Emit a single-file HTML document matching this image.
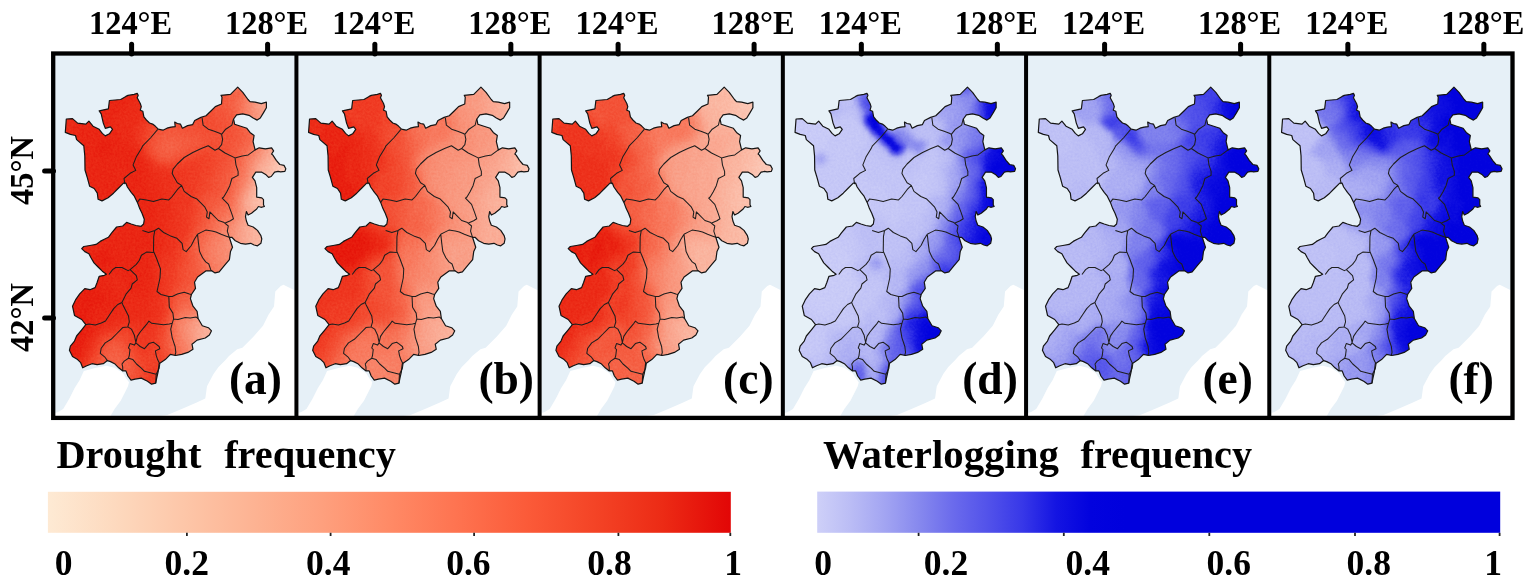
<!DOCTYPE html>
<html><head><meta charset="utf-8"><style>
html,body{margin:0;padding:0;background:#fff;width:1528px;height:584px;overflow:hidden}
svg{display:block}
text{font-family:"Liberation Serif","Times New Roman",serif;font-weight:bold;fill:#000}
</style></head><body>
<svg width="1528" height="584" viewBox="0 0 1528 584">
<defs>
<path id="ol" d="M137.2 93.4 L138.2 95.3 L137.2 97.8 L140.3 103.5 L141.3 106.6 L140.3 110.2 L142.8 111.2 L143.9 116.9 L146.4 120.0 L149.5 123.0 L152.6 124.1 L155.2 126.1 L158.3 129.2 L162.9 130.2 L167.0 128.2 L171.1 127.1 L175.2 126.6 L174.7 122.0 L177.3 123.5 L180.4 124.1 L182.4 128.2 L187.6 125.6 L192.7 124.6 L194.7 120.5 L200.9 117.4 L206.0 115.8 L211.2 110.7 L215.3 106.6 L221.5 104.0 L222.0 97.3 L221.0 95.3 L230.5 94.4 L237.7 87.2 L242.8 92.3 L248.0 99.5 L250.0 101.6 L255.1 102.2 L261.3 103.6 L266.4 102.2 L266.4 107.7 L263.4 112.9 L260.3 118.0 L257.2 120.1 L253.1 118.0 L249.0 115.3 L242.8 113.9 L236.6 114.9 L233.6 119.0 L234.6 124.2 L240.7 126.2 L246.9 128.3 L250.0 132.4 L254.1 135.5 L253.1 141.6 L255.1 149.9 L259.2 147.8 L265.4 148.8 L271.6 147.8 L273.6 150.9 L271.6 154.0 L272.9 155.1 L276.3 160.3 L279.8 164.5 L284.0 165.4 L285.8 168.8 L284.9 171.4 L280.6 171.9 L278.1 171.4 L274.6 172.2 L271.2 176.5 L268.6 177.4 L266.1 174.8 L261.8 172.2 L255.8 172.2 L252.4 177.4 L255.0 180.8 L256.7 187.7 L256.7 197.1 L261.8 197.9 L263.5 199.6 L263.5 204.8 L264.4 206.5 L261.0 207.3 L258.4 206.5 L256.7 209.0 L251.5 213.3 L248.1 215.0 L246.4 211.6 L245.5 216.7 L246.4 221.0 L248.1 225.3 L253.2 227.0 L257.5 230.4 L260.9 235.6 L261.8 239.0 L260.9 243.3 L257.5 245.8 L254.1 245.0 L250.7 243.3 L245.5 244.1 L240.4 243.3 L235.3 240.7 L231.8 237.3 L229.3 237.3 L232.5 247.3 L230.5 251.4 L229.4 259.6 L224.3 265.7 L219.2 271.9 L215.1 272.9 L212.0 270.9 L205.8 270.9 L201.7 274.0 L197.6 277.0 L194.5 282.2 L195.5 288.4 L191.4 294.5 L190.4 298.6 L193.0 306.2 L197.1 311.3 L198.1 318.5 L202.3 325.7 L208.4 327.7 L211.5 330.8 L209.4 334.9 L205.3 338.0 L197.1 340.1 L192.0 344.2 L193.0 349.3 L187.9 352.4 L181.7 354.4 L175.5 355.5 L170.4 354.4 L165.3 359.6 L159.1 363.7 L158.1 371.9 L156.7 378.1 L155.7 383.2 L151.6 384.2 L147.5 381.2 L141.3 378.1 L135.1 379.1 L131.0 380.1 L127.9 376.0 L125.9 370.9 L122.8 370.9 L118.7 367.8 L114.6 363.7 L110.5 361.6 L107.4 360.6 L103.3 363.7 L97.1 364.7 L92.0 363.7 L86.8 365.7 L82.7 367.8 L80.7 362.7 L77.6 359.6 L72.5 356.5 L69.4 350.3 L70.4 346.2 L74.5 341.1 L76.6 336.0 L81.7 329.8 L85.8 324.7 L81.7 319.5 L74.5 315.4 L72.5 306.2 L75.5 299.9 L79.7 293.8 L84.8 288.6 L89.9 289.7 L95.1 287.6 L97.1 282.5 L99.2 276.3 L104.3 275.3 L106.4 274.2 L102.3 271.2 L98.1 267.0 L94.0 262.9 L91.0 257.8 L88.9 253.7 L84.8 251.6 L81.7 248.6 L83.8 246.5 L89.9 245.5 L96.1 244.4 L100.2 241.4 L104.3 239.3 L108.4 237.3 L111.5 233.1 L116.6 227.0 L122.8 226.0 L126.6 222.4 L131.2 224.0 L135.9 225.5 L141.2 226.3 L143.6 224.0 L144.3 219.3 L142.0 213.2 L139.7 208.6 L137.4 202.4 L134.3 196.2 L131.2 192.4 L127.4 187.0 L125.8 183.1 L123.5 183.1 L118.1 188.5 L113.5 193.2 L108.1 197.8 L102.0 200.9 L98.1 199.3 L97.3 193.2 L94.2 188.5 L89.6 186.2 L87.3 177.7 L85.0 170.0 L84.8 156.0 L83.8 145.7 L76.6 139.6 L75.5 135.5 L70.4 134.4 L65.3 132.4 L66.3 119.0 L72.5 118.6 L77.6 123.1 L85.8 124.2 L88.9 121.1 L93.0 126.2 L99.2 129.3 L102.3 133.4 L105.3 135.9 L109.4 133.8 L112.5 129.3 L110.5 126.8 L105.3 128.3 L103.3 123.1 L101.2 113.9 L99.2 110.8 L108.4 108.8 L109.4 100.5 L120.7 99.5 L125.9 96.4 L128.0 95.4 L134.1 94.4 Z"/>
<clipPath id="clp"><use href="#ol"/></clipPath>
<path id="inl" d="M157.7 129.3 L150.9 137.5 L142.7 145.8 L141.4 148.6 L136.2 157.1 L133.1 164.9 L135.8 170.4 L130.1 173.3 L124.0 178.5 L124.9 184.1 M202.1 117.9 L203.1 125.1 L208.3 129.2 L214.4 131.2 L219.6 133.3 L221.6 134.3 M221.6 134.3 L225.7 129.2 L231.9 125.1 L232.9 121.0 L233.6 119.0 M221.6 134.3 L222.6 139.4 L221.6 144.6 L218.4 148.5 L215.0 150.3 L208.2 145.8 L201.3 148.6 L192.8 152.5 L184.2 157.5 L177.3 164.0 L173.1 169.1 L172.2 173.4 L173.9 176.8 L177.3 182.8 L181.6 185.4 M181.6 185.4 L177.3 189.7 L172.2 196.5 L168.8 199.9 L161.9 199.1 L153.4 201.6 L146.5 199.9 L139.7 199.1 L137.4 202.4 M181.6 185.4 L184.2 191.4 L191.1 196.5 L197.0 199.1 L201.3 203.4 L204.7 206.8 L207.3 211.9 L206.5 217.1 L209.0 218.8 L209.9 211.9 L213.3 215.3 L218.4 220.5 L223.6 222.2 L228.3 226.0 L227.3 231.1 L229.3 237.3 M218.4 148.5 L225.0 153.0 L235.0 157.9 L242.2 155.9 L248.3 154.9 L255.1 149.9 M235.0 157.9 L236.0 165.1 L238.1 171.3 L238.1 175.4 L231.9 178.5 L229.8 185.7 L226.8 191.8 L223.7 197.0 L222.2 198.2 L228.3 204.4 L231.4 212.6 L233.5 218.8 L230.4 220.8 L225.2 222.9 M142.4 230.5 L148.6 232.6 L154.8 230.5 L158.5 228.2 L163.6 232.5 L170.5 235.9 L177.0 238.3 L182.1 243.4 L183.1 249.6 L186.2 251.6 L191.3 245.5 L194.4 239.3 L197.5 234.2 M197.5 234.2 L201.6 232.1 L205.7 230.1 L211.9 231.1 L216.0 232.1 L221.1 234.2 L226.3 236.2 L229.3 237.3 M197.5 234.2 L198.5 243.4 L199.6 251.6 L202.6 257.8 L205.7 261.9 L208.8 264.0 L210.9 270.1 L212.0 270.9 M154.8 230.5 L153.7 236.7 L153.5 251.1 L156.8 259.0 L160.5 269.0 L160.0 278.0 L157.0 291.5 L161.0 294.5 L168.8 296.5 L169.3 307.3 L172.9 313.1 L173.6 318.9 L172.2 323.3 M153.5 252.5 L146.5 252.1 L141.4 255.2 L139.4 260.3 L136.3 264.4 L130.1 269.6 L128.1 270.6 L121.9 267.5 L115.7 267.5 L112.6 269.6 L109.0 274.5 M130.1 269.6 L136.3 275.7 L137.3 279.9 L132.2 284.0 L131.1 288.1 L126.0 294.2 L121.9 302.5 L117.8 304.5 L113.7 308.6 L109.6 314.8 L105.5 321.0 L101.3 323.0 L95.2 325.1 L89.0 324.0 L85.8 324.7 M168.8 296.5 L172.2 296.5 L177.4 294.0 L184.2 292.3 L189.4 294.0 L191.4 294.5 M121.9 302.5 L122.7 304.4 L125.6 310.2 L128.5 316.0 L129.3 321.8 L127.8 326.9 M127.8 326.9 L122.7 327.6 L116.9 333.5 L111.1 339.3 L105.2 342.9 L101.2 348.2 L100.3 353.3 L104.6 356.8 L107.4 360.6 M127.8 326.9 L131.4 329.1 L134.3 334.9 L135.8 342.2 L135.8 342.9 M135.8 342.9 L137.3 336.4 L140.2 332.0 L143.8 327.6 L147.4 323.3 L148.9 321.1 L151.8 323.3 L157.6 324.0 L163.4 324.7 L169.3 324.0 L172.2 323.3 M135.8 342.9 L140.2 346.5 L144.5 348.7 L148.9 343.6 L153.3 342.2 L155.4 343.6 L159.1 346.5 L159.8 348.7 L155.4 350.9 L156.2 355.3 L157.6 359.6 L159.8 364.0 L159.1 368.4 L156.2 374.2 L155.7 383.2 M135.8 342.9 L134.3 345.1 L130.0 343.6 L128.5 348.0 L130.0 349.5 L129.3 355.3 L128.5 358.2 L124.2 361.1 L122.0 364.0 L122.7 366.9 L122.8 370.9 M128.5 358.2 L132.9 359.6 L136.5 364.0 L141.6 368.4 L144.5 371.3 L150.3 372.7 L156.2 374.2 M173.6 318.9 L178.0 319.6 L185.3 317.5 L190.2 317.9 L196.2 317.1 L198.1 318.5 M172.2 323.3 L170.7 329.1 L172.2 337.8 L175.1 346.5 L175.8 352.4 L175.0 355.5"/>
<filter id="fr" x="40" y="70" width="270" height="340" filterUnits="userSpaceOnUse" color-interpolation-filters="sRGB">
<feGaussianBlur in="SourceGraphic" stdDeviation="3" edgeMode="duplicate" result="bl"/>
<feTurbulence type="fractalNoise" baseFrequency="0.45" numOctaves="2" seed="3" result="tn"/>
<feColorMatrix in="tn" type="matrix" values="1 0 0 0 0 1 0 0 0 0 1 0 0 0 0 0 0 0 0 1" result="gn"/>
<feComposite in="bl" in2="gn" operator="arithmetic" k1="0" k2="1" k3="0.1" k4="-0.05"/>
<feComponentTransfer><feFuncR type="table" tableValues="0.996 0.992 0.988 0.984 0.980 0.976 0.973 0.961 0.949 0.925 0.894"/><feFuncG type="table" tableValues="0.929 0.863 0.792 0.722 0.647 0.565 0.471 0.369 0.267 0.165 0.055"/><feFuncB type="table" tableValues="0.894 0.808 0.725 0.639 0.557 0.463 0.361 0.259 0.165 0.086 0.024"/></feComponentTransfer>
</filter>
<filter id="fb" x="40" y="70" width="270" height="340" filterUnits="userSpaceOnUse" color-interpolation-filters="sRGB">
<feGaussianBlur in="SourceGraphic" stdDeviation="2" edgeMode="duplicate" result="bl"/>
<feTurbulence type="fractalNoise" baseFrequency="0.45" numOctaves="2" seed="5" result="tn"/>
<feColorMatrix in="tn" type="matrix" values="1 0 0 0 0 1 0 0 0 0 1 0 0 0 0 0 0 0 0 1" result="gn"/>
<feComposite in="bl" in2="gn" operator="arithmetic" k1="0" k2="1" k3="0.1" k4="-0.05"/>
<feComponentTransfer><feFuncR type="table" tableValues="0.800 0.729 0.635 0.525 0.416 0.322 0.220 0.078 0.008"/><feFuncG type="table" tableValues="0.808 0.737 0.643 0.533 0.416 0.322 0.220 0.078 0.008"/><feFuncB type="table" tableValues="0.973 0.961 0.949 0.933 0.925 0.918 0.910 0.886 0.871"/></feComponentTransfer>
</filter>

<linearGradient id="cbr" x1="0" x2="1" y1="0" y2="0"><stop offset="0.0" stop-color="#FEEAD4"/><stop offset="0.1" stop-color="#FDD9BE"/><stop offset="0.2" stop-color="#FDC6A8"/><stop offset="0.3" stop-color="#FDB393"/><stop offset="0.4" stop-color="#FEA07E"/><stop offset="0.5" stop-color="#FF8A66"/><stop offset="0.6" stop-color="#FE7350"/><stop offset="0.7" stop-color="#FB5B39"/><stop offset="0.8" stop-color="#F44426"/><stop offset="0.9" stop-color="#EC2B15"/><stop offset="1.0" stop-color="#E20606"/></linearGradient>
<linearGradient id="cbb" x1="0" x2="1" y1="0" y2="0"><stop offset="0.00" stop-color="#CED0F8"/><stop offset="0.05" stop-color="#BABCF5"/><stop offset="0.10" stop-color="#A2A4F2"/><stop offset="0.15" stop-color="#8688EE"/><stop offset="0.20" stop-color="#6A6AEC"/><stop offset="0.25" stop-color="#5252EA"/><stop offset="0.30" stop-color="#3838E8"/><stop offset="0.35" stop-color="#1414E2"/><stop offset="0.40" stop-color="#0202DE"/><stop offset="0.45" stop-color="#0000DD"/><stop offset="0.50" stop-color="#0000DD"/><stop offset="0.55" stop-color="#0000DD"/><stop offset="0.60" stop-color="#0000DD"/><stop offset="0.65" stop-color="#0000DD"/><stop offset="0.70" stop-color="#0000DD"/><stop offset="0.75" stop-color="#0000DD"/><stop offset="0.80" stop-color="#0000DD"/><stop offset="0.85" stop-color="#0000DD"/><stop offset="0.90" stop-color="#0000DD"/><stop offset="0.95" stop-color="#0000DD"/><stop offset="1.00" stop-color="#0000DD"/></linearGradient>
</defs>
<g transform="translate(0.00,0)">
<rect x="55" y="55" width="243" height="362" fill="#E6F0F7"/>
<path d="M55.0 413.0 L58.1 412.0 L63.2 408.9 L69.4 398.6 L74.5 388.3 L79.7 380.1 L83.8 370.9 L96.1 367.8 L106.4 365.7 L114.6 367.8 L122.8 372.9 L125.9 378.1 L129.0 382.2 L128.0 386.3 L124.9 392.5 L120.7 400.7 L114.6 408.9 L110.5 416.0 L55.0 416.0 Z" fill="#fff"/>
<path d="M297.0 291.5 L289.0 287.4 L283.5 284.7 L280.8 286.0 L275.3 291.5 L274.0 306.6 L268.5 314.8 L263.0 325.8 L253.4 336.8 L242.4 347.7 L237.2 349.3 L229.0 356.0 L225.5 360.0 L218.5 367.0 L213.5 374.0 L207.0 386.3 L205.3 398.6 L196.1 402.7 L181.7 408.9 L167.3 415.1 L160.0 416.0 L297.0 416.0 Z" fill="#fff"/>
<g clip-path="url(#clp)"><g filter="url(#fr)"><path fill="#212121" d="M285 180h5v5h-5zM285 185h5v5h-5z"/><path fill="#262626" d="M285 165h5v5h-5zM285 170h5v5h-5zM280 175h10v5h-10zM280 180h5v5h-5zM285 190h5v5h-5z"/><path fill="#2b2b2b" d="M285 160h5v5h-5zM280 170h5v5h-5zM280 185h5v5h-5z"/><path fill="#313131" d="M285 155h5v5h-5zM280 165h5v5h-5zM275 175h5v5h-5zM275 180h5v5h-5zM275 185h5v5h-5zM280 190h5v5h-5zM285 195h5v5h-5z"/><path fill="#363636" d="M280 160h5v5h-5zM275 165h5v5h-5zM275 170h5v5h-5zM270 190h10v5h-10zM280 195h5v5h-5z"/><path fill="#3c3c3c" d="M285 150h5v5h-5zM280 155h5v5h-5zM270 175h5v5h-5zM270 180h5v5h-5zM265 185h10v5h-10zM265 190h5v5h-5zM265 195h15v5h-15zM270 200h20v5h-20z"/><path fill="#414141" d="M285 145h5v5h-5zM275 160h5v5h-5zM270 170h5v5h-5zM265 180h5v5h-5zM260 185h5v5h-5zM260 190h5v5h-5zM260 195h5v5h-5zM260 200h10v5h-10zM265 205h25v5h-25zM275 210h15v5h-15z"/><path fill="#474747" d="M285 140h5v5h-5zM280 150h5v5h-5zM275 155h5v5h-5zM270 165h5v5h-5zM265 175h5v5h-5zM260 180h5v5h-5zM255 190h5v5h-5zM255 195h5v5h-5zM255 200h5v5h-5zM260 205h5v5h-5zM265 210h10v5h-10zM270 215h20v5h-20zM270 240h10v5h-10zM265 245h15v5h-15zM265 250h15v5h-15zM265 255h15v5h-15zM260 260h15v5h-15z"/><path fill="#4c4c4c" d="M280 145h5v5h-5zM270 160h5v5h-5zM265 170h5v5h-5zM260 175h5v5h-5zM255 185h5v5h-5zM250 195h5v5h-5zM250 200h5v5h-5zM255 205h5v5h-5zM260 210h5v5h-5zM265 215h5v5h-5zM270 220h20v5h-20zM265 225h20v5h-20zM260 230h25v5h-25zM260 235h25v5h-25zM255 240h15v5h-15zM280 240h10v5h-10zM255 245h10v5h-10zM280 245h5v5h-5zM255 250h10v5h-10zM280 250h5v5h-5zM255 255h10v5h-10zM280 255h5v5h-5zM255 260h5v5h-5zM275 260h5v5h-5zM250 265h25v5h-25zM255 270h10v5h-10zM225 325h10v5h-10zM220 330h15v5h-15zM215 335h20v5h-20zM215 340h15v5h-15zM215 345h15v5h-15zM215 350h10v5h-10z"/><path fill="#515151" d="M285 135h5v5h-5zM280 140h5v5h-5zM275 150h5v5h-5zM265 165h5v5h-5zM260 170h5v5h-5zM250 205h5v5h-5zM255 210h5v5h-5zM260 215h5v5h-5zM260 220h10v5h-10zM255 225h10v5h-10zM285 225h5v5h-5zM255 230h5v5h-5zM285 230h5v5h-5zM255 235h5v5h-5zM285 235h5v5h-5zM250 240h5v5h-5zM250 245h5v5h-5zM285 245h5v5h-5zM250 250h5v5h-5zM250 255h5v5h-5zM250 260h5v5h-5zM250 270h5v5h-5zM265 270h5v5h-5zM220 315h15v5h-15zM215 320h20v5h-20zM210 325h15v5h-15zM210 330h10v5h-10zM235 330h5v5h-5zM205 335h10v5h-10zM205 340h10v5h-10zM230 340h5v5h-5zM205 345h10v5h-10zM230 345h5v5h-5zM210 350h5v5h-5zM225 350h5v5h-5zM210 355h15v5h-15z"/><path fill="#575757" d="M285 130h5v5h-5zM280 135h5v5h-5zM275 145h5v5h-5zM270 155h5v5h-5zM265 160h5v5h-5zM255 180h5v5h-5zM250 190h5v5h-5zM255 215h5v5h-5zM255 220h5v5h-5zM250 225h5v5h-5zM250 230h5v5h-5zM250 235h5v5h-5zM245 250h5v5h-5zM285 250h5v5h-5zM245 255h5v5h-5zM245 260h5v5h-5zM280 260h5v5h-5zM275 265h5v5h-5zM220 310h10v5h-10zM215 315h5v5h-5zM210 320h5v5h-5zM205 325h5v5h-5zM235 325h5v5h-5zM205 330h5v5h-5zM235 335h5v5h-5zM235 340h5v5h-5zM205 350h5v5h-5zM230 350h5v5h-5zM225 355h5v5h-5zM210 360h10v5h-10z"/><path fill="#5c5c5c" d="M270 85h20v5h-20zM270 90h20v5h-20zM270 95h20v5h-20zM270 100h20v5h-20zM275 105h15v5h-15zM275 110h15v5h-15zM275 115h15v5h-15zM280 120h10v5h-10zM275 140h5v5h-5zM270 150h5v5h-5zM260 165h5v5h-5zM255 175h5v5h-5zM245 200h5v5h-5zM250 210h5v5h-5zM250 215h5v5h-5zM250 220h5v5h-5zM245 225h5v5h-5zM245 230h5v5h-5zM245 235h5v5h-5zM245 240h5v5h-5zM245 245h5v5h-5zM245 265h5v5h-5zM270 270h5v5h-5zM230 310h5v5h-5zM210 315h5v5h-5zM205 320h5v5h-5zM235 320h5v5h-5zM200 325h5v5h-5zM200 330h5v5h-5zM200 335h5v5h-5zM200 340h5v5h-5zM200 345h5v5h-5zM205 355h5v5h-5zM220 360h5v5h-5z"/><path fill="#626262" d="M265 85h5v5h-5zM265 90h5v5h-5zM265 95h5v5h-5zM265 100h5v5h-5zM265 105h10v5h-10zM265 110h10v5h-10zM270 115h5v5h-5zM270 120h10v5h-10zM275 125h15v5h-15zM280 130h5v5h-5zM275 135h5v5h-5zM270 145h5v5h-5zM265 155h5v5h-5zM260 160h5v5h-5zM255 170h5v5h-5zM250 185h5v5h-5zM245 195h5v5h-5zM245 205h5v5h-5zM245 210h5v5h-5zM245 215h5v5h-5zM245 220h5v5h-5zM285 255h5v5h-5zM245 270h5v5h-5zM250 275h10v5h-10zM215 310h5v5h-5zM200 320h5v5h-5zM235 345h5v5h-5zM200 350h5v5h-5zM205 360h5v5h-5z"/><path fill="#676767" d="M260 90h5v5h-5zM260 95h5v5h-5zM260 100h5v5h-5zM260 105h5v5h-5zM265 115h5v5h-5zM265 120h5v5h-5zM270 125h5v5h-5zM275 130h5v5h-5zM265 150h5v5h-5zM255 165h5v5h-5zM240 225h5v5h-5zM240 230h5v5h-5zM240 235h5v5h-5zM240 240h5v5h-5zM240 245h5v5h-5zM240 250h5v5h-5zM240 255h5v5h-5zM260 275h5v5h-5zM225 305h5v5h-5zM205 315h5v5h-5zM235 315h5v5h-5zM195 325h5v5h-5zM195 330h5v5h-5zM195 335h5v5h-5zM195 340h5v5h-5zM210 365h5v5h-5z"/><path fill="#6d6d6d" d="M260 85h5v5h-5zM260 110h5v5h-5zM260 115h5v5h-5zM260 120h5v5h-5zM265 125h5v5h-5zM270 140h5v5h-5zM260 155h5v5h-5zM250 180h5v5h-5zM245 190h5v5h-5zM240 220h5v5h-5zM240 260h5v5h-5zM220 305h5v5h-5zM210 310h5v5h-5zM200 315h5v5h-5zM195 320h5v5h-5zM195 345h5v5h-5zM200 355h5v5h-5zM230 355h5v5h-5zM205 365h5v5h-5zM215 365h5v5h-5z"/><path fill="#727272" d="M255 95h5v5h-5zM255 100h5v5h-5zM255 105h5v5h-5zM255 110h5v5h-5zM270 130h5v5h-5zM270 135h5v5h-5zM265 145h5v5h-5zM255 160h5v5h-5zM250 175h5v5h-5zM240 200h5v5h-5zM240 205h5v5h-5zM240 210h5v5h-5zM240 215h5v5h-5zM235 225h5v5h-5zM235 230h5v5h-5zM235 235h5v5h-5zM235 240h5v5h-5zM235 245h5v5h-5zM235 250h5v5h-5zM240 265h5v5h-5zM280 265h5v5h-5zM245 275h5v5h-5zM265 275h5v5h-5zM190 325h5v5h-5zM190 330h5v5h-5zM190 335h5v5h-5zM200 360h5v5h-5zM225 360h5v5h-5z"/><path fill="#777777" d="M255 90h5v5h-5zM255 115h5v5h-5zM255 120h5v5h-5zM260 125h5v5h-5zM265 140h5v5h-5zM260 150h5v5h-5zM250 170h5v5h-5zM245 185h5v5h-5zM240 195h5v5h-5zM235 220h5v5h-5zM230 240h5v5h-5zM235 255h5v5h-5zM240 270h5v5h-5zM275 270h5v5h-5zM215 305h5v5h-5zM230 305h5v5h-5zM205 310h5v5h-5zM195 315h5v5h-5zM190 320h5v5h-5zM240 330h5v5h-5zM240 335h5v5h-5zM190 340h5v5h-5zM195 350h5v5h-5z"/><path fill="#7d7d7d" d="M255 85h5v5h-5zM250 100h5v5h-5zM250 105h5v5h-5zM255 155h5v5h-5zM250 165h5v5h-5zM230 230h5v5h-5zM230 235h5v5h-5zM230 245h5v5h-5zM230 250h5v5h-5zM235 260h5v5h-5zM285 260h5v5h-5zM185 325h5v5h-5zM240 325h5v5h-5zM185 330h5v5h-5zM190 345h5v5h-5zM235 350h5v5h-5zM195 355h5v5h-5zM200 365h5v5h-5z"/><path fill="#828282" d="M250 95h5v5h-5zM250 110h5v5h-5zM250 115h5v5h-5zM265 130h5v5h-5zM265 135h5v5h-5zM260 145h5v5h-5zM250 160h5v5h-5zM245 180h5v5h-5zM240 190h5v5h-5zM235 215h5v5h-5zM230 225h5v5h-5zM225 235h5v5h-5zM225 240h5v5h-5zM225 245h5v5h-5zM225 250h5v5h-5zM225 255h10v5h-10zM230 260h5v5h-5zM235 265h5v5h-5zM240 275h5v5h-5zM200 310h5v5h-5zM235 310h5v5h-5zM190 315h5v5h-5zM185 320h5v5h-5zM185 335h5v5h-5zM240 340h5v5h-5zM190 350h5v5h-5zM195 360h5v5h-5zM220 365h5v5h-5z"/><path fill="#888888" d="M250 90h5v5h-5zM250 120h5v5h-5zM255 125h5v5h-5zM260 140h5v5h-5zM255 150h5v5h-5zM245 175h5v5h-5zM235 210h5v5h-5zM230 220h5v5h-5zM225 230h5v5h-5zM220 235h5v5h-5zM220 240h5v5h-5zM220 245h5v5h-5zM215 250h10v5h-10zM220 255h5v5h-5zM220 260h10v5h-10zM225 265h10v5h-10zM230 270h10v5h-10zM235 275h5v5h-5zM225 300h5v5h-5zM210 305h5v5h-5zM180 320h5v5h-5zM240 320h5v5h-5zM180 325h5v5h-5zM180 330h5v5h-5zM185 340h5v5h-5zM190 355h5v5h-5zM195 365h5v5h-5z"/><path fill="#8d8d8d" d="M245 100h5v5h-5zM245 105h5v5h-5zM245 110h5v5h-5zM260 130h5v5h-5zM255 145h5v5h-5zM250 155h5v5h-5zM245 170h5v5h-5zM240 185h5v5h-5zM235 200h5v5h-5zM235 205h5v5h-5zM225 225h5v5h-5zM220 230h5v5h-5zM215 240h5v5h-5zM215 245h5v5h-5zM215 255h5v5h-5zM215 260h5v5h-5zM220 265h5v5h-5zM225 270h5v5h-5zM230 275h5v5h-5zM270 275h5v5h-5zM220 300h5v5h-5zM195 310h5v5h-5zM185 315h5v5h-5zM180 335h5v5h-5zM185 345h5v5h-5zM185 350h5v5h-5zM190 360h5v5h-5zM200 370h10v5h-10z"/><path fill="#929292" d="M250 85h5v5h-5zM245 95h5v5h-5zM245 115h5v5h-5zM260 135h5v5h-5zM250 150h5v5h-5zM245 160h5v5h-5zM245 165h5v5h-5zM240 180h5v5h-5zM235 195h5v5h-5zM230 215h5v5h-5zM225 220h5v5h-5zM220 225h5v5h-5zM215 235h5v5h-5zM210 240h5v5h-5zM210 245h5v5h-5zM210 250h5v5h-5zM210 255h5v5h-5zM210 260h5v5h-5zM215 265h5v5h-5zM215 270h10v5h-10zM220 275h10v5h-10zM225 280h20v5h-20zM205 305h5v5h-5zM190 310h5v5h-5zM180 315h5v5h-5zM175 325h5v5h-5zM180 340h5v5h-5zM180 345h5v5h-5zM185 355h5v5h-5zM190 365h5v5h-5zM195 370h5v5h-5z"/><path fill="#989898" d="M240 105h5v5h-5zM240 110h5v5h-5zM245 120h5v5h-5zM250 125h5v5h-5zM255 140h5v5h-5zM245 155h5v5h-5zM240 175h5v5h-5zM235 190h5v5h-5zM230 210h5v5h-5zM225 215h5v5h-5zM220 220h5v5h-5zM215 230h5v5h-5zM210 235h5v5h-5zM205 245h5v5h-5zM205 250h5v5h-5zM205 255h5v5h-5zM210 265h5v5h-5zM210 270h5v5h-5zM215 275h5v5h-5zM215 280h10v5h-10zM245 280h15v5h-15zM220 285h15v5h-15zM215 300h5v5h-5zM200 305h5v5h-5zM185 310h5v5h-5zM175 320h5v5h-5zM175 330h5v5h-5zM175 335h5v5h-5zM240 345h5v5h-5zM180 350h5v5h-5zM185 360h5v5h-5zM230 360h5v5h-5zM210 370h5v5h-5z"/><path fill="#9d9d9d" d="M245 90h5v5h-5zM240 100h5v5h-5zM240 115h5v5h-5zM255 130h5v5h-5zM255 135h5v5h-5zM250 145h5v5h-5zM245 150h5v5h-5zM240 165h5v5h-5zM240 170h5v5h-5zM235 180h5v5h-5zM235 185h5v5h-5zM230 200h5v5h-5zM230 205h5v5h-5zM225 210h5v5h-5zM220 215h5v5h-5zM215 220h5v5h-5zM215 225h5v5h-5zM210 230h5v5h-5zM205 240h5v5h-5zM205 260h5v5h-5zM205 265h5v5h-5zM280 270h5v5h-5zM210 275h5v5h-5zM215 285h5v5h-5zM235 285h5v5h-5zM225 290h5v5h-5zM210 300h5v5h-5zM230 300h5v5h-5zM195 305h5v5h-5zM180 310h5v5h-5zM175 315h5v5h-5zM240 315h5v5h-5zM175 340h5v5h-5zM175 345h5v5h-5zM180 355h5v5h-5zM235 355h5v5h-5zM185 365h5v5h-5zM190 370h5v5h-5z"/><path fill="#a3a3a3" d="M245 85h5v5h-5zM240 95h5v5h-5zM250 140h5v5h-5zM240 155h5v5h-5zM240 160h5v5h-5zM235 175h5v5h-5zM230 195h5v5h-5zM225 205h5v5h-5zM220 210h5v5h-5zM215 215h5v5h-5zM210 225h5v5h-5zM205 235h5v5h-5zM200 240h5v5h-5zM200 245h5v5h-5zM200 250h5v5h-5zM200 255h5v5h-5zM285 265h5v5h-5zM205 270h5v5h-5zM205 275h5v5h-5zM210 280h5v5h-5zM260 280h5v5h-5zM220 290h5v5h-5zM230 290h5v5h-5zM220 295h10v5h-10zM200 300h10v5h-10zM185 305h10v5h-10zM235 305h5v5h-5zM175 350h5v5h-5zM180 360h5v5h-5zM225 365h5v5h-5zM215 370h5v5h-5zM190 375h10v5h-10z"/><path fill="#a8a8a8" d="M240 90h5v5h-5zM235 95h5v5h-5zM235 100h5v5h-5zM235 105h5v5h-5zM235 110h5v5h-5zM240 120h5v5h-5zM245 125h5v5h-5zM250 130h5v5h-5zM250 135h5v5h-5zM245 140h5v5h-5zM245 145h5v5h-5zM240 150h5v5h-5zM235 165h5v5h-5zM235 170h5v5h-5zM230 185h5v5h-5zM230 190h5v5h-5zM225 200h5v5h-5zM220 205h5v5h-5zM215 210h5v5h-5zM210 220h5v5h-5zM205 230h5v5h-5zM200 235h5v5h-5zM200 260h5v5h-5zM200 265h5v5h-5zM275 275h5v5h-5zM205 280h5v5h-5zM265 280h5v5h-5zM210 285h5v5h-5zM240 285h5v5h-5zM210 290h10v5h-10zM200 295h20v5h-20zM185 300h15v5h-15zM180 305h5v5h-5zM175 310h5v5h-5zM170 320h5v5h-5zM170 325h5v5h-5zM170 330h5v5h-5zM170 335h5v5h-5zM170 340h5v5h-5zM240 350h5v5h-5zM175 355h5v5h-5zM185 370h5v5h-5zM200 375h5v5h-5z"/><path fill="#aeaeae" d="M230 85h15v5h-15zM230 90h10v5h-10zM230 95h5v5h-5zM230 100h5v5h-5zM230 105h5v5h-5zM235 115h5v5h-5zM245 130h5v5h-5zM245 135h5v5h-5zM165 140h10v5h-10zM165 145h15v5h-15zM240 145h5v5h-5zM165 150h5v5h-5zM235 155h5v5h-5zM235 160h5v5h-5zM230 175h5v5h-5zM230 180h5v5h-5zM225 195h5v5h-5zM220 200h5v5h-5zM215 205h5v5h-5zM210 215h5v5h-5zM205 225h5v5h-5zM200 230h5v5h-5zM195 240h5v5h-5zM195 245h5v5h-5zM195 250h5v5h-5zM200 270h5v5h-5zM200 275h5v5h-5zM205 285h5v5h-5zM190 290h20v5h-20zM235 290h5v5h-5zM185 295h15v5h-15zM230 295h5v5h-5zM180 300h5v5h-5zM240 310h5v5h-5zM245 325h5v5h-5zM245 330h5v5h-5zM245 335h5v5h-5zM170 345h5v5h-5zM170 350h5v5h-5zM110 355h10v5h-10zM105 360h20v5h-20zM105 365h20v5h-20zM180 365h5v5h-5zM100 370h20v5h-20zM220 370h5v5h-5zM100 375h20v5h-20zM185 375h5v5h-5zM95 380h20v5h-20zM95 385h15v5h-15z"/><path fill="#b3b3b3" d="M215 85h15v5h-15zM220 90h10v5h-10zM225 95h5v5h-5zM225 100h5v5h-5zM230 110h5v5h-5zM235 120h5v5h-5zM240 125h5v5h-5zM160 135h20v5h-20zM240 135h5v5h-5zM160 140h5v5h-5zM175 140h15v5h-15zM240 140h5v5h-5zM155 145h10v5h-10zM180 145h5v5h-5zM235 145h5v5h-5zM160 150h5v5h-5zM170 150h10v5h-10zM235 150h5v5h-5zM165 155h5v5h-5zM230 160h5v5h-5zM230 165h5v5h-5zM230 170h5v5h-5zM225 175h5v5h-5zM225 180h5v5h-5zM225 185h5v5h-5zM225 190h5v5h-5zM220 195h5v5h-5zM215 200h5v5h-5zM210 205h5v5h-5zM210 210h5v5h-5zM205 215h5v5h-5zM205 220h5v5h-5zM195 235h5v5h-5zM195 255h5v5h-5zM195 260h5v5h-5zM195 265h5v5h-5zM195 270h5v5h-5zM285 270h5v5h-5zM280 275h5v5h-5zM200 280h5v5h-5zM270 280h5v5h-5zM190 285h15v5h-15zM245 285h10v5h-10zM185 290h5v5h-5zM180 295h5v5h-5zM175 300h5v5h-5zM235 300h5v5h-5zM175 305h5v5h-5zM170 315h5v5h-5zM245 315h5v5h-5zM245 320h5v5h-5zM245 340h5v5h-5zM110 345h10v5h-10zM245 345h5v5h-5zM105 350h20v5h-20zM105 355h5v5h-5zM120 355h10v5h-10zM240 355h5v5h-5zM100 360h5v5h-5zM125 360h5v5h-5zM175 360h5v5h-5zM235 360h5v5h-5zM100 365h5v5h-5zM125 365h5v5h-5zM230 365h5v5h-5zM95 370h5v5h-5zM120 370h10v5h-10zM180 370h5v5h-5zM95 375h5v5h-5zM120 375h5v5h-5zM205 375h10v5h-10zM90 380h5v5h-5zM115 380h10v5h-10zM190 380h10v5h-10zM90 385h5v5h-5zM110 385h15v5h-15z"/><path fill="#b8b8b8" d="M170 85h15v5h-15zM200 85h15v5h-15zM205 90h15v5h-15zM210 95h15v5h-15zM210 100h15v5h-15zM215 105h15v5h-15zM220 110h10v5h-10zM225 115h10v5h-10zM230 120h5v5h-5zM165 125h10v5h-10zM235 125h5v5h-5zM160 130h25v5h-25zM235 130h10v5h-10zM155 135h5v5h-5zM180 135h20v5h-20zM235 135h5v5h-5zM155 140h5v5h-5zM190 140h10v5h-10zM230 140h10v5h-10zM185 145h10v5h-10zM230 145h5v5h-5zM155 150h5v5h-5zM180 150h5v5h-5zM230 150h5v5h-5zM160 155h5v5h-5zM170 155h5v5h-5zM230 155h5v5h-5zM225 165h5v5h-5zM225 170h5v5h-5zM220 175h5v5h-5zM220 180h5v5h-5zM220 185h5v5h-5zM220 190h5v5h-5zM210 195h10v5h-10zM60 200h5v5h-5zM205 200h10v5h-10zM60 205h10v5h-10zM205 205h5v5h-5zM60 210h5v5h-5zM205 210h5v5h-5zM200 225h5v5h-5zM195 230h5v5h-5zM190 240h5v5h-5zM190 245h5v5h-5zM190 250h5v5h-5zM190 255h5v5h-5zM190 260h5v5h-5zM190 265h5v5h-5zM190 270h5v5h-5zM195 275h5v5h-5zM285 275h5v5h-5zM190 280h10v5h-10zM275 280h15v5h-15zM185 285h5v5h-5zM255 285h35v5h-35zM180 290h5v5h-5zM240 290h50v5h-50zM175 295h5v5h-5zM235 295h55v5h-55zM240 300h50v5h-50zM240 305h50v5h-50zM170 310h5v5h-5zM245 310h45v5h-45zM250 315h40v5h-40zM250 320h40v5h-40zM250 325h40v5h-40zM165 330h5v5h-5zM250 330h40v5h-40zM165 335h5v5h-5zM250 335h40v5h-40zM110 340h5v5h-5zM165 340h5v5h-5zM250 340h40v5h-40zM105 345h5v5h-5zM120 345h5v5h-5zM165 345h5v5h-5zM250 345h40v5h-40zM245 350h45v5h-45zM100 355h5v5h-5zM170 355h5v5h-5zM245 355h45v5h-45zM130 360h5v5h-5zM240 360h50v5h-50zM95 365h5v5h-5zM130 365h5v5h-5zM175 365h5v5h-5zM235 365h55v5h-55zM130 370h5v5h-5zM225 370h65v5h-65zM60 375h5v5h-5zM90 375h5v5h-5zM125 375h5v5h-5zM215 375h75v5h-75zM60 380h10v5h-10zM125 380h5v5h-5zM185 380h5v5h-5zM200 380h90v5h-90zM60 385h30v5h-30zM125 385h5v5h-5zM190 385h100v5h-100z"/><path fill="#bebebe" d="M185 85h15v5h-15zM170 90h15v5h-15zM195 90h10v5h-10zM175 95h5v5h-5zM200 95h10v5h-10zM170 100h5v5h-5zM205 100h5v5h-5zM170 105h10v5h-10zM205 105h10v5h-10zM165 110h15v5h-15zM210 110h10v5h-10zM165 115h20v5h-20zM215 115h10v5h-10zM165 120h25v5h-25zM215 120h15v5h-15zM160 125h5v5h-5zM175 125h20v5h-20zM220 125h15v5h-15zM155 130h5v5h-5zM185 130h20v5h-20zM215 130h20v5h-20zM200 135h35v5h-35zM150 140h5v5h-5zM200 140h10v5h-10zM215 140h15v5h-15zM150 145h5v5h-5zM195 145h10v5h-10zM220 145h10v5h-10zM150 150h5v5h-5zM185 150h5v5h-5zM225 150h5v5h-5zM155 155h5v5h-5zM175 155h5v5h-5zM225 155h5v5h-5zM225 160h5v5h-5zM220 165h5v5h-5zM220 170h5v5h-5zM215 175h5v5h-5zM215 180h5v5h-5zM215 185h5v5h-5zM210 190h10v5h-10zM60 195h5v5h-5zM205 195h5v5h-5zM65 200h5v5h-5zM200 200h5v5h-5zM70 205h5v5h-5zM200 205h5v5h-5zM65 210h5v5h-5zM200 210h5v5h-5zM200 215h5v5h-5zM200 220h5v5h-5zM195 225h5v5h-5zM190 235h5v5h-5zM185 265h5v5h-5zM185 270h5v5h-5zM185 275h10v5h-10zM185 280h5v5h-5zM180 285h5v5h-5zM175 290h5v5h-5zM170 305h5v5h-5zM165 320h5v5h-5zM165 325h5v5h-5zM105 340h5v5h-5zM115 340h10v5h-10zM100 350h5v5h-5zM125 350h5v5h-5zM165 350h5v5h-5zM130 355h5v5h-5zM95 360h5v5h-5zM170 360h5v5h-5zM90 370h5v5h-5zM130 375h5v5h-5zM180 375h5v5h-5zM70 380h5v5h-5zM85 380h5v5h-5zM130 380h5v5h-5zM185 385h5v5h-5z"/><path fill="#c3c3c3" d="M165 85h5v5h-5zM185 90h10v5h-10zM170 95h5v5h-5zM180 95h20v5h-20zM175 100h30v5h-30zM165 105h5v5h-5zM180 105h25v5h-25zM180 110h30v5h-30zM160 115h5v5h-5zM185 115h30v5h-30zM160 120h5v5h-5zM190 120h25v5h-25zM155 125h5v5h-5zM195 125h25v5h-25zM150 130h5v5h-5zM205 130h10v5h-10zM150 135h5v5h-5zM210 140h5v5h-5zM205 145h15v5h-15zM190 150h10v5h-10zM215 150h10v5h-10zM180 155h5v5h-5zM215 155h10v5h-10zM160 160h15v5h-15zM215 160h10v5h-10zM215 165h5v5h-5zM215 170h5v5h-5zM210 175h5v5h-5zM210 180h5v5h-5zM210 185h5v5h-5zM205 190h5v5h-5zM200 195h5v5h-5zM60 215h5v5h-5zM195 215h5v5h-5zM195 220h5v5h-5zM185 245h5v5h-5zM185 250h5v5h-5zM185 255h5v5h-5zM185 260h5v5h-5zM180 265h5v5h-5zM180 270h5v5h-5zM180 275h5v5h-5zM180 280h5v5h-5zM175 285h5v5h-5zM170 295h5v5h-5zM170 300h5v5h-5zM110 335h15v5h-15zM160 335h5v5h-5zM160 340h5v5h-5zM100 345h5v5h-5zM125 345h5v5h-5zM160 345h5v5h-5zM130 350h5v5h-5zM95 355h5v5h-5zM165 355h5v5h-5zM135 360h5v5h-5zM90 365h5v5h-5zM135 365h5v5h-5zM170 365h5v5h-5zM135 370h5v5h-5zM175 370h5v5h-5zM65 375h5v5h-5zM85 375h5v5h-5zM135 375h5v5h-5zM75 380h10v5h-10zM180 380h5v5h-5zM130 385h5v5h-5zM180 385h5v5h-5z"/><path fill="#c9c9c9" d="M85 85h5v5h-5zM165 100h5v5h-5zM160 110h5v5h-5zM155 120h5v5h-5zM150 125h5v5h-5zM145 135h5v5h-5zM145 140h5v5h-5zM145 145h5v5h-5zM200 150h15v5h-15zM150 155h5v5h-5zM185 155h10v5h-10zM210 155h5v5h-5zM175 160h5v5h-5zM210 160h5v5h-5zM210 165h5v5h-5zM210 170h5v5h-5zM205 175h5v5h-5zM205 180h5v5h-5zM205 185h5v5h-5zM200 190h5v5h-5zM195 195h5v5h-5zM195 200h5v5h-5zM195 205h5v5h-5zM70 210h5v5h-5zM195 210h5v5h-5zM190 225h5v5h-5zM190 230h5v5h-5zM185 240h5v5h-5zM180 250h5v5h-5zM180 255h5v5h-5zM180 260h5v5h-5zM175 270h5v5h-5zM175 275h5v5h-5zM175 280h5v5h-5zM170 290h5v5h-5zM165 315h5v5h-5zM120 330h5v5h-5zM160 330h5v5h-5zM105 335h5v5h-5zM125 335h5v5h-5zM100 340h5v5h-5zM125 340h5v5h-5zM130 345h5v5h-5zM95 350h5v5h-5zM160 350h5v5h-5zM135 355h5v5h-5zM160 355h5v5h-5zM90 360h5v5h-5zM165 360h5v5h-5zM140 365h5v5h-5zM165 365h5v5h-5zM60 370h5v5h-5zM85 370h5v5h-5zM140 370h5v5h-5zM170 370h5v5h-5zM175 375h5v5h-5zM135 380h5v5h-5zM135 385h5v5h-5z"/><path fill="#cecece" d="M60 85h5v5h-5zM80 85h5v5h-5zM165 90h5v5h-5zM155 115h5v5h-5zM150 120h5v5h-5zM145 125h5v5h-5zM145 130h5v5h-5zM145 150h5v5h-5zM195 155h15v5h-15zM155 160h5v5h-5zM180 160h10v5h-10zM200 160h10v5h-10zM200 165h10v5h-10zM200 170h10v5h-10zM200 175h5v5h-5zM195 180h10v5h-10zM195 185h10v5h-10zM60 190h5v5h-5zM195 190h5v5h-5zM65 195h5v5h-5zM70 200h5v5h-5zM75 205h5v5h-5zM190 210h5v5h-5zM190 215h5v5h-5zM190 220h5v5h-5zM185 235h5v5h-5zM180 245h5v5h-5zM175 260h5v5h-5zM175 265h5v5h-5zM170 285h5v5h-5zM165 300h5v5h-5zM165 305h5v5h-5zM165 310h5v5h-5zM160 320h5v5h-5zM160 325h5v5h-5zM115 330h5v5h-5zM125 330h5v5h-5zM100 335h5v5h-5zM130 335h5v5h-5zM155 335h5v5h-5zM130 340h5v5h-5zM155 340h5v5h-5zM95 345h5v5h-5zM150 345h10v5h-10zM135 350h5v5h-5zM150 350h10v5h-10zM90 355h5v5h-5zM140 355h20v5h-20zM140 360h25v5h-25zM85 365h5v5h-5zM145 365h5v5h-5zM155 365h10v5h-10zM145 370h5v5h-5zM160 370h10v5h-10zM70 375h5v5h-5zM80 375h5v5h-5zM140 375h10v5h-10zM165 375h10v5h-10zM140 380h5v5h-5zM170 380h10v5h-10zM140 385h5v5h-5zM175 385h5v5h-5z"/><path fill="#d4d4d4" d="M65 85h15v5h-15zM160 85h5v5h-5zM165 95h5v5h-5zM160 105h5v5h-5zM145 120h5v5h-5zM140 125h5v5h-5zM140 130h5v5h-5zM140 135h5v5h-5zM140 140h5v5h-5zM190 160h10v5h-10zM165 165h35v5h-35zM185 170h15v5h-15zM185 175h15v5h-15zM185 180h10v5h-10zM185 185h10v5h-10zM185 190h10v5h-10zM190 195h5v5h-5zM190 200h5v5h-5zM185 205h10v5h-10zM75 210h5v5h-5zM185 210h5v5h-5zM65 215h5v5h-5zM185 215h5v5h-5zM185 220h5v5h-5zM185 225h5v5h-5zM185 230h5v5h-5zM180 235h5v5h-5zM180 240h5v5h-5zM175 245h5v5h-5zM175 250h5v5h-5zM175 255h5v5h-5zM170 260h5v5h-5zM165 265h10v5h-10zM165 270h10v5h-10zM165 275h10v5h-10zM165 280h10v5h-10zM165 285h5v5h-5zM165 290h5v5h-5zM165 295h5v5h-5zM160 315h5v5h-5zM120 325h10v5h-10zM155 325h5v5h-5zM105 330h10v5h-10zM130 330h5v5h-5zM155 330h5v5h-5zM135 335h5v5h-5zM150 335h5v5h-5zM95 340h5v5h-5zM135 340h5v5h-5zM150 340h5v5h-5zM135 345h15v5h-15zM90 350h5v5h-5zM140 350h10v5h-10zM85 360h5v5h-5zM150 365h5v5h-5zM80 370h5v5h-5zM150 370h10v5h-10zM75 375h5v5h-5zM150 375h15v5h-15zM145 380h25v5h-25zM145 385h30v5h-30z"/><path fill="#d9d9d9" d="M90 85h5v5h-5zM155 110h5v5h-5zM150 115h5v5h-5zM135 130h5v5h-5zM135 135h5v5h-5zM140 145h5v5h-5zM145 155h5v5h-5zM150 160h5v5h-5zM155 165h10v5h-10zM170 170h15v5h-15zM175 175h10v5h-10zM175 180h10v5h-10zM60 185h5v5h-5zM175 185h10v5h-10zM175 190h10v5h-10zM175 195h15v5h-15zM175 200h15v5h-15zM175 205h10v5h-10zM80 210h5v5h-5zM175 210h10v5h-10zM175 215h10v5h-10zM60 220h5v5h-5zM175 220h10v5h-10zM175 225h10v5h-10zM175 230h10v5h-10zM175 235h5v5h-5zM175 240h5v5h-5zM170 250h5v5h-5zM165 255h10v5h-10zM160 260h10v5h-10zM160 265h5v5h-5zM160 270h5v5h-5zM160 275h5v5h-5zM160 280h5v5h-5zM160 285h5v5h-5zM160 290h5v5h-5zM160 295h5v5h-5zM160 300h5v5h-5zM160 305h5v5h-5zM160 310h5v5h-5zM155 320h5v5h-5zM115 325h5v5h-5zM130 325h10v5h-10zM150 325h5v5h-5zM100 330h5v5h-5zM135 330h20v5h-20zM95 335h5v5h-5zM140 335h10v5h-10zM140 340h10v5h-10zM90 345h5v5h-5zM85 355h5v5h-5zM80 365h5v5h-5zM65 370h5v5h-5zM75 370h5v5h-5z"/><path fill="#dedede" d="M155 85h5v5h-5zM60 90h5v5h-5zM80 90h10v5h-10zM160 90h5v5h-5zM160 95h5v5h-5zM160 100h5v5h-5zM155 105h5v5h-5zM150 110h5v5h-5zM140 115h10v5h-10zM135 120h10v5h-10zM135 125h5v5h-5zM135 140h5v5h-5zM140 150h5v5h-5zM150 165h5v5h-5zM155 170h15v5h-15zM160 175h15v5h-15zM160 180h15v5h-15zM160 185h15v5h-15zM65 190h5v5h-5zM165 190h10v5h-10zM165 195h10v5h-10zM75 200h5v5h-5zM170 200h5v5h-5zM80 205h5v5h-5zM170 205h5v5h-5zM170 210h5v5h-5zM70 215h5v5h-5zM170 215h5v5h-5zM165 220h10v5h-10zM165 225h10v5h-10zM165 230h10v5h-10zM165 235h10v5h-10zM165 240h10v5h-10zM165 245h10v5h-10zM160 250h10v5h-10zM155 255h10v5h-10zM155 260h5v5h-5zM155 265h5v5h-5zM155 270h5v5h-5zM155 275h5v5h-5zM155 280h5v5h-5zM155 285h5v5h-5zM155 290h5v5h-5zM155 295h5v5h-5zM150 300h10v5h-10zM150 305h10v5h-10zM150 310h10v5h-10zM150 315h10v5h-10zM115 320h40v5h-40zM105 325h10v5h-10zM140 325h10v5h-10zM90 340h5v5h-5zM85 350h5v5h-5zM80 360h5v5h-5zM70 370h5v5h-5z"/><path fill="#e4e4e4" d="M95 85h5v5h-5zM145 85h10v5h-10zM65 90h15v5h-15zM90 90h5v5h-5zM140 90h20v5h-20zM60 95h35v5h-35zM135 95h25v5h-25zM60 100h35v5h-35zM130 100h30v5h-30zM60 105h30v5h-30zM125 105h30v5h-30zM60 110h25v5h-25zM120 110h30v5h-30zM60 115h20v5h-20zM115 115h25v5h-25zM60 120h20v5h-20zM115 120h20v5h-20zM60 125h15v5h-15zM115 125h20v5h-20zM60 130h15v5h-15zM120 130h15v5h-15zM60 135h10v5h-10zM120 135h15v5h-15zM60 140h10v5h-10zM125 140h10v5h-10zM60 145h5v5h-5zM130 145h10v5h-10zM60 150h5v5h-5zM60 155h5v5h-5zM140 155h5v5h-5zM60 160h5v5h-5zM145 160h5v5h-5zM145 165h5v5h-5zM115 170h10v5h-10zM145 170h10v5h-10zM60 175h5v5h-5zM120 175h5v5h-5zM145 175h15v5h-15zM60 180h5v5h-5zM145 180h15v5h-15zM150 185h10v5h-10zM150 190h15v5h-15zM70 195h5v5h-5zM155 195h10v5h-10zM80 200h5v5h-5zM155 200h15v5h-15zM85 205h5v5h-5zM155 205h15v5h-15zM85 210h10v5h-10zM155 210h15v5h-15zM75 215h5v5h-5zM95 215h20v5h-20zM155 215h15v5h-15zM65 220h5v5h-5zM105 220h10v5h-10zM155 220h10v5h-10zM60 225h5v5h-5zM110 225h5v5h-5zM155 225h10v5h-10zM110 230h10v5h-10zM155 230h10v5h-10zM115 235h5v5h-5zM155 235h10v5h-10zM155 240h10v5h-10zM155 245h10v5h-10zM150 250h10v5h-10zM150 255h5v5h-5zM150 260h5v5h-5zM150 265h5v5h-5zM150 270h5v5h-5zM110 275h10v5h-10zM150 275h5v5h-5zM110 280h15v5h-15zM150 280h5v5h-5zM115 285h10v5h-10zM145 285h10v5h-10zM115 290h15v5h-15zM145 290h10v5h-10zM120 295h35v5h-35zM120 300h30v5h-30zM120 305h30v5h-30zM115 310h35v5h-35zM105 315h45v5h-45zM100 320h15v5h-15zM95 325h10v5h-10zM95 330h5v5h-5zM90 335h5v5h-5zM85 345h5v5h-5zM80 355h5v5h-5zM75 360h5v5h-5zM60 365h5v5h-5zM75 365h5v5h-5z"/><path fill="#e9e9e9" d="M100 85h45v5h-45zM95 90h45v5h-45zM95 95h40v5h-40zM95 100h35v5h-35zM90 105h35v5h-35zM85 110h35v5h-35zM80 115h35v5h-35zM80 120h35v5h-35zM75 125h40v5h-40zM75 130h45v5h-45zM70 135h50v5h-50zM70 140h30v5h-30zM110 140h15v5h-15zM65 145h35v5h-35zM110 145h20v5h-20zM65 150h30v5h-30zM110 150h30v5h-30zM65 155h75v5h-75zM65 160h80v5h-80zM60 165h85v5h-85zM60 170h55v5h-55zM125 170h20v5h-20zM65 175h55v5h-55zM125 175h20v5h-20zM65 180h80v5h-80zM65 185h85v5h-85zM70 190h80v5h-80zM75 195h80v5h-80zM85 200h70v5h-70zM90 205h65v5h-65zM95 210h60v5h-60zM80 215h15v5h-15zM115 215h40v5h-40zM70 220h35v5h-35zM115 220h40v5h-40zM65 225h45v5h-45zM115 225h40v5h-40zM60 230h50v5h-50zM120 230h35v5h-35zM60 235h55v5h-55zM120 235h35v5h-35zM60 240h95v5h-95zM60 245h95v5h-95zM60 250h40v5h-40zM110 250h40v5h-40zM60 255h35v5h-35zM110 255h40v5h-40zM60 260h35v5h-35zM115 260h35v5h-35zM60 265h30v5h-30zM105 265h45v5h-45zM95 270h55v5h-55zM95 275h15v5h-15zM120 275h30v5h-30zM95 280h15v5h-15zM125 280h25v5h-25zM95 285h20v5h-20zM125 285h20v5h-20zM100 290h15v5h-15zM130 290h15v5h-15zM105 295h15v5h-15zM105 300h15v5h-15zM95 305h25v5h-25zM90 310h25v5h-25zM90 315h15v5h-15zM90 320h10v5h-10zM90 325h5v5h-5zM90 330h5v5h-5zM85 335h5v5h-5zM85 340h5v5h-5zM80 345h5v5h-5zM80 350h5v5h-5zM75 355h5v5h-5zM70 360h5v5h-5zM65 365h10v5h-10z"/><path fill="#efefef" d="M100 140h10v5h-10zM100 145h10v5h-10zM95 150h15v5h-15zM100 250h10v5h-10zM95 255h15v5h-15zM95 260h20v5h-20zM90 265h15v5h-15zM60 270h35v5h-35zM60 275h35v5h-35zM60 280h35v5h-35zM60 285h35v5h-35zM60 290h40v5h-40zM60 295h45v5h-45zM60 300h45v5h-45zM60 305h35v5h-35zM60 310h30v5h-30zM80 315h10v5h-10zM85 320h5v5h-5zM80 325h10v5h-10zM80 330h10v5h-10zM75 335h10v5h-10zM75 340h10v5h-10zM70 345h10v5h-10zM65 350h15v5h-15zM60 355h15v5h-15zM60 360h10v5h-10z"/><path fill="#f4f4f4" d="M60 315h20v5h-20zM60 320h25v5h-25zM60 325h20v5h-20zM60 330h20v5h-20zM60 335h15v5h-15zM60 340h15v5h-15zM60 345h10v5h-10zM60 350h5v5h-5z"/></g></g>
<use href="#inl" fill="none" stroke="#1e1e1e" stroke-width="1.05" stroke-linejoin="round"/>
<use href="#ol" fill="none" stroke="#141414" stroke-width="1.2" stroke-linejoin="round"/>
<text x="255.45" y="394" font-size="45.5" text-anchor="middle">(a)</text>
</g>
<g transform="translate(243.25,0)">
<rect x="55" y="55" width="243" height="362" fill="#E6F0F7"/>
<path d="M55.0 413.0 L58.1 412.0 L63.2 408.9 L69.4 398.6 L74.5 388.3 L79.7 380.1 L83.8 370.9 L96.1 367.8 L106.4 365.7 L114.6 367.8 L122.8 372.9 L125.9 378.1 L129.0 382.2 L128.0 386.3 L124.9 392.5 L120.7 400.7 L114.6 408.9 L110.5 416.0 L55.0 416.0 Z" fill="#fff"/>
<path d="M297.0 291.5 L289.0 287.4 L283.5 284.7 L280.8 286.0 L275.3 291.5 L274.0 306.6 L268.5 314.8 L263.0 325.8 L253.4 336.8 L242.4 347.7 L237.2 349.3 L229.0 356.0 L225.5 360.0 L218.5 367.0 L213.5 374.0 L207.0 386.3 L205.3 398.6 L196.1 402.7 L181.7 408.9 L167.3 415.1 L160.0 416.0 L297.0 416.0 Z" fill="#fff"/>
<g clip-path="url(#clp)"><g filter="url(#fr)"><path fill="#3c3c3c" d="M285 165h5v5h-5zM285 170h5v5h-5zM280 175h10v5h-10zM285 180h5v5h-5zM285 185h5v5h-5z"/><path fill="#414141" d="M285 155h5v5h-5zM280 160h10v5h-10zM280 165h5v5h-5zM280 170h5v5h-5zM280 180h5v5h-5zM280 185h5v5h-5zM285 190h5v5h-5z"/><path fill="#474747" d="M285 145h5v5h-5zM285 150h5v5h-5zM280 155h5v5h-5zM275 160h5v5h-5zM275 165h5v5h-5zM275 170h5v5h-5zM275 175h5v5h-5zM275 180h5v5h-5zM280 190h5v5h-5z"/><path fill="#4c4c4c" d="M275 85h10v5h-10zM280 90h10v5h-10zM280 95h10v5h-10zM280 100h10v5h-10zM280 105h10v5h-10zM285 110h5v5h-5zM285 115h5v5h-5zM285 140h5v5h-5zM280 145h5v5h-5zM280 150h5v5h-5zM275 155h5v5h-5zM270 165h5v5h-5zM270 170h5v5h-5zM270 175h5v5h-5zM275 185h5v5h-5zM285 195h5v5h-5z"/><path fill="#515151" d="M265 85h10v5h-10zM285 85h5v5h-5zM265 90h15v5h-15zM265 95h15v5h-15zM265 100h15v5h-15zM265 105h15v5h-15zM270 110h15v5h-15zM270 115h15v5h-15zM270 120h20v5h-20zM275 125h15v5h-15zM285 130h5v5h-5zM285 135h5v5h-5zM280 140h5v5h-5zM275 145h5v5h-5zM275 150h5v5h-5zM270 155h5v5h-5zM270 160h5v5h-5zM270 180h5v5h-5zM265 185h10v5h-10zM260 190h20v5h-20zM260 195h25v5h-25zM260 200h30v5h-30zM265 205h25v5h-25zM270 210h20v5h-20zM225 315h5v5h-5zM220 320h15v5h-15zM215 325h20v5h-20zM210 330h25v5h-25zM210 335h25v5h-25zM210 340h25v5h-25zM210 345h20v5h-20zM210 350h20v5h-20zM210 355h15v5h-15z"/><path fill="#575757" d="M260 85h5v5h-5zM260 90h5v5h-5zM260 95h5v5h-5zM260 100h5v5h-5zM260 105h5v5h-5zM260 110h10v5h-10zM260 115h10v5h-10zM265 120h5v5h-5zM270 125h5v5h-5zM280 130h5v5h-5zM280 135h5v5h-5zM275 140h5v5h-5zM270 150h5v5h-5zM265 160h5v5h-5zM265 165h5v5h-5zM265 170h5v5h-5zM260 175h10v5h-10zM260 180h10v5h-10zM255 185h10v5h-10zM255 190h5v5h-5zM250 195h10v5h-10zM250 200h10v5h-10zM250 205h15v5h-15zM255 210h15v5h-15zM260 215h30v5h-30zM265 220h20v5h-20zM270 225h15v5h-15zM270 230h10v5h-10zM270 235h10v5h-10zM270 240h10v5h-10zM270 245h10v5h-10zM270 250h5v5h-5zM220 310h10v5h-10zM210 315h15v5h-15zM230 315h5v5h-5zM205 320h15v5h-15zM205 325h10v5h-10zM235 325h5v5h-5zM200 330h10v5h-10zM235 330h5v5h-5zM200 335h10v5h-10zM235 335h5v5h-5zM200 340h10v5h-10zM235 340h5v5h-5zM200 345h10v5h-10zM230 345h5v5h-5zM205 350h5v5h-5zM230 350h5v5h-5zM205 355h5v5h-5zM225 355h5v5h-5zM210 360h10v5h-10z"/><path fill="#5c5c5c" d="M255 85h5v5h-5zM255 90h5v5h-5zM255 95h5v5h-5zM255 100h5v5h-5zM255 105h5v5h-5zM255 110h5v5h-5zM255 115h5v5h-5zM255 120h10v5h-10zM260 125h10v5h-10zM275 130h5v5h-5zM275 135h5v5h-5zM270 140h5v5h-5zM270 145h5v5h-5zM265 150h5v5h-5zM265 155h5v5h-5zM260 160h5v5h-5zM260 165h5v5h-5zM255 170h10v5h-10zM255 175h5v5h-5zM255 180h5v5h-5zM250 185h5v5h-5zM250 190h5v5h-5zM245 195h5v5h-5zM245 200h5v5h-5zM245 205h5v5h-5zM245 210h10v5h-10zM245 215h15v5h-15zM245 220h20v5h-20zM285 220h5v5h-5zM245 225h25v5h-25zM285 225h5v5h-5zM245 230h25v5h-25zM280 230h10v5h-10zM245 235h25v5h-25zM280 235h10v5h-10zM245 240h25v5h-25zM280 240h10v5h-10zM245 245h25v5h-25zM280 245h10v5h-10zM245 250h25v5h-25zM275 250h10v5h-10zM245 255h40v5h-40zM245 260h35v5h-35zM250 265h25v5h-25zM250 270h20v5h-20zM220 305h10v5h-10zM210 310h10v5h-10zM230 310h5v5h-5zM205 315h5v5h-5zM200 320h5v5h-5zM235 320h5v5h-5zM195 325h10v5h-10zM195 330h5v5h-5zM195 335h5v5h-5zM195 340h5v5h-5zM200 350h5v5h-5zM200 355h5v5h-5zM205 360h5v5h-5zM220 360h5v5h-5z"/><path fill="#626262" d="M250 90h5v5h-5zM250 95h5v5h-5zM250 100h5v5h-5zM250 105h5v5h-5zM250 110h5v5h-5zM250 115h5v5h-5zM270 130h5v5h-5zM270 135h5v5h-5zM265 145h5v5h-5zM260 155h5v5h-5zM255 160h5v5h-5zM255 165h5v5h-5zM250 170h5v5h-5zM250 175h5v5h-5zM250 180h5v5h-5zM245 185h5v5h-5zM245 190h5v5h-5zM240 195h5v5h-5zM240 200h5v5h-5zM240 205h5v5h-5zM240 210h5v5h-5zM240 215h5v5h-5zM240 220h5v5h-5zM240 225h5v5h-5zM240 230h5v5h-5zM240 235h5v5h-5zM240 240h5v5h-5zM240 245h5v5h-5zM240 250h5v5h-5zM285 250h5v5h-5zM240 255h5v5h-5zM240 260h5v5h-5zM280 260h5v5h-5zM245 265h5v5h-5zM275 265h5v5h-5zM245 270h5v5h-5zM270 270h5v5h-5zM215 305h5v5h-5zM205 310h5v5h-5zM195 315h10v5h-10zM235 315h5v5h-5zM190 320h10v5h-10zM190 325h5v5h-5zM190 330h5v5h-5zM190 335h5v5h-5zM190 340h5v5h-5zM195 345h5v5h-5zM235 345h5v5h-5zM195 350h5v5h-5zM200 360h5v5h-5zM205 365h10v5h-10z"/><path fill="#676767" d="M250 85h5v5h-5zM245 95h5v5h-5zM245 100h5v5h-5zM245 105h5v5h-5zM245 110h5v5h-5zM245 115h5v5h-5zM250 120h5v5h-5zM255 125h5v5h-5zM265 130h5v5h-5zM265 135h5v5h-5zM265 140h5v5h-5zM260 145h5v5h-5zM255 150h10v5h-10zM255 155h5v5h-5zM250 160h5v5h-5zM245 165h10v5h-10zM245 170h5v5h-5zM245 175h5v5h-5zM240 180h10v5h-10zM240 185h5v5h-5zM240 190h5v5h-5zM235 195h5v5h-5zM235 200h5v5h-5zM235 205h5v5h-5zM235 210h5v5h-5zM235 215h5v5h-5zM235 220h5v5h-5zM235 225h5v5h-5zM235 230h5v5h-5zM235 235h5v5h-5zM235 240h5v5h-5zM230 245h10v5h-10zM235 250h5v5h-5zM235 255h5v5h-5zM285 255h5v5h-5zM235 260h5v5h-5zM240 265h5v5h-5zM240 270h5v5h-5zM245 275h20v5h-20zM210 305h5v5h-5zM195 310h10v5h-10zM185 315h10v5h-10zM185 320h5v5h-5zM185 325h5v5h-5zM185 330h5v5h-5zM185 335h5v5h-5zM185 340h5v5h-5zM190 345h5v5h-5zM190 350h5v5h-5zM190 355h10v5h-10zM230 355h5v5h-5zM195 360h5v5h-5zM225 360h5v5h-5zM200 365h5v5h-5zM215 365h5v5h-5z"/><path fill="#6d6d6d" d="M245 85h5v5h-5zM245 90h5v5h-5zM240 95h5v5h-5zM240 100h5v5h-5zM240 105h5v5h-5zM240 110h5v5h-5zM240 115h5v5h-5zM245 120h5v5h-5zM250 125h5v5h-5zM255 130h10v5h-10zM260 135h5v5h-5zM255 140h10v5h-10zM255 145h5v5h-5zM250 150h5v5h-5zM245 155h10v5h-10zM240 160h10v5h-10zM235 165h10v5h-10zM235 170h10v5h-10zM235 175h10v5h-10zM235 180h5v5h-5zM235 185h5v5h-5zM230 190h10v5h-10zM230 195h5v5h-5zM225 200h10v5h-10zM225 205h10v5h-10zM225 210h10v5h-10zM230 215h5v5h-5zM230 220h5v5h-5zM230 225h5v5h-5zM230 230h5v5h-5zM230 235h5v5h-5zM220 240h15v5h-15zM210 245h20v5h-20zM210 250h25v5h-25zM210 255h25v5h-25zM210 260h25v5h-25zM210 265h30v5h-30zM210 270h30v5h-30zM215 275h30v5h-30zM215 280h25v5h-25zM220 285h15v5h-15zM210 300h20v5h-20zM190 305h20v5h-20zM230 305h5v5h-5zM185 310h10v5h-10zM180 315h5v5h-5zM180 320h5v5h-5zM180 325h5v5h-5zM240 325h5v5h-5zM180 330h5v5h-5zM240 330h5v5h-5zM180 335h5v5h-5zM240 335h5v5h-5zM180 340h5v5h-5zM180 345h10v5h-10zM185 350h5v5h-5zM235 350h5v5h-5zM185 355h5v5h-5zM190 360h5v5h-5zM190 365h10v5h-10zM195 370h5v5h-5z"/><path fill="#727272" d="M220 85h25v5h-25zM225 90h20v5h-20zM230 95h10v5h-10zM230 100h10v5h-10zM230 105h10v5h-10zM235 110h5v5h-5zM235 115h5v5h-5zM240 120h5v5h-5zM245 125h5v5h-5zM250 130h5v5h-5zM250 135h10v5h-10zM245 140h10v5h-10zM245 145h10v5h-10zM240 150h10v5h-10zM235 155h10v5h-10zM230 160h10v5h-10zM225 165h10v5h-10zM220 170h15v5h-15zM220 175h15v5h-15zM220 180h15v5h-15zM220 185h15v5h-15zM215 190h15v5h-15zM215 195h15v5h-15zM215 200h10v5h-10zM215 205h10v5h-10zM220 210h5v5h-5zM225 215h5v5h-5zM225 220h5v5h-5zM225 225h5v5h-5zM225 230h5v5h-5zM215 235h15v5h-15zM205 240h15v5h-15zM205 245h5v5h-5zM205 250h5v5h-5zM205 255h5v5h-5zM205 260h5v5h-5zM205 265h5v5h-5zM280 265h5v5h-5zM205 270h5v5h-5zM275 270h5v5h-5zM205 275h10v5h-10zM265 275h5v5h-5zM210 280h5v5h-5zM210 285h10v5h-10zM190 290h40v5h-40zM180 295h45v5h-45zM180 300h30v5h-30zM180 305h10v5h-10zM180 310h5v5h-5zM235 310h5v5h-5zM175 325h5v5h-5zM175 330h5v5h-5zM175 335h5v5h-5zM175 340h5v5h-5zM175 345h5v5h-5zM180 350h5v5h-5zM180 355h5v5h-5zM185 360h5v5h-5zM185 365h5v5h-5zM190 370h5v5h-5zM200 370h5v5h-5z"/><path fill="#777777" d="M205 85h15v5h-15zM210 90h15v5h-15zM215 95h15v5h-15zM220 100h10v5h-10zM220 105h10v5h-10zM225 110h10v5h-10zM225 115h10v5h-10zM230 120h10v5h-10zM235 125h10v5h-10zM235 130h15v5h-15zM235 135h15v5h-15zM235 140h10v5h-10zM235 145h10v5h-10zM230 150h10v5h-10zM220 155h15v5h-15zM215 160h15v5h-15zM210 165h15v5h-15zM210 170h10v5h-10zM210 175h10v5h-10zM205 180h15v5h-15zM205 185h15v5h-15zM205 190h10v5h-10zM205 195h10v5h-10zM205 200h10v5h-10zM210 205h5v5h-5zM215 210h5v5h-5zM215 215h10v5h-10zM220 220h5v5h-5zM220 225h5v5h-5zM215 230h10v5h-10zM205 235h10v5h-10zM200 240h5v5h-5zM200 245h5v5h-5zM200 250h5v5h-5zM200 255h5v5h-5zM200 260h5v5h-5zM285 260h5v5h-5zM200 265h5v5h-5zM200 270h5v5h-5zM205 280h5v5h-5zM240 280h5v5h-5zM190 285h20v5h-20zM235 285h5v5h-5zM180 290h10v5h-10zM225 295h5v5h-5zM175 300h5v5h-5zM175 315h5v5h-5zM175 320h5v5h-5zM240 320h5v5h-5zM240 340h5v5h-5zM175 350h5v5h-5zM175 355h5v5h-5zM180 360h5v5h-5zM220 365h5v5h-5zM185 370h5v5h-5zM205 370h5v5h-5z"/><path fill="#7d7d7d" d="M200 85h5v5h-5zM205 90h5v5h-5zM205 95h10v5h-10zM210 100h10v5h-10zM215 105h5v5h-5zM215 110h10v5h-10zM220 115h5v5h-5zM220 120h10v5h-10zM220 125h15v5h-15zM220 130h15v5h-15zM220 135h15v5h-15zM215 140h20v5h-20zM210 145h25v5h-25zM205 150h25v5h-25zM200 155h20v5h-20zM200 160h15v5h-15zM200 165h10v5h-10zM200 170h10v5h-10zM195 175h15v5h-15zM195 180h10v5h-10zM195 185h10v5h-10zM195 190h10v5h-10zM200 195h5v5h-5zM205 205h5v5h-5zM210 210h5v5h-5zM215 220h5v5h-5zM210 225h10v5h-10zM205 230h10v5h-10zM200 235h5v5h-5zM195 240h5v5h-5zM195 245h5v5h-5zM195 250h5v5h-5zM195 255h5v5h-5zM195 260h5v5h-5zM195 265h5v5h-5zM195 270h5v5h-5zM200 275h5v5h-5zM195 280h10v5h-10zM180 285h10v5h-10zM175 290h5v5h-5zM230 290h5v5h-5zM175 295h5v5h-5zM175 305h5v5h-5zM175 310h5v5h-5zM170 330h5v5h-5zM170 335h5v5h-5zM170 340h5v5h-5zM170 345h5v5h-5zM170 350h5v5h-5zM175 360h5v5h-5zM180 365h5v5h-5zM190 375h5v5h-5z"/><path fill="#828282" d="M195 85h5v5h-5zM200 90h5v5h-5zM205 100h5v5h-5zM210 105h5v5h-5zM215 115h5v5h-5zM215 120h5v5h-5zM215 130h5v5h-5zM215 135h5v5h-5zM210 140h5v5h-5zM200 145h10v5h-10zM195 150h10v5h-10zM190 155h10v5h-10zM195 160h5v5h-5zM190 165h10v5h-10zM190 170h10v5h-10zM190 175h5v5h-5zM185 180h10v5h-10zM190 185h5v5h-5zM200 200h5v5h-5zM205 210h5v5h-5zM210 215h5v5h-5zM210 220h5v5h-5zM200 230h5v5h-5zM195 235h5v5h-5zM190 245h5v5h-5zM190 250h5v5h-5zM190 255h5v5h-5zM190 260h5v5h-5zM190 265h5v5h-5zM190 270h5v5h-5zM185 275h15v5h-15zM270 275h5v5h-5zM180 280h15v5h-15zM245 280h5v5h-5zM175 285h5v5h-5zM230 300h5v5h-5zM240 315h5v5h-5zM170 325h5v5h-5zM240 345h5v5h-5zM170 355h5v5h-5zM230 360h5v5h-5zM180 370h5v5h-5zM210 370h5v5h-5zM185 375h5v5h-5zM195 375h5v5h-5z"/><path fill="#888888" d="M195 90h5v5h-5zM200 95h5v5h-5zM205 105h5v5h-5zM210 110h5v5h-5zM215 125h5v5h-5zM210 135h5v5h-5zM205 140h5v5h-5zM195 145h5v5h-5zM190 150h5v5h-5zM185 155h5v5h-5zM185 160h10v5h-10zM185 165h5v5h-5zM185 170h5v5h-5zM185 175h5v5h-5zM185 185h5v5h-5zM190 190h5v5h-5zM195 195h5v5h-5zM200 205h5v5h-5zM205 215h5v5h-5zM205 220h5v5h-5zM205 225h5v5h-5zM190 240h5v5h-5zM185 255h5v5h-5zM185 260h5v5h-5zM185 265h5v5h-5zM180 270h10v5h-10zM280 270h5v5h-5zM180 275h5v5h-5zM175 280h5v5h-5zM250 280h10v5h-10zM240 285h5v5h-5zM170 290h5v5h-5zM170 295h5v5h-5zM170 300h5v5h-5zM235 305h5v5h-5zM170 315h5v5h-5zM170 320h5v5h-5zM165 335h5v5h-5zM165 340h5v5h-5zM165 345h5v5h-5zM165 350h5v5h-5zM235 355h5v5h-5zM170 360h5v5h-5zM175 365h5v5h-5zM225 365h5v5h-5zM215 370h5v5h-5zM180 375h5v5h-5zM200 375h5v5h-5z"/><path fill="#8d8d8d" d="M195 95h5v5h-5zM200 100h5v5h-5zM205 110h5v5h-5zM210 115h5v5h-5zM210 120h5v5h-5zM210 125h5v5h-5zM210 130h5v5h-5zM200 140h5v5h-5zM190 145h5v5h-5zM185 150h5v5h-5zM180 155h5v5h-5zM180 160h5v5h-5zM180 165h5v5h-5zM180 170h5v5h-5zM180 175h5v5h-5zM185 190h5v5h-5zM200 210h5v5h-5zM200 225h5v5h-5zM195 230h5v5h-5zM185 245h5v5h-5zM185 250h5v5h-5zM180 255h5v5h-5zM180 260h5v5h-5zM175 265h10v5h-10zM285 265h5v5h-5zM175 270h5v5h-5zM175 275h5v5h-5zM275 275h5v5h-5zM170 280h5v5h-5zM260 280h5v5h-5zM170 285h5v5h-5zM235 290h5v5h-5zM230 295h5v5h-5zM170 305h5v5h-5zM170 310h5v5h-5zM165 330h5v5h-5zM245 330h5v5h-5zM160 340h5v5h-5zM160 345h5v5h-5zM160 350h5v5h-5zM240 350h5v5h-5zM165 355h5v5h-5zM130 360h10v5h-10zM165 360h5v5h-5zM125 365h20v5h-20zM170 365h5v5h-5zM120 370h35v5h-35zM170 370h10v5h-10zM115 375h50v5h-50zM175 375h5v5h-5zM110 380h85v5h-85zM105 385h75v5h-75z"/><path fill="#929292" d="M190 85h5v5h-5zM190 90h5v5h-5zM195 100h5v5h-5zM200 105h5v5h-5zM205 115h5v5h-5zM205 130h5v5h-5zM205 135h5v5h-5zM195 140h5v5h-5zM185 145h5v5h-5zM180 150h5v5h-5zM175 160h5v5h-5zM175 165h5v5h-5zM180 180h5v5h-5zM180 185h5v5h-5zM190 195h5v5h-5zM195 200h5v5h-5zM200 215h5v5h-5zM200 220h5v5h-5zM195 225h5v5h-5zM190 235h5v5h-5zM185 240h5v5h-5zM180 245h5v5h-5zM180 250h5v5h-5zM175 255h5v5h-5zM175 260h5v5h-5zM170 265h5v5h-5zM165 270h10v5h-10zM165 275h10v5h-10zM165 280h5v5h-5zM265 280h10v5h-10zM245 285h5v5h-5zM235 300h5v5h-5zM240 310h5v5h-5zM245 320h5v5h-5zM165 325h5v5h-5zM245 325h5v5h-5zM160 335h5v5h-5zM245 335h5v5h-5zM245 340h5v5h-5zM155 345h5v5h-5zM150 350h10v5h-10zM125 355h40v5h-40zM120 360h10v5h-10zM140 360h25v5h-25zM235 360h5v5h-5zM115 365h10v5h-10zM145 365h25v5h-25zM230 365h5v5h-5zM110 370h10v5h-10zM155 370h15v5h-15zM220 370h5v5h-5zM105 375h10v5h-10zM165 375h10v5h-10zM205 375h5v5h-5zM100 380h10v5h-10zM195 380h5v5h-5zM100 385h5v5h-5zM180 385h5v5h-5z"/><path fill="#989898" d="M170 85h20v5h-20zM175 90h15v5h-15zM180 95h15v5h-15zM180 100h15v5h-15zM185 105h15v5h-15zM185 110h20v5h-20zM185 115h20v5h-20zM190 120h20v5h-20zM190 125h20v5h-20zM190 130h15v5h-15zM190 135h15v5h-15zM190 140h5v5h-5zM175 155h5v5h-5zM180 190h5v5h-5zM60 200h5v5h-5zM60 205h5v5h-5zM195 205h5v5h-5zM195 210h5v5h-5zM195 215h5v5h-5zM195 220h5v5h-5zM190 230h5v5h-5zM175 245h5v5h-5zM170 250h10v5h-10zM165 255h10v5h-10zM160 260h15v5h-15zM160 265h10v5h-10zM160 270h5v5h-5zM285 270h5v5h-5zM160 275h5v5h-5zM280 275h10v5h-10zM275 280h15v5h-15zM165 285h5v5h-5zM250 285h40v5h-40zM165 290h5v5h-5zM240 290h50v5h-50zM235 295h55v5h-55zM240 300h50v5h-50zM240 305h50v5h-50zM245 310h45v5h-45zM245 315h45v5h-45zM165 320h5v5h-5zM250 320h40v5h-40zM250 325h40v5h-40zM160 330h5v5h-5zM250 330h40v5h-40zM250 335h40v5h-40zM120 340h10v5h-10zM155 340h5v5h-5zM250 340h40v5h-40zM120 345h15v5h-15zM145 345h10v5h-10zM245 345h45v5h-45zM115 350h35v5h-35zM245 350h45v5h-45zM110 355h15v5h-15zM240 355h50v5h-50zM110 360h10v5h-10zM240 360h50v5h-50zM105 365h10v5h-10zM235 365h55v5h-55zM105 370h5v5h-5zM225 370h65v5h-65zM100 375h5v5h-5zM210 375h80v5h-80zM60 380h10v5h-10zM95 380h5v5h-5zM200 380h90v5h-90zM60 385h20v5h-20zM90 385h10v5h-10zM185 385h105v5h-105z"/><path fill="#9d9d9d" d="M170 90h5v5h-5zM175 95h5v5h-5zM175 100h5v5h-5zM175 105h10v5h-10zM175 110h10v5h-10zM175 115h10v5h-10zM180 120h10v5h-10zM180 125h10v5h-10zM180 130h10v5h-10zM185 135h5v5h-5zM185 140h5v5h-5zM180 145h5v5h-5zM175 150h5v5h-5zM175 170h5v5h-5zM185 195h5v5h-5zM190 200h5v5h-5zM65 205h5v5h-5zM190 205h5v5h-5zM60 210h5v5h-5zM190 210h5v5h-5zM190 215h5v5h-5zM190 220h5v5h-5zM190 225h5v5h-5zM185 235h5v5h-5zM175 240h10v5h-10zM165 245h10v5h-10zM160 250h10v5h-10zM160 255h5v5h-5zM160 280h5v5h-5zM165 295h5v5h-5zM165 300h5v5h-5zM165 305h5v5h-5zM165 310h5v5h-5zM165 315h5v5h-5zM160 325h5v5h-5zM125 330h10v5h-10zM155 330h5v5h-5zM115 335h25v5h-25zM150 335h10v5h-10zM115 340h5v5h-5zM130 340h25v5h-25zM110 345h10v5h-10zM135 345h10v5h-10zM110 350h5v5h-5zM105 355h5v5h-5zM105 360h5v5h-5zM100 365h5v5h-5zM100 370h5v5h-5zM60 375h5v5h-5zM95 375h5v5h-5zM70 380h5v5h-5zM90 380h5v5h-5zM80 385h10v5h-10z"/><path fill="#a3a3a3" d="M165 85h5v5h-5zM170 95h5v5h-5zM170 100h5v5h-5zM170 105h5v5h-5zM170 110h5v5h-5zM170 115h5v5h-5zM170 120h10v5h-10zM170 125h10v5h-10zM175 130h5v5h-5zM175 135h10v5h-10zM180 140h5v5h-5zM170 160h5v5h-5zM170 165h5v5h-5zM175 175h5v5h-5zM60 195h5v5h-5zM180 195h5v5h-5zM65 200h5v5h-5zM185 200h5v5h-5zM185 205h5v5h-5zM65 210h5v5h-5zM185 210h5v5h-5zM185 215h5v5h-5zM185 220h5v5h-5zM185 230h5v5h-5zM165 235h10v5h-10zM180 235h5v5h-5zM160 240h15v5h-15zM160 245h5v5h-5zM155 250h5v5h-5zM155 255h5v5h-5zM155 260h5v5h-5zM155 265h5v5h-5zM155 270h5v5h-5zM155 275h5v5h-5zM160 285h5v5h-5zM160 320h5v5h-5zM120 330h5v5h-5zM135 330h10v5h-10zM150 330h5v5h-5zM140 335h10v5h-10zM110 340h5v5h-5zM105 345h5v5h-5zM105 350h5v5h-5zM100 355h5v5h-5zM100 360h5v5h-5zM95 365h5v5h-5zM95 370h5v5h-5zM65 375h5v5h-5zM90 375h5v5h-5zM75 380h5v5h-5zM85 380h5v5h-5z"/><path fill="#a8a8a8" d="M165 110h5v5h-5zM165 115h5v5h-5zM165 120h5v5h-5zM170 130h5v5h-5zM170 135h5v5h-5zM175 140h5v5h-5zM175 145h5v5h-5zM170 155h5v5h-5zM175 180h5v5h-5zM175 185h5v5h-5zM175 190h5v5h-5zM175 195h5v5h-5zM175 200h10v5h-10zM70 205h5v5h-5zM175 205h10v5h-10zM175 210h10v5h-10zM180 215h5v5h-5zM180 220h5v5h-5zM180 225h10v5h-10zM165 230h20v5h-20zM160 235h5v5h-5zM175 235h5v5h-5zM155 245h5v5h-5zM155 280h5v5h-5zM160 290h5v5h-5zM160 295h5v5h-5zM125 325h15v5h-15zM155 325h5v5h-5zM145 330h5v5h-5zM110 335h5v5h-5zM105 340h5v5h-5zM100 350h5v5h-5zM95 360h5v5h-5zM60 370h5v5h-5zM90 370h5v5h-5zM80 380h5v5h-5z"/><path fill="#aeaeae" d="M165 105h5v5h-5zM165 125h5v5h-5zM165 130h5v5h-5zM170 140h5v5h-5zM170 150h5v5h-5zM170 170h5v5h-5zM170 200h5v5h-5zM170 205h5v5h-5zM170 210h5v5h-5zM60 215h5v5h-5zM170 215h10v5h-10zM170 220h10v5h-10zM165 225h15v5h-15zM160 230h5v5h-5zM155 240h5v5h-5zM155 285h5v5h-5zM160 300h5v5h-5zM160 305h5v5h-5zM160 310h5v5h-5zM160 315h5v5h-5zM155 320h5v5h-5zM140 325h15v5h-15zM115 330h5v5h-5zM105 335h5v5h-5zM100 345h5v5h-5zM95 355h5v5h-5zM90 365h5v5h-5zM70 375h5v5h-5zM85 375h5v5h-5z"/><path fill="#b3b3b3" d="M85 85h5v5h-5zM165 90h5v5h-5zM165 100h5v5h-5zM165 135h5v5h-5zM165 140h5v5h-5zM170 145h5v5h-5zM165 160h5v5h-5zM170 175h5v5h-5zM170 195h5v5h-5zM165 200h5v5h-5zM165 205h5v5h-5zM70 210h5v5h-5zM165 210h5v5h-5zM165 215h5v5h-5zM165 220h5v5h-5zM160 225h5v5h-5zM155 235h5v5h-5zM150 255h5v5h-5zM150 260h5v5h-5zM150 265h5v5h-5zM150 270h5v5h-5zM150 275h5v5h-5zM150 280h5v5h-5zM155 290h5v5h-5zM155 295h5v5h-5zM155 300h5v5h-5zM155 315h5v5h-5zM150 320h5v5h-5zM120 325h5v5h-5zM110 330h5v5h-5zM100 340h5v5h-5zM95 350h5v5h-5zM90 360h5v5h-5zM85 370h5v5h-5zM80 375h5v5h-5z"/><path fill="#b8b8b8" d="M160 85h5v5h-5zM165 95h5v5h-5zM160 115h5v5h-5zM160 120h5v5h-5zM160 125h5v5h-5zM160 130h5v5h-5zM160 135h5v5h-5zM165 145h5v5h-5zM165 150h5v5h-5zM165 155h5v5h-5zM165 165h5v5h-5zM170 180h5v5h-5zM170 185h5v5h-5zM60 190h5v5h-5zM170 190h5v5h-5zM165 195h5v5h-5zM160 200h5v5h-5zM160 205h5v5h-5zM155 210h10v5h-10zM160 215h5v5h-5zM160 220h5v5h-5zM150 250h5v5h-5zM150 285h5v5h-5zM150 290h5v5h-5zM150 295h5v5h-5zM150 300h5v5h-5zM155 305h5v5h-5zM155 310h5v5h-5zM150 315h5v5h-5zM125 320h25v5h-25zM100 335h5v5h-5zM95 345h5v5h-5zM90 355h5v5h-5zM85 365h5v5h-5zM75 375h5v5h-5z"/><path fill="#bebebe" d="M60 85h5v5h-5zM80 85h5v5h-5zM160 110h5v5h-5zM160 140h5v5h-5zM160 145h5v5h-5zM160 150h5v5h-5zM165 170h5v5h-5zM165 175h5v5h-5zM165 180h5v5h-5zM165 185h5v5h-5zM165 190h5v5h-5zM160 195h5v5h-5zM155 200h5v5h-5zM150 205h10v5h-10zM150 210h5v5h-5zM155 215h5v5h-5zM155 220h5v5h-5zM155 225h5v5h-5zM155 230h5v5h-5zM150 245h5v5h-5zM145 260h5v5h-5zM140 265h10v5h-10zM135 270h15v5h-15zM135 275h15v5h-15zM135 280h15v5h-15zM135 285h15v5h-15zM140 290h10v5h-10zM140 295h10v5h-10zM145 300h5v5h-5zM150 305h5v5h-5zM150 310h5v5h-5zM145 315h5v5h-5zM115 325h5v5h-5zM105 330h5v5h-5zM95 340h5v5h-5zM90 350h5v5h-5zM85 360h5v5h-5zM65 370h5v5h-5zM80 370h5v5h-5z"/><path fill="#c3c3c3" d="M75 85h5v5h-5zM90 85h5v5h-5zM160 105h5v5h-5zM155 115h5v5h-5zM155 120h5v5h-5zM155 125h5v5h-5zM150 130h10v5h-10zM150 135h10v5h-10zM150 140h10v5h-10zM155 145h5v5h-5zM155 150h5v5h-5zM155 155h10v5h-10zM160 160h5v5h-5zM160 165h5v5h-5zM160 170h5v5h-5zM160 175h5v5h-5zM160 180h5v5h-5zM160 185h5v5h-5zM160 190h5v5h-5zM65 195h5v5h-5zM155 195h5v5h-5zM70 200h5v5h-5zM145 200h10v5h-10zM75 205h5v5h-5zM135 205h15v5h-15zM75 210h5v5h-5zM135 210h15v5h-15zM145 215h10v5h-10zM150 220h5v5h-5zM135 260h10v5h-10zM130 265h10v5h-10zM130 270h5v5h-5zM130 275h5v5h-5zM130 280h5v5h-5zM130 285h5v5h-5zM130 290h10v5h-10zM130 295h10v5h-10zM135 300h10v5h-10zM140 305h10v5h-10zM135 310h15v5h-15zM125 315h20v5h-20zM120 320h5v5h-5zM110 325h5v5h-5zM100 330h5v5h-5zM95 335h5v5h-5zM90 345h5v5h-5zM85 355h5v5h-5zM80 365h5v5h-5zM70 370h10v5h-10z"/><path fill="#c9c9c9" d="M65 85h10v5h-10zM155 85h5v5h-5zM160 90h5v5h-5zM160 100h5v5h-5zM155 110h5v5h-5zM150 120h5v5h-5zM145 125h10v5h-10zM145 130h5v5h-5zM145 135h5v5h-5zM145 140h5v5h-5zM150 145h5v5h-5zM150 150h5v5h-5zM155 160h5v5h-5zM155 165h5v5h-5zM150 170h10v5h-10zM150 175h10v5h-10zM150 180h10v5h-10zM155 185h5v5h-5zM150 190h10v5h-10zM145 195h10v5h-10zM130 200h15v5h-15zM125 205h10v5h-10zM125 210h10v5h-10zM65 215h5v5h-5zM135 215h10v5h-10zM145 220h5v5h-5zM150 225h5v5h-5zM150 235h5v5h-5zM150 240h5v5h-5zM145 255h5v5h-5zM130 260h5v5h-5zM125 265h5v5h-5zM125 270h5v5h-5zM125 275h5v5h-5zM125 295h5v5h-5zM125 300h10v5h-10zM120 305h20v5h-20zM120 310h15v5h-15zM120 315h5v5h-5zM115 320h5v5h-5zM105 325h5v5h-5zM95 330h5v5h-5zM90 340h5v5h-5zM85 345h5v5h-5zM85 350h5v5h-5zM80 355h5v5h-5zM80 360h5v5h-5zM60 365h5v5h-5zM75 365h5v5h-5z"/><path fill="#cecece" d="M95 85h15v5h-15zM145 85h10v5h-10zM90 90h15v5h-15zM150 90h10v5h-10zM150 95h15v5h-15zM150 100h10v5h-10zM145 105h15v5h-15zM140 110h15v5h-15zM140 115h15v5h-15zM140 120h10v5h-10zM140 125h5v5h-5zM140 130h5v5h-5zM140 135h5v5h-5zM140 140h5v5h-5zM145 145h5v5h-5zM145 150h5v5h-5zM150 155h5v5h-5zM150 160h5v5h-5zM150 165h5v5h-5zM145 170h5v5h-5zM140 175h10v5h-10zM140 180h10v5h-10zM135 185h20v5h-20zM135 190h15v5h-15zM130 195h15v5h-15zM120 210h5v5h-5zM125 215h10v5h-10zM135 220h10v5h-10zM145 225h5v5h-5zM150 230h5v5h-5zM140 255h5v5h-5zM125 280h5v5h-5zM125 285h5v5h-5zM125 290h5v5h-5zM120 300h5v5h-5zM115 305h5v5h-5zM115 310h5v5h-5zM110 315h10v5h-10zM100 320h15v5h-15zM95 325h10v5h-10zM90 330h5v5h-5zM90 335h5v5h-5zM85 340h5v5h-5zM80 350h5v5h-5zM75 355h5v5h-5zM75 360h5v5h-5zM65 365h10v5h-10z"/><path fill="#d4d4d4" d="M110 85h35v5h-35zM85 90h5v5h-5zM105 90h45v5h-45zM95 95h55v5h-55zM95 100h55v5h-55zM100 105h45v5h-45zM105 110h35v5h-35zM110 115h30v5h-30zM115 120h25v5h-25zM130 125h10v5h-10zM135 130h5v5h-5zM135 135h5v5h-5zM140 145h5v5h-5zM145 155h5v5h-5zM145 160h5v5h-5zM145 165h5v5h-5zM140 170h5v5h-5zM135 175h5v5h-5zM135 180h5v5h-5zM60 185h5v5h-5zM130 185h5v5h-5zM130 190h5v5h-5zM125 200h5v5h-5zM80 210h5v5h-5zM120 215h5v5h-5zM60 220h5v5h-5zM130 220h5v5h-5zM140 225h5v5h-5zM145 230h5v5h-5zM145 250h5v5h-5zM135 255h5v5h-5zM125 260h5v5h-5zM120 270h5v5h-5zM120 275h5v5h-5zM120 280h5v5h-5zM120 285h5v5h-5zM120 290h5v5h-5zM115 295h10v5h-10zM100 300h20v5h-20zM90 305h25v5h-25zM85 310h30v5h-30zM90 315h20v5h-20zM90 320h10v5h-10zM90 325h5v5h-5zM85 330h5v5h-5zM80 335h10v5h-10zM80 340h5v5h-5zM75 345h10v5h-10zM75 350h5v5h-5zM70 355h5v5h-5zM60 360h15v5h-15z"/><path fill="#d9d9d9" d="M90 95h5v5h-5zM100 110h5v5h-5zM105 115h5v5h-5zM110 120h5v5h-5zM120 125h10v5h-10zM130 130h5v5h-5zM135 140h5v5h-5zM135 145h5v5h-5zM140 150h5v5h-5zM140 155h5v5h-5zM140 160h5v5h-5zM135 165h10v5h-10zM135 170h5v5h-5zM130 175h5v5h-5zM130 180h5v5h-5zM125 195h5v5h-5zM120 205h5v5h-5zM125 220h5v5h-5zM135 225h5v5h-5zM145 235h5v5h-5zM145 245h5v5h-5zM120 265h5v5h-5zM60 270h5v5h-5zM60 275h30v5h-30zM110 275h10v5h-10zM60 280h60v5h-60zM60 285h60v5h-60zM60 290h60v5h-60zM60 295h55v5h-55zM60 300h40v5h-40zM60 305h30v5h-30zM60 310h25v5h-25zM60 315h30v5h-30zM60 320h30v5h-30zM60 325h30v5h-30zM60 330h25v5h-25zM60 335h20v5h-20zM60 340h20v5h-20zM60 345h15v5h-15zM60 350h15v5h-15zM60 355h10v5h-10z"/><path fill="#dedede" d="M60 90h25v5h-25zM90 100h5v5h-5zM95 105h5v5h-5zM115 125h5v5h-5zM120 130h10v5h-10zM125 135h10v5h-10zM125 140h10v5h-10zM130 145h5v5h-5zM130 150h10v5h-10zM130 155h10v5h-10zM130 160h10v5h-10zM130 165h5v5h-5zM130 170h5v5h-5zM60 180h5v5h-5zM125 185h5v5h-5zM65 190h5v5h-5zM125 190h5v5h-5zM70 195h5v5h-5zM75 200h5v5h-5zM80 205h5v5h-5zM115 210h5v5h-5zM70 215h5v5h-5zM115 215h5v5h-5zM130 225h5v5h-5zM135 230h10v5h-10zM145 240h5v5h-5zM140 250h5v5h-5zM130 255h5v5h-5zM65 270h20v5h-20zM115 270h5v5h-5zM90 275h20v5h-20z"/><path fill="#e4e4e4" d="M60 95h30v5h-30zM60 100h30v5h-30zM60 105h35v5h-35zM60 110h25v5h-25zM95 110h5v5h-5zM60 115h20v5h-20zM100 115h5v5h-5zM60 120h20v5h-20zM105 120h5v5h-5zM60 125h15v5h-15zM110 125h5v5h-5zM60 130h15v5h-15zM110 130h10v5h-10zM60 135h10v5h-10zM115 135h10v5h-10zM60 140h10v5h-10zM120 140h5v5h-5zM60 145h5v5h-5zM120 145h10v5h-10zM60 150h5v5h-5zM120 150h10v5h-10zM60 155h5v5h-5zM120 155h10v5h-10zM60 160h5v5h-5zM120 160h10v5h-10zM120 165h10v5h-10zM120 170h10v5h-10zM60 175h5v5h-5zM125 175h5v5h-5zM125 180h5v5h-5zM120 200h5v5h-5zM85 210h5v5h-5zM120 220h5v5h-5zM125 225h5v5h-5zM130 230h5v5h-5zM140 235h5v5h-5zM135 250h5v5h-5zM120 260h5v5h-5zM60 265h5v5h-5zM115 265h5v5h-5zM85 270h5v5h-5zM105 270h10v5h-10z"/><path fill="#e9e9e9" d="M85 110h10v5h-10zM80 115h20v5h-20zM80 120h25v5h-25zM75 125h35v5h-35zM75 130h35v5h-35zM70 135h45v5h-45zM70 140h50v5h-50zM65 145h30v5h-30zM110 145h10v5h-10zM65 150h25v5h-25zM110 150h10v5h-10zM65 155h10v5h-10zM105 155h15v5h-15zM65 160h5v5h-5zM105 160h15v5h-15zM60 165h5v5h-5zM105 165h15v5h-15zM60 170h5v5h-5zM105 170h15v5h-15zM65 175h5v5h-5zM105 175h20v5h-20zM65 180h5v5h-5zM110 180h15v5h-15zM65 185h10v5h-10zM115 185h10v5h-10zM70 190h5v5h-5zM120 190h5v5h-5zM75 195h10v5h-10zM120 195h5v5h-5zM80 200h5v5h-5zM115 200h5v5h-5zM85 205h10v5h-10zM115 205h5v5h-5zM90 210h15v5h-15zM110 210h5v5h-5zM75 215h10v5h-10zM95 215h10v5h-10zM110 215h5v5h-5zM65 220h5v5h-5zM115 220h5v5h-5zM60 225h5v5h-5zM120 225h5v5h-5zM135 235h5v5h-5zM135 240h10v5h-10zM140 245h5v5h-5zM130 250h5v5h-5zM125 255h5v5h-5zM65 265h15v5h-15zM90 270h15v5h-15z"/><path fill="#efefef" d="M95 145h15v5h-15zM90 150h20v5h-20zM75 155h30v5h-30zM70 160h35v5h-35zM65 165h40v5h-40zM65 170h40v5h-40zM70 175h35v5h-35zM70 180h40v5h-40zM75 185h40v5h-40zM75 190h45v5h-45zM85 195h35v5h-35zM85 200h30v5h-30zM95 205h20v5h-20zM105 210h5v5h-5zM85 215h10v5h-10zM105 215h5v5h-5zM70 220h35v5h-35zM110 220h5v5h-5zM65 225h10v5h-10zM115 225h5v5h-5zM60 230h5v5h-5zM120 230h10v5h-10zM60 235h5v5h-5zM125 235h10v5h-10zM130 240h5v5h-5zM130 245h10v5h-10zM125 250h5v5h-5zM60 255h5v5h-5zM120 255h5v5h-5zM60 260h15v5h-15zM115 260h5v5h-5zM80 265h15v5h-15zM105 265h10v5h-10z"/><path fill="#f4f4f4" d="M105 220h5v5h-5zM75 225h40v5h-40zM65 230h55v5h-55zM65 235h60v5h-60zM60 240h70v5h-70zM60 245h70v5h-70zM60 250h65v5h-65zM65 255h55v5h-55zM75 260h40v5h-40zM95 265h10v5h-10z"/></g></g>
<use href="#inl" fill="none" stroke="#1e1e1e" stroke-width="1.05" stroke-linejoin="round"/>
<use href="#ol" fill="none" stroke="#141414" stroke-width="1.2" stroke-linejoin="round"/>
<text x="262.95" y="394" font-size="45.5" text-anchor="middle">(b)</text>
</g>
<g transform="translate(486.50,0)">
<rect x="55" y="55" width="243" height="362" fill="#E6F0F7"/>
<path d="M55.0 413.0 L58.1 412.0 L63.2 408.9 L69.4 398.6 L74.5 388.3 L79.7 380.1 L83.8 370.9 L96.1 367.8 L106.4 365.7 L114.6 367.8 L122.8 372.9 L125.9 378.1 L129.0 382.2 L128.0 386.3 L124.9 392.5 L120.7 400.7 L114.6 408.9 L110.5 416.0 L55.0 416.0 Z" fill="#fff"/>
<path d="M297.0 291.5 L289.0 287.4 L283.5 284.7 L280.8 286.0 L275.3 291.5 L274.0 306.6 L268.5 314.8 L263.0 325.8 L253.4 336.8 L242.4 347.7 L237.2 349.3 L229.0 356.0 L225.5 360.0 L218.5 367.0 L213.5 374.0 L207.0 386.3 L205.3 398.6 L196.1 402.7 L181.7 408.9 L167.3 415.1 L160.0 416.0 L297.0 416.0 Z" fill="#fff"/>
<g clip-path="url(#clp)"><g filter="url(#fr)"><path fill="#313131" d="M285 160h5v5h-5zM285 165h5v5h-5zM280 170h10v5h-10zM280 175h10v5h-10zM280 180h10v5h-10zM285 185h5v5h-5z"/><path fill="#363636" d="M265 85h25v5h-25zM265 90h25v5h-25zM265 95h25v5h-25zM265 100h25v5h-25zM265 105h25v5h-25zM265 110h25v5h-25zM265 115h25v5h-25zM270 120h20v5h-20zM280 125h5v5h-5zM285 150h5v5h-5zM280 155h10v5h-10zM280 160h5v5h-5zM275 165h10v5h-10zM275 170h5v5h-5zM275 175h5v5h-5zM275 180h5v5h-5zM280 185h5v5h-5zM285 190h5v5h-5z"/><path fill="#3c3c3c" d="M260 85h5v5h-5zM255 90h10v5h-10zM255 95h10v5h-10zM255 100h10v5h-10zM255 105h10v5h-10zM255 110h10v5h-10zM260 115h5v5h-5zM260 120h10v5h-10zM265 125h15v5h-15zM285 125h5v5h-5zM285 140h5v5h-5zM280 145h10v5h-10zM280 150h5v5h-5zM275 155h5v5h-5zM275 160h5v5h-5zM270 165h5v5h-5zM270 170h5v5h-5zM270 175h5v5h-5zM275 185h5v5h-5zM280 190h5v5h-5zM285 195h5v5h-5z"/><path fill="#414141" d="M255 85h5v5h-5zM250 90h5v5h-5zM250 95h5v5h-5zM250 100h5v5h-5zM250 105h5v5h-5zM250 110h5v5h-5zM250 115h10v5h-10zM255 120h5v5h-5zM260 125h5v5h-5zM280 130h10v5h-10zM280 135h10v5h-10zM280 140h5v5h-5zM275 145h5v5h-5zM275 150h5v5h-5zM270 155h5v5h-5zM270 160h5v5h-5zM265 165h5v5h-5zM265 170h5v5h-5zM265 175h5v5h-5zM265 180h10v5h-10zM260 185h15v5h-15zM260 190h20v5h-20zM255 195h30v5h-30zM255 200h35v5h-35zM265 205h25v5h-25zM270 210h15v5h-15z"/><path fill="#474747" d="M250 85h5v5h-5zM245 90h5v5h-5zM245 95h5v5h-5zM245 100h5v5h-5zM245 105h5v5h-5zM245 110h5v5h-5zM245 115h5v5h-5zM250 120h5v5h-5zM255 125h5v5h-5zM270 130h10v5h-10zM275 135h5v5h-5zM270 140h10v5h-10zM270 145h5v5h-5zM265 150h10v5h-10zM265 155h5v5h-5zM260 160h10v5h-10zM260 165h5v5h-5zM260 170h5v5h-5zM260 175h5v5h-5zM255 180h10v5h-10zM250 185h10v5h-10zM250 190h10v5h-10zM250 195h5v5h-5zM245 200h10v5h-10zM250 205h15v5h-15zM250 210h20v5h-20zM285 210h5v5h-5zM255 215h35v5h-35zM255 220h30v5h-30zM255 225h30v5h-30zM255 230h30v5h-30zM255 235h30v5h-30zM255 240h30v5h-30zM255 245h30v5h-30zM255 250h30v5h-30zM255 255h25v5h-25zM250 260h25v5h-25zM250 265h20v5h-20z"/><path fill="#4c4c4c" d="M215 85h35v5h-35zM220 90h25v5h-25zM225 95h20v5h-20zM230 100h15v5h-15zM235 105h10v5h-10zM235 110h10v5h-10zM240 115h5v5h-5zM245 120h5v5h-5zM250 125h5v5h-5zM265 130h5v5h-5zM270 135h5v5h-5zM265 140h5v5h-5zM265 145h5v5h-5zM260 150h5v5h-5zM260 155h5v5h-5zM255 160h5v5h-5zM255 165h5v5h-5zM250 170h10v5h-10zM250 175h10v5h-10zM250 180h5v5h-5zM245 185h5v5h-5zM245 190h5v5h-5zM245 195h5v5h-5zM245 205h5v5h-5zM245 210h5v5h-5zM245 215h10v5h-10zM245 220h10v5h-10zM285 220h5v5h-5zM245 225h10v5h-10zM285 225h5v5h-5zM245 230h10v5h-10zM285 230h5v5h-5zM245 235h10v5h-10zM285 235h5v5h-5zM240 240h15v5h-15zM285 240h5v5h-5zM240 245h15v5h-15zM285 245h5v5h-5zM240 250h15v5h-15zM235 255h20v5h-20zM280 255h5v5h-5zM235 260h15v5h-15zM275 260h5v5h-5zM235 265h15v5h-15zM270 265h5v5h-5zM240 270h30v5h-30zM225 315h5v5h-5zM220 320h15v5h-15zM215 325h20v5h-20zM215 330h20v5h-20zM210 335h25v5h-25zM210 340h25v5h-25zM210 345h20v5h-20zM210 350h20v5h-20zM215 355h10v5h-10z"/><path fill="#515151" d="M205 85h10v5h-10zM210 90h10v5h-10zM210 95h15v5h-15zM215 100h15v5h-15zM220 105h15v5h-15zM225 110h10v5h-10zM225 115h15v5h-15zM230 120h15v5h-15zM245 125h5v5h-5zM255 130h10v5h-10zM260 135h10v5h-10zM260 140h5v5h-5zM255 145h10v5h-10zM255 150h5v5h-5zM250 155h10v5h-10zM245 160h10v5h-10zM245 165h10v5h-10zM245 170h5v5h-5zM245 175h5v5h-5zM240 180h10v5h-10zM240 185h5v5h-5zM240 190h5v5h-5zM240 195h5v5h-5zM240 200h5v5h-5zM240 205h5v5h-5zM240 210h5v5h-5zM240 215h5v5h-5zM240 220h5v5h-5zM240 225h5v5h-5zM240 230h5v5h-5zM235 235h10v5h-10zM235 240h5v5h-5zM215 245h25v5h-25zM210 250h30v5h-30zM285 250h5v5h-5zM210 255h25v5h-25zM215 260h20v5h-20zM280 260h5v5h-5zM215 265h20v5h-20zM275 265h5v5h-5zM215 270h25v5h-25zM270 270h5v5h-5zM220 275h25v5h-25zM220 280h15v5h-15zM220 310h10v5h-10zM215 315h10v5h-10zM230 315h5v5h-5zM210 320h10v5h-10zM205 325h10v5h-10zM235 325h5v5h-5zM200 330h15v5h-15zM235 330h5v5h-5zM200 335h10v5h-10zM235 335h5v5h-5zM200 340h10v5h-10zM235 340h5v5h-5zM205 345h5v5h-5zM230 345h5v5h-5zM205 350h5v5h-5zM230 350h5v5h-5zM205 355h10v5h-10zM225 355h5v5h-5zM210 360h10v5h-10z"/><path fill="#575757" d="M200 85h5v5h-5zM205 90h5v5h-5zM210 100h5v5h-5zM215 105h5v5h-5zM220 110h5v5h-5zM220 115h5v5h-5zM225 120h5v5h-5zM225 125h20v5h-20zM250 130h5v5h-5zM250 135h10v5h-10zM250 140h10v5h-10zM245 145h10v5h-10zM245 150h10v5h-10zM240 155h10v5h-10zM240 160h5v5h-5zM240 165h5v5h-5zM235 170h10v5h-10zM235 175h10v5h-10zM235 180h5v5h-5zM235 185h5v5h-5zM235 190h5v5h-5zM235 195h5v5h-5zM235 200h5v5h-5zM235 205h5v5h-5zM235 210h5v5h-5zM235 215h5v5h-5zM235 220h5v5h-5zM235 225h5v5h-5zM235 230h5v5h-5zM230 235h5v5h-5zM210 240h25v5h-25zM205 245h10v5h-10zM205 250h5v5h-5zM205 255h5v5h-5zM285 255h5v5h-5zM210 260h5v5h-5zM210 265h5v5h-5zM210 270h5v5h-5zM210 275h10v5h-10zM245 275h15v5h-15zM215 280h5v5h-5zM235 280h5v5h-5zM220 285h15v5h-15zM225 305h5v5h-5zM215 310h5v5h-5zM230 310h5v5h-5zM205 315h10v5h-10zM200 320h10v5h-10zM235 320h5v5h-5zM195 325h10v5h-10zM195 330h5v5h-5zM195 335h5v5h-5zM200 345h5v5h-5zM200 350h5v5h-5zM205 360h5v5h-5zM220 360h5v5h-5z"/><path fill="#5c5c5c" d="M200 90h5v5h-5zM205 95h5v5h-5zM215 110h5v5h-5zM220 120h5v5h-5zM220 125h5v5h-5zM225 130h25v5h-25zM235 135h15v5h-15zM240 140h10v5h-10zM240 145h5v5h-5zM235 150h10v5h-10zM235 155h5v5h-5zM230 160h10v5h-10zM230 165h10v5h-10zM230 170h5v5h-5zM230 175h5v5h-5zM230 180h5v5h-5zM230 185h5v5h-5zM230 190h5v5h-5zM230 195h5v5h-5zM230 200h5v5h-5zM230 205h5v5h-5zM230 210h5v5h-5zM230 215h5v5h-5zM230 220h5v5h-5zM230 225h5v5h-5zM230 230h5v5h-5zM220 235h10v5h-10zM205 240h5v5h-5zM200 245h5v5h-5zM205 260h5v5h-5zM205 265h5v5h-5zM205 270h5v5h-5zM260 275h5v5h-5zM210 280h5v5h-5zM240 280h5v5h-5zM215 285h5v5h-5zM220 305h5v5h-5zM210 310h5v5h-5zM200 315h5v5h-5zM235 315h5v5h-5zM195 320h5v5h-5zM190 325h5v5h-5zM190 330h5v5h-5zM195 340h5v5h-5zM195 345h5v5h-5zM235 345h5v5h-5zM200 355h5v5h-5zM200 360h5v5h-5zM205 365h10v5h-10z"/><path fill="#626262" d="M210 105h5v5h-5zM215 115h5v5h-5zM220 130h5v5h-5zM220 135h15v5h-15zM220 140h20v5h-20zM225 145h15v5h-15zM225 150h10v5h-10zM220 155h15v5h-15zM220 160h10v5h-10zM215 165h15v5h-15zM215 170h15v5h-15zM215 175h15v5h-15zM215 180h15v5h-15zM215 185h15v5h-15zM215 190h15v5h-15zM215 195h15v5h-15zM220 200h10v5h-10zM220 205h10v5h-10zM220 210h10v5h-10zM225 215h5v5h-5zM225 230h5v5h-5zM205 235h15v5h-15zM200 240h5v5h-5zM200 250h5v5h-5zM200 255h5v5h-5zM200 260h5v5h-5zM280 265h5v5h-5zM205 275h5v5h-5zM265 275h5v5h-5zM235 285h5v5h-5zM220 290h10v5h-10zM215 305h5v5h-5zM200 310h10v5h-10zM195 315h5v5h-5zM190 320h5v5h-5zM185 325h5v5h-5zM190 335h5v5h-5zM190 340h5v5h-5zM195 350h5v5h-5zM195 355h5v5h-5zM230 355h5v5h-5zM225 360h5v5h-5zM200 365h5v5h-5zM215 365h5v5h-5z"/><path fill="#676767" d="M195 85h5v5h-5zM205 100h5v5h-5zM215 120h5v5h-5zM215 135h5v5h-5zM215 140h5v5h-5zM210 145h15v5h-15zM205 150h20v5h-20zM205 155h15v5h-15zM205 160h15v5h-15zM205 165h10v5h-10zM205 170h10v5h-10zM200 175h15v5h-15zM200 180h15v5h-15zM200 185h15v5h-15zM200 190h15v5h-15zM205 195h10v5h-10zM210 200h10v5h-10zM215 205h5v5h-5zM215 210h5v5h-5zM220 215h5v5h-5zM220 220h10v5h-10zM220 225h10v5h-10zM215 230h10v5h-10zM200 235h5v5h-5zM195 240h5v5h-5zM195 245h5v5h-5zM200 265h5v5h-5zM200 270h5v5h-5zM275 270h5v5h-5zM205 280h5v5h-5zM210 285h5v5h-5zM230 290h5v5h-5zM220 300h5v5h-5zM205 305h10v5h-10zM230 305h5v5h-5zM195 310h5v5h-5zM185 315h10v5h-10zM185 320h5v5h-5zM240 325h5v5h-5zM185 330h5v5h-5zM240 330h5v5h-5zM185 335h5v5h-5zM240 335h5v5h-5zM185 340h5v5h-5zM190 345h5v5h-5zM190 350h5v5h-5zM235 350h5v5h-5zM190 355h5v5h-5zM195 360h5v5h-5zM195 365h5v5h-5z"/><path fill="#6d6d6d" d="M200 95h5v5h-5zM210 110h5v5h-5zM215 125h5v5h-5zM215 130h5v5h-5zM210 140h5v5h-5zM205 145h5v5h-5zM195 150h10v5h-10zM190 155h15v5h-15zM190 160h15v5h-15zM190 165h15v5h-15zM190 170h15v5h-15zM190 175h10v5h-10zM190 180h10v5h-10zM190 185h10v5h-10zM195 190h5v5h-5zM200 195h5v5h-5zM205 200h5v5h-5zM210 205h5v5h-5zM210 210h5v5h-5zM215 215h5v5h-5zM215 220h5v5h-5zM215 225h5v5h-5zM205 230h10v5h-10zM195 235h5v5h-5zM195 250h5v5h-5zM195 255h5v5h-5zM195 260h5v5h-5zM285 260h5v5h-5zM200 275h5v5h-5zM205 285h5v5h-5zM215 290h5v5h-5zM220 295h5v5h-5zM210 300h10v5h-10zM225 300h5v5h-5zM195 305h10v5h-10zM185 310h10v5h-10zM235 310h5v5h-5zM180 320h5v5h-5zM180 325h5v5h-5zM180 330h5v5h-5zM180 335h5v5h-5zM180 340h5v5h-5zM185 345h5v5h-5zM185 350h5v5h-5zM185 355h5v5h-5zM190 360h5v5h-5zM190 365h5v5h-5zM195 370h10v5h-10z"/><path fill="#727272" d="M195 90h5v5h-5zM205 105h5v5h-5zM200 145h5v5h-5zM190 150h5v5h-5zM185 155h5v5h-5zM180 160h10v5h-10zM180 165h10v5h-10zM185 170h5v5h-5zM185 175h5v5h-5zM185 180h5v5h-5zM185 185h5v5h-5zM190 190h5v5h-5zM200 200h5v5h-5zM205 205h5v5h-5zM210 215h5v5h-5zM210 220h5v5h-5zM210 225h5v5h-5zM200 230h5v5h-5zM190 245h5v5h-5zM195 265h5v5h-5zM195 270h5v5h-5zM195 275h5v5h-5zM200 280h5v5h-5zM245 280h5v5h-5zM200 285h5v5h-5zM195 290h20v5h-20zM190 295h30v5h-30zM225 295h5v5h-5zM190 300h20v5h-20zM185 305h10v5h-10zM180 310h5v5h-5zM180 315h5v5h-5zM240 320h5v5h-5zM240 340h5v5h-5zM180 345h5v5h-5zM180 350h5v5h-5zM185 360h5v5h-5zM220 365h5v5h-5zM190 370h5v5h-5zM205 370h5v5h-5z"/><path fill="#777777" d="M210 115h5v5h-5zM210 135h5v5h-5zM205 140h5v5h-5zM195 145h5v5h-5zM185 150h5v5h-5zM180 155h5v5h-5zM180 170h5v5h-5zM180 175h5v5h-5zM195 195h5v5h-5zM205 210h5v5h-5zM205 225h5v5h-5zM190 240h5v5h-5zM190 250h5v5h-5zM190 255h5v5h-5zM190 260h5v5h-5zM190 265h5v5h-5zM190 270h5v5h-5zM190 275h5v5h-5zM270 275h5v5h-5zM190 280h10v5h-10zM250 280h5v5h-5zM190 285h10v5h-10zM185 290h10v5h-10zM185 295h5v5h-5zM180 300h10v5h-10zM180 305h5v5h-5zM175 320h5v5h-5zM175 325h5v5h-5zM175 330h5v5h-5zM175 335h5v5h-5zM175 340h5v5h-5zM175 345h5v5h-5zM180 355h5v5h-5zM185 365h5v5h-5zM210 370h5v5h-5z"/><path fill="#7d7d7d" d="M200 100h5v5h-5zM190 145h5v5h-5zM180 150h5v5h-5zM175 155h5v5h-5zM175 160h5v5h-5zM175 165h5v5h-5zM180 180h5v5h-5zM180 185h5v5h-5zM185 190h5v5h-5zM200 205h5v5h-5zM205 215h5v5h-5zM205 220h5v5h-5zM200 225h5v5h-5zM195 230h5v5h-5zM190 235h5v5h-5zM185 260h5v5h-5zM185 265h5v5h-5zM185 270h5v5h-5zM185 275h5v5h-5zM185 280h5v5h-5zM255 280h5v5h-5zM185 285h5v5h-5zM240 285h5v5h-5zM180 290h5v5h-5zM235 290h5v5h-5zM180 295h5v5h-5zM230 300h5v5h-5zM175 315h5v5h-5zM240 315h5v5h-5zM240 345h5v5h-5zM175 350h5v5h-5zM235 355h5v5h-5zM180 360h5v5h-5zM230 360h5v5h-5zM185 370h5v5h-5zM190 375h10v5h-10z"/><path fill="#828282" d="M190 85h5v5h-5zM195 95h5v5h-5zM205 110h5v5h-5zM210 120h5v5h-5zM210 125h5v5h-5zM210 130h5v5h-5zM200 140h5v5h-5zM185 145h5v5h-5zM175 170h5v5h-5zM190 195h5v5h-5zM195 200h5v5h-5zM200 210h5v5h-5zM200 215h5v5h-5zM200 220h5v5h-5zM185 245h5v5h-5zM185 250h5v5h-5zM185 255h5v5h-5zM180 265h5v5h-5zM285 265h5v5h-5zM180 270h5v5h-5zM280 270h5v5h-5zM180 275h5v5h-5zM180 280h5v5h-5zM260 280h5v5h-5zM180 285h5v5h-5zM175 295h5v5h-5zM230 295h5v5h-5zM175 300h5v5h-5zM175 305h5v5h-5zM235 305h5v5h-5zM175 310h5v5h-5zM170 340h5v5h-5zM170 345h5v5h-5zM175 355h5v5h-5zM180 365h5v5h-5zM225 365h5v5h-5zM215 370h5v5h-5z"/><path fill="#888888" d="M190 90h5v5h-5zM200 105h5v5h-5zM205 135h5v5h-5zM195 140h5v5h-5zM180 190h5v5h-5zM195 205h5v5h-5zM195 220h5v5h-5zM195 225h5v5h-5zM190 230h5v5h-5zM185 240h5v5h-5zM180 255h5v5h-5zM180 260h5v5h-5zM175 270h5v5h-5zM175 275h5v5h-5zM275 275h5v5h-5zM175 280h5v5h-5zM265 280h5v5h-5zM175 285h5v5h-5zM175 290h5v5h-5zM240 310h5v5h-5zM170 330h5v5h-5zM245 330h5v5h-5zM170 335h5v5h-5zM245 335h5v5h-5zM170 350h5v5h-5zM240 350h5v5h-5zM185 375h5v5h-5zM200 375h5v5h-5z"/><path fill="#8d8d8d" d="M195 100h5v5h-5zM205 115h5v5h-5zM190 140h5v5h-5zM180 145h5v5h-5zM175 150h5v5h-5zM170 160h5v5h-5zM170 165h5v5h-5zM175 175h5v5h-5zM185 195h5v5h-5zM195 210h5v5h-5zM195 215h5v5h-5zM190 225h5v5h-5zM185 235h5v5h-5zM180 245h5v5h-5zM180 250h5v5h-5zM175 265h5v5h-5zM285 270h5v5h-5zM280 275h5v5h-5zM270 280h5v5h-5zM245 285h15v5h-15zM240 290h5v5h-5zM235 295h5v5h-5zM235 300h5v5h-5zM240 305h5v5h-5zM245 315h5v5h-5zM170 320h5v5h-5zM245 320h5v5h-5zM170 325h5v5h-5zM245 325h5v5h-5zM245 340h5v5h-5zM245 345h5v5h-5zM240 355h5v5h-5zM175 360h5v5h-5zM235 360h5v5h-5zM230 365h5v5h-5zM220 370h5v5h-5zM205 375h10v5h-10zM190 380h10v5h-10z"/><path fill="#929292" d="M170 85h20v5h-20zM185 90h5v5h-5zM190 95h5v5h-5zM195 105h5v5h-5zM200 110h5v5h-5zM205 120h5v5h-5zM205 125h5v5h-5zM205 130h5v5h-5zM200 135h5v5h-5zM185 140h5v5h-5zM170 155h5v5h-5zM175 180h5v5h-5zM180 195h5v5h-5zM60 200h5v5h-5zM190 200h5v5h-5zM60 205h10v5h-10zM190 205h5v5h-5zM60 210h5v5h-5zM190 210h5v5h-5zM190 215h5v5h-5zM190 220h5v5h-5zM180 240h5v5h-5zM175 255h5v5h-5zM175 260h5v5h-5zM170 265h5v5h-5zM170 270h5v5h-5zM170 275h5v5h-5zM285 275h5v5h-5zM170 280h5v5h-5zM275 280h15v5h-15zM170 285h5v5h-5zM260 285h30v5h-30zM170 290h5v5h-5zM245 290h45v5h-45zM170 295h5v5h-5zM240 295h50v5h-50zM170 300h5v5h-5zM240 300h50v5h-50zM245 305h45v5h-45zM245 310h45v5h-45zM170 315h5v5h-5zM250 315h40v5h-40zM250 320h40v5h-40zM250 325h40v5h-40zM250 330h40v5h-40zM250 335h40v5h-40zM165 340h5v5h-5zM250 340h40v5h-40zM165 345h5v5h-5zM250 345h40v5h-40zM245 350h45v5h-45zM170 355h5v5h-5zM245 355h45v5h-45zM240 360h50v5h-50zM235 365h55v5h-55zM180 370h5v5h-5zM225 370h65v5h-65zM215 375h75v5h-75zM60 380h10v5h-10zM185 380h5v5h-5zM200 380h90v5h-90zM60 385h20v5h-20zM190 385h100v5h-100z"/><path fill="#989898" d="M165 85h5v5h-5zM170 90h15v5h-15zM175 95h15v5h-15zM170 100h25v5h-25zM170 105h25v5h-25zM170 110h30v5h-30zM170 115h35v5h-35zM170 120h35v5h-35zM170 125h35v5h-35zM175 130h30v5h-30zM175 135h25v5h-25zM175 140h10v5h-10zM175 145h5v5h-5zM170 170h5v5h-5zM175 185h5v5h-5zM175 190h5v5h-5zM180 200h10v5h-10zM180 205h10v5h-10zM180 210h10v5h-10zM180 215h10v5h-10zM185 220h5v5h-5zM185 225h5v5h-5zM185 230h5v5h-5zM180 235h5v5h-5zM175 250h5v5h-5zM170 260h5v5h-5zM165 265h5v5h-5zM165 270h5v5h-5zM165 275h5v5h-5zM165 280h5v5h-5zM170 305h5v5h-5zM170 310h5v5h-5zM165 335h5v5h-5zM165 350h5v5h-5zM175 365h5v5h-5zM60 375h5v5h-5zM70 380h5v5h-5zM80 385h5v5h-5zM185 385h5v5h-5z"/><path fill="#9d9d9d" d="M170 95h5v5h-5zM165 110h5v5h-5zM165 115h5v5h-5zM165 120h5v5h-5zM165 125h5v5h-5zM165 130h10v5h-10zM170 135h5v5h-5zM170 140h5v5h-5zM170 145h5v5h-5zM170 150h5v5h-5zM60 195h5v5h-5zM175 195h5v5h-5zM65 200h5v5h-5zM175 200h5v5h-5zM70 205h5v5h-5zM175 205h5v5h-5zM65 210h5v5h-5zM175 210h5v5h-5zM175 215h5v5h-5zM175 220h10v5h-10zM175 225h10v5h-10zM175 230h10v5h-10zM175 245h5v5h-5zM170 255h5v5h-5zM165 260h5v5h-5zM160 265h5v5h-5zM160 270h5v5h-5zM160 275h5v5h-5zM165 330h5v5h-5zM170 360h5v5h-5zM65 375h5v5h-5zM180 375h5v5h-5z"/><path fill="#a3a3a3" d="M165 105h5v5h-5zM165 135h5v5h-5zM165 140h5v5h-5zM165 155h5v5h-5zM165 160h5v5h-5zM165 165h5v5h-5zM170 175h5v5h-5zM170 195h5v5h-5zM170 200h5v5h-5zM170 205h5v5h-5zM170 210h5v5h-5zM170 215h5v5h-5zM165 220h10v5h-10zM170 225h5v5h-5zM170 230h5v5h-5zM175 235h5v5h-5zM175 240h5v5h-5zM170 250h5v5h-5zM165 255h5v5h-5zM160 260h5v5h-5zM160 280h5v5h-5zM165 285h5v5h-5zM165 320h5v5h-5zM165 325h5v5h-5zM160 340h5v5h-5zM160 345h5v5h-5zM165 355h5v5h-5zM170 365h5v5h-5zM175 370h5v5h-5zM75 380h5v5h-5zM180 380h5v5h-5zM85 385h5v5h-5zM180 385h5v5h-5z"/><path fill="#a8a8a8" d="M85 85h5v5h-5zM165 90h5v5h-5zM165 100h5v5h-5zM160 115h5v5h-5zM160 120h5v5h-5zM160 125h5v5h-5zM160 130h5v5h-5zM160 135h5v5h-5zM160 140h5v5h-5zM165 145h5v5h-5zM165 150h5v5h-5zM165 170h5v5h-5zM170 180h5v5h-5zM170 185h5v5h-5zM170 190h5v5h-5zM165 195h5v5h-5zM165 200h5v5h-5zM160 205h10v5h-10zM160 210h10v5h-10zM60 215h5v5h-5zM160 215h10v5h-10zM160 220h5v5h-5zM165 225h5v5h-5zM165 230h5v5h-5zM170 235h5v5h-5zM170 240h5v5h-5zM170 245h5v5h-5zM165 250h5v5h-5zM160 255h5v5h-5zM165 290h5v5h-5zM165 295h5v5h-5zM160 335h5v5h-5zM160 350h5v5h-5zM165 360h5v5h-5zM60 370h5v5h-5zM175 375h5v5h-5zM90 385h5v5h-5z"/><path fill="#aeaeae" d="M160 85h5v5h-5zM165 95h5v5h-5zM160 110h5v5h-5zM155 120h5v5h-5zM155 125h5v5h-5zM155 130h5v5h-5zM155 135h5v5h-5zM155 140h5v5h-5zM155 145h10v5h-10zM155 150h10v5h-10zM160 155h5v5h-5zM160 160h5v5h-5zM160 165h5v5h-5zM160 170h5v5h-5zM160 175h10v5h-10zM165 180h5v5h-5zM165 185h5v5h-5zM60 190h5v5h-5zM165 190h5v5h-5zM160 195h5v5h-5zM160 200h5v5h-5zM155 205h5v5h-5zM70 210h5v5h-5zM155 210h5v5h-5zM155 215h5v5h-5zM160 225h5v5h-5zM160 230h5v5h-5zM165 235h5v5h-5zM165 240h5v5h-5zM165 245h5v5h-5zM160 250h5v5h-5zM155 260h5v5h-5zM155 265h5v5h-5zM155 270h5v5h-5zM155 275h5v5h-5zM160 285h5v5h-5zM165 300h5v5h-5zM165 305h5v5h-5zM165 310h5v5h-5zM165 315h5v5h-5zM160 330h5v5h-5zM155 340h5v5h-5zM155 345h5v5h-5zM155 350h5v5h-5zM155 355h10v5h-10zM130 360h10v5h-10zM160 360h5v5h-5zM125 365h25v5h-25zM165 365h5v5h-5zM120 370h55v5h-55zM115 375h60v5h-60zM110 380h70v5h-70zM95 385h85v5h-85z"/><path fill="#b3b3b3" d="M60 85h5v5h-5zM80 85h5v5h-5zM90 85h5v5h-5zM160 105h5v5h-5zM155 115h5v5h-5zM150 120h5v5h-5zM150 125h5v5h-5zM145 130h10v5h-10zM145 135h10v5h-10zM150 140h5v5h-5zM150 145h5v5h-5zM155 155h5v5h-5zM155 160h5v5h-5zM155 165h5v5h-5zM155 170h5v5h-5zM155 175h5v5h-5zM155 180h10v5h-10zM155 185h10v5h-10zM160 190h5v5h-5zM155 195h5v5h-5zM150 200h10v5h-10zM145 205h10v5h-10zM145 210h10v5h-10zM150 215h5v5h-5zM155 220h5v5h-5zM160 235h5v5h-5zM160 240h5v5h-5zM160 245h5v5h-5zM155 250h5v5h-5zM155 255h5v5h-5zM155 280h5v5h-5zM160 325h5v5h-5zM155 335h5v5h-5zM150 340h5v5h-5zM145 345h10v5h-10zM130 350h25v5h-25zM120 355h35v5h-35zM115 360h15v5h-15zM140 360h20v5h-20zM110 365h15v5h-15zM150 365h15v5h-15zM110 370h10v5h-10zM70 375h5v5h-5zM105 375h10v5h-10zM80 380h5v5h-5zM100 380h10v5h-10z"/><path fill="#b8b8b8" d="M65 85h5v5h-5zM75 85h5v5h-5zM155 85h5v5h-5zM160 90h5v5h-5zM160 100h5v5h-5zM155 110h5v5h-5zM150 115h5v5h-5zM145 120h5v5h-5zM140 125h10v5h-10zM140 130h5v5h-5zM145 140h5v5h-5zM145 145h5v5h-5zM150 150h5v5h-5zM150 155h5v5h-5zM150 165h5v5h-5zM150 170h5v5h-5zM145 175h10v5h-10zM145 180h10v5h-10zM150 185h5v5h-5zM150 190h10v5h-10zM65 195h5v5h-5zM145 195h10v5h-10zM70 200h5v5h-5zM130 200h20v5h-20zM75 205h5v5h-5zM130 205h15v5h-15zM130 210h15v5h-15zM140 215h10v5h-10zM150 220h5v5h-5zM155 225h5v5h-5zM155 240h5v5h-5zM155 245h5v5h-5zM160 290h5v5h-5zM160 315h5v5h-5zM160 320h5v5h-5zM155 325h5v5h-5zM125 330h10v5h-10zM155 330h5v5h-5zM120 335h35v5h-35zM115 340h35v5h-35zM110 345h35v5h-35zM110 350h20v5h-20zM110 355h10v5h-10zM105 360h10v5h-10zM100 365h10v5h-10zM100 370h10v5h-10zM95 375h10v5h-10zM85 380h15v5h-15z"/><path fill="#bebebe" d="M70 85h5v5h-5zM95 85h60v5h-60zM90 90h70v5h-70zM95 95h70v5h-70zM100 100h60v5h-60zM105 105h55v5h-55zM110 110h45v5h-45zM115 115h35v5h-35zM135 120h10v5h-10zM135 125h5v5h-5zM140 135h5v5h-5zM140 140h5v5h-5zM150 160h5v5h-5zM145 170h5v5h-5zM140 175h5v5h-5zM135 180h10v5h-10zM135 185h15v5h-15zM135 190h15v5h-15zM130 195h15v5h-15zM125 205h5v5h-5zM75 210h5v5h-5zM125 210h5v5h-5zM130 215h10v5h-10zM145 220h5v5h-5zM150 225h5v5h-5zM155 230h5v5h-5zM155 235h5v5h-5zM155 285h5v5h-5zM160 295h5v5h-5zM160 300h5v5h-5zM160 305h5v5h-5zM160 310h5v5h-5zM155 320h5v5h-5zM130 325h5v5h-5zM150 325h5v5h-5zM120 330h5v5h-5zM135 330h20v5h-20zM115 335h5v5h-5zM110 340h5v5h-5zM105 345h5v5h-5zM105 350h5v5h-5zM100 355h10v5h-10zM100 360h5v5h-5zM95 365h5v5h-5zM95 370h5v5h-5zM90 375h5v5h-5z"/><path fill="#c3c3c3" d="M95 100h5v5h-5zM100 105h5v5h-5zM105 110h5v5h-5zM110 115h5v5h-5zM115 120h20v5h-20zM130 125h5v5h-5zM135 130h5v5h-5zM135 135h5v5h-5zM140 145h5v5h-5zM145 150h5v5h-5zM145 165h5v5h-5zM140 170h5v5h-5zM135 175h5v5h-5zM130 185h5v5h-5zM130 190h5v5h-5zM125 200h5v5h-5zM120 210h5v5h-5zM65 215h5v5h-5zM125 215h5v5h-5zM135 220h10v5h-10zM145 225h5v5h-5zM150 250h5v5h-5zM150 255h5v5h-5zM150 270h5v5h-5zM150 275h5v5h-5zM150 280h5v5h-5zM155 290h5v5h-5zM155 295h5v5h-5zM155 300h5v5h-5zM155 305h5v5h-5zM155 310h5v5h-5zM155 315h5v5h-5zM150 320h5v5h-5zM125 325h5v5h-5zM135 325h15v5h-15zM115 330h5v5h-5zM110 335h5v5h-5zM105 340h5v5h-5zM100 350h5v5h-5zM95 360h5v5h-5zM65 370h5v5h-5zM90 370h5v5h-5zM75 375h5v5h-5zM85 375h5v5h-5z"/><path fill="#c9c9c9" d="M85 90h5v5h-5zM90 95h5v5h-5zM100 110h5v5h-5zM105 115h5v5h-5zM110 120h5v5h-5zM120 125h10v5h-10zM130 130h5v5h-5zM135 140h5v5h-5zM145 155h5v5h-5zM145 160h5v5h-5zM140 165h5v5h-5zM135 170h5v5h-5zM130 180h5v5h-5zM60 185h5v5h-5zM125 195h5v5h-5zM120 205h5v5h-5zM130 220h5v5h-5zM140 225h5v5h-5zM150 230h5v5h-5zM150 245h5v5h-5zM150 260h5v5h-5zM150 265h5v5h-5zM150 285h5v5h-5zM150 290h5v5h-5zM150 295h5v5h-5zM150 300h5v5h-5zM150 305h5v5h-5zM150 310h5v5h-5zM145 315h10v5h-10zM130 320h20v5h-20zM120 325h5v5h-5zM105 335h5v5h-5zM100 340h5v5h-5zM100 345h5v5h-5zM95 350h5v5h-5zM95 355h5v5h-5zM90 360h5v5h-5zM90 365h5v5h-5zM85 370h5v5h-5zM80 375h5v5h-5z"/><path fill="#cecece" d="M60 90h5v5h-5zM80 90h5v5h-5zM95 105h5v5h-5zM115 125h5v5h-5zM120 130h10v5h-10zM125 135h10v5h-10zM130 140h5v5h-5zM135 145h5v5h-5zM140 150h5v5h-5zM140 155h5v5h-5zM140 160h5v5h-5zM135 165h5v5h-5zM130 175h5v5h-5zM65 190h5v5h-5zM125 190h5v5h-5zM80 210h5v5h-5zM120 215h5v5h-5zM60 220h5v5h-5zM125 220h5v5h-5zM135 225h5v5h-5zM145 230h5v5h-5zM150 235h5v5h-5zM150 240h5v5h-5zM145 270h5v5h-5zM145 275h5v5h-5zM145 280h5v5h-5zM145 285h5v5h-5zM145 290h5v5h-5zM145 295h5v5h-5zM145 300h5v5h-5zM145 305h5v5h-5zM140 310h10v5h-10zM130 315h15v5h-15zM125 320h5v5h-5zM110 330h5v5h-5zM100 335h5v5h-5zM95 345h5v5h-5zM90 355h5v5h-5zM60 365h5v5h-5zM85 365h5v5h-5zM80 370h5v5h-5z"/><path fill="#d4d4d4" d="M65 90h15v5h-15zM60 95h30v5h-30zM60 100h35v5h-35zM60 105h20v5h-20zM60 110h15v5h-15zM95 110h5v5h-5zM60 115h10v5h-10zM100 115h5v5h-5zM60 120h10v5h-10zM105 120h5v5h-5zM60 125h5v5h-5zM110 125h5v5h-5zM60 130h5v5h-5zM110 130h10v5h-10zM115 135h10v5h-10zM120 140h10v5h-10zM120 145h15v5h-15zM130 150h10v5h-10zM60 155h5v5h-5zM135 155h5v5h-5zM135 160h5v5h-5zM130 170h5v5h-5zM60 180h5v5h-5zM125 185h5v5h-5zM70 195h5v5h-5zM75 200h5v5h-5zM120 200h5v5h-5zM80 205h5v5h-5zM115 210h5v5h-5zM130 225h5v5h-5zM140 230h5v5h-5zM145 255h5v5h-5zM140 260h10v5h-10zM130 265h20v5h-20zM130 270h15v5h-15zM130 275h15v5h-15zM135 280h10v5h-10zM135 285h10v5h-10zM135 290h10v5h-10zM130 295h15v5h-15zM125 300h20v5h-20zM125 305h20v5h-20zM125 310h15v5h-15zM125 315h5v5h-5zM120 320h5v5h-5zM115 325h5v5h-5zM105 330h5v5h-5zM95 340h5v5h-5zM90 345h5v5h-5zM90 350h5v5h-5zM85 355h5v5h-5zM85 360h5v5h-5zM80 365h5v5h-5zM70 370h10v5h-10z"/><path fill="#d9d9d9" d="M80 105h15v5h-15zM75 110h20v5h-20zM70 115h30v5h-30zM70 120h35v5h-35zM65 125h45v5h-45zM65 130h45v5h-45zM60 135h55v5h-55zM60 140h60v5h-60zM60 145h60v5h-60zM60 150h20v5h-20zM100 150h30v5h-30zM65 155h5v5h-5zM115 155h20v5h-20zM60 160h5v5h-5zM125 160h10v5h-10zM60 165h5v5h-5zM125 165h10v5h-10zM60 170h5v5h-5zM125 170h5v5h-5zM60 175h5v5h-5zM125 175h5v5h-5zM125 180h5v5h-5zM65 185h5v5h-5zM70 190h5v5h-5zM75 195h5v5h-5zM120 195h5v5h-5zM85 210h5v5h-5zM70 215h5v5h-5zM115 215h5v5h-5zM120 220h5v5h-5zM135 230h5v5h-5zM145 235h5v5h-5zM145 250h5v5h-5zM140 255h5v5h-5zM130 260h10v5h-10zM125 265h5v5h-5zM125 270h5v5h-5zM130 280h5v5h-5zM130 285h5v5h-5zM130 290h5v5h-5zM125 295h5v5h-5zM120 300h5v5h-5zM120 305h5v5h-5zM120 310h5v5h-5zM120 315h5v5h-5zM115 320h5v5h-5zM105 325h10v5h-10zM95 330h10v5h-10zM95 335h5v5h-5zM90 340h5v5h-5zM85 350h5v5h-5zM80 355h5v5h-5zM80 360h5v5h-5zM65 365h5v5h-5zM75 365h5v5h-5z"/><path fill="#dedede" d="M80 150h20v5h-20zM70 155h45v5h-45zM65 160h60v5h-60zM65 165h60v5h-60zM65 170h60v5h-60zM65 175h60v5h-60zM65 180h60v5h-60zM70 185h55v5h-55zM75 190h50v5h-50zM80 195h40v5h-40zM80 200h40v5h-40zM85 205h35v5h-35zM90 210h25v5h-25zM125 225h5v5h-5zM130 230h5v5h-5zM140 235h5v5h-5zM145 240h5v5h-5zM145 245h5v5h-5zM135 255h5v5h-5zM125 260h5v5h-5zM120 270h5v5h-5zM125 275h5v5h-5zM125 280h5v5h-5zM125 285h5v5h-5zM125 290h5v5h-5zM120 295h5v5h-5zM115 300h5v5h-5zM115 305h5v5h-5zM110 310h10v5h-10zM100 315h20v5h-20zM95 320h20v5h-20zM95 325h10v5h-10zM90 330h5v5h-5zM90 335h5v5h-5zM85 340h5v5h-5zM80 345h10v5h-10zM80 350h5v5h-5zM75 355h5v5h-5zM60 360h5v5h-5zM70 360h10v5h-10zM70 365h5v5h-5z"/><path fill="#e4e4e4" d="M75 215h5v5h-5zM95 215h20v5h-20zM65 220h5v5h-5zM115 220h5v5h-5zM60 225h5v5h-5zM135 235h5v5h-5zM140 240h5v5h-5zM140 245h5v5h-5zM140 250h5v5h-5zM130 255h5v5h-5zM120 265h5v5h-5zM60 270h10v5h-10zM60 275h30v5h-30zM110 275h15v5h-15zM60 280h65v5h-65zM60 285h65v5h-65zM60 290h65v5h-65zM60 295h60v5h-60zM60 300h55v5h-55zM60 305h55v5h-55zM60 310h50v5h-50zM60 315h40v5h-40zM60 320h35v5h-35zM60 325h35v5h-35zM60 330h30v5h-30zM60 335h30v5h-30zM60 340h25v5h-25zM60 345h20v5h-20zM60 350h20v5h-20zM60 355h15v5h-15zM65 360h5v5h-5z"/><path fill="#e9e9e9" d="M80 215h15v5h-15zM70 220h5v5h-5zM120 225h5v5h-5zM125 230h5v5h-5zM130 235h5v5h-5zM135 240h5v5h-5zM135 245h5v5h-5zM130 250h10v5h-10zM125 255h5v5h-5zM120 260h5v5h-5zM60 265h10v5h-10zM115 265h5v5h-5zM70 270h25v5h-25zM105 270h15v5h-15zM90 275h20v5h-20z"/><path fill="#efefef" d="M75 220h40v5h-40zM65 225h55v5h-55zM60 230h45v5h-45zM115 230h10v5h-10zM60 235h45v5h-45zM115 235h15v5h-15zM60 240h45v5h-45zM120 240h15v5h-15zM60 245h45v5h-45zM120 245h15v5h-15zM60 250h40v5h-40zM120 250h10v5h-10zM60 255h40v5h-40zM115 255h10v5h-10zM60 260h40v5h-40zM110 260h10v5h-10zM70 265h45v5h-45zM95 270h10v5h-10z"/><path fill="#f4f4f4" d="M105 230h10v5h-10zM105 235h10v5h-10zM105 240h15v5h-15zM105 245h15v5h-15zM100 250h20v5h-20zM100 255h15v5h-15zM100 260h10v5h-10z"/></g></g>
<use href="#inl" fill="none" stroke="#1e1e1e" stroke-width="1.05" stroke-linejoin="round"/>
<use href="#ol" fill="none" stroke="#141414" stroke-width="1.2" stroke-linejoin="round"/>
<text x="261.8" y="394" font-size="45.5" text-anchor="middle">(c)</text>
</g>
<g transform="translate(729.75,0)">
<rect x="55" y="55" width="243" height="362" fill="#E6F0F7"/>
<path d="M55.0 413.0 L58.1 412.0 L63.2 408.9 L69.4 398.6 L74.5 388.3 L79.7 380.1 L83.8 370.9 L96.1 367.8 L106.4 365.7 L114.6 367.8 L122.8 372.9 L125.9 378.1 L129.0 382.2 L128.0 386.3 L124.9 392.5 L120.7 400.7 L114.6 408.9 L110.5 416.0 L55.0 416.0 Z" fill="#fff"/>
<path d="M297.0 291.5 L289.0 287.4 L283.5 284.7 L280.8 286.0 L275.3 291.5 L274.0 306.6 L268.5 314.8 L263.0 325.8 L253.4 336.8 L242.4 347.7 L237.2 349.3 L229.0 356.0 L225.5 360.0 L218.5 367.0 L213.5 374.0 L207.0 386.3 L205.3 398.6 L196.1 402.7 L181.7 408.9 L167.3 415.1 L160.0 416.0 L297.0 416.0 Z" fill="#fff"/>
<g clip-path="url(#clp)"><g filter="url(#fb)"><path fill="#050505" d="M60 110h20v5h-20zM60 115h25v5h-25zM60 120h40v5h-40zM60 125h45v5h-45zM60 130h45v5h-45zM60 135h40v5h-40zM75 140h20v5h-20zM80 145h15v5h-15zM80 230h15v5h-15zM75 235h30v5h-30zM70 240h40v5h-40zM70 245h40v5h-40zM70 250h45v5h-45zM70 255h50v5h-50zM75 260h45v5h-45zM80 265h40v5h-40zM75 270h45v5h-45zM70 275h50v5h-50zM65 280h60v5h-60zM65 285h60v5h-60zM65 290h60v5h-60zM65 295h55v5h-55zM70 300h45v5h-45zM75 305h35v5h-35zM85 310h15v5h-15z"/><path fill="#0b0b0b" d="M60 105h25v5h-25zM80 110h10v5h-10zM85 115h15v5h-15zM100 120h5v5h-5zM110 120h15v5h-15zM105 125h25v5h-25zM105 130h25v5h-25zM100 135h30v5h-30zM60 140h15v5h-15zM95 140h40v5h-40zM70 145h10v5h-10zM95 145h35v5h-35zM80 150h5v5h-5zM95 150h30v5h-30zM100 155h25v5h-25zM75 160h5v5h-5zM100 160h30v5h-30zM75 165h10v5h-10zM95 165h35v5h-35zM75 170h60v5h-60zM75 175h60v5h-60zM190 175h10v5h-10zM80 180h60v5h-60zM185 180h10v5h-10zM85 185h70v5h-70zM180 185h15v5h-15zM95 190h60v5h-60zM185 190h10v5h-10zM100 195h20v5h-20zM130 195h30v5h-30zM130 200h40v5h-40zM140 205h30v5h-30zM150 210h25v5h-25zM160 215h10v5h-10zM160 220h5v5h-5zM75 230h5v5h-5zM95 230h5v5h-5zM115 230h5v5h-5zM70 235h5v5h-5zM105 235h15v5h-15zM110 240h15v5h-15zM65 245h5v5h-5zM110 245h15v5h-15zM65 250h5v5h-5zM115 250h10v5h-10zM120 255h5v5h-5zM70 260h5v5h-5zM120 260h5v5h-5zM75 265h5v5h-5zM120 270h5v5h-5zM120 275h5v5h-5zM125 280h5v5h-5zM125 285h5v5h-5zM125 290h5v5h-5zM120 295h5v5h-5zM115 300h5v5h-5zM110 305h10v5h-10zM80 310h5v5h-5zM100 310h20v5h-20zM70 315h55v5h-55zM65 320h55v5h-55zM60 325h35v5h-35zM60 330h35v5h-35zM60 335h35v5h-35zM60 340h30v5h-30zM65 345h25v5h-25zM70 350h15v5h-15z"/><path fill="#101010" d="M100 115h5v5h-5zM110 115h15v5h-15zM105 120h5v5h-5zM125 120h5v5h-5zM130 125h5v5h-5zM130 130h10v5h-10zM130 135h10v5h-10zM135 140h5v5h-5zM130 145h5v5h-5zM200 145h5v5h-5zM75 150h5v5h-5zM125 150h15v5h-15zM200 150h5v5h-5zM75 155h5v5h-5zM125 155h20v5h-20zM175 155h5v5h-5zM195 155h10v5h-10zM80 160h5v5h-5zM130 160h20v5h-20zM190 160h15v5h-15zM85 165h10v5h-10zM130 165h30v5h-30zM190 165h15v5h-15zM135 170h40v5h-40zM185 170h20v5h-20zM135 175h55v5h-55zM200 175h5v5h-5zM75 180h5v5h-5zM140 180h45v5h-45zM195 180h10v5h-10zM80 185h5v5h-5zM155 185h25v5h-25zM195 185h10v5h-10zM90 190h5v5h-5zM155 190h30v5h-30zM195 190h5v5h-5zM95 195h5v5h-5zM120 195h10v5h-10zM160 195h35v5h-35zM100 200h20v5h-20zM125 200h5v5h-5zM170 200h25v5h-25zM130 205h10v5h-10zM170 205h25v5h-25zM135 210h15v5h-15zM175 210h15v5h-15zM150 215h10v5h-10zM170 215h20v5h-20zM155 220h5v5h-5zM165 220h10v5h-10zM115 225h10v5h-10zM160 225h10v5h-10zM110 230h5v5h-5zM120 230h5v5h-5zM120 235h5v5h-5zM65 240h5v5h-5zM125 240h5v5h-5zM125 245h5v5h-5zM125 250h10v5h-10zM65 255h5v5h-5zM125 255h5v5h-5zM120 265h5v5h-5zM70 270h5v5h-5zM65 275h5v5h-5zM125 275h5v5h-5zM135 280h15v5h-15zM130 285h25v5h-25zM130 290h20v5h-20zM125 295h20v5h-20zM65 300h5v5h-5zM120 300h25v5h-25zM70 305h5v5h-5zM120 305h20v5h-20zM75 310h5v5h-5zM120 310h15v5h-15zM65 315h5v5h-5zM125 315h5v5h-5zM60 320h5v5h-5zM120 320h5v5h-5zM95 325h20v5h-20zM90 340h5v5h-5zM60 345h5v5h-5zM90 345h5v5h-5zM65 350h5v5h-5zM85 350h10v5h-10zM75 355h15v5h-15z"/><path fill="#161616" d="M110 90h10v5h-10zM110 95h10v5h-10zM70 100h5v5h-5zM115 100h5v5h-5zM90 110h5v5h-5zM115 110h10v5h-10zM65 145h5v5h-5zM135 145h10v5h-10zM85 150h5v5h-5zM140 150h15v5h-15zM195 150h5v5h-5zM205 150h5v5h-5zM80 155h5v5h-5zM145 155h15v5h-15zM180 155h15v5h-15zM205 155h5v5h-5zM150 160h40v5h-40zM205 160h5v5h-5zM160 165h30v5h-30zM205 165h5v5h-5zM175 170h10v5h-10zM205 170h5v5h-5zM205 175h5v5h-5zM205 180h5v5h-5zM205 185h5v5h-5zM200 190h10v5h-10zM90 195h5v5h-5zM195 195h5v5h-5zM95 200h5v5h-5zM120 200h5v5h-5zM195 200h5v5h-5zM195 205h5v5h-5zM130 210h5v5h-5zM190 210h5v5h-5zM130 215h20v5h-20zM145 220h10v5h-10zM175 220h15v5h-15zM85 225h10v5h-10zM110 225h5v5h-5zM125 225h5v5h-5zM155 225h5v5h-5zM170 225h20v5h-20zM100 230h10v5h-10zM125 230h5v5h-5zM155 230h35v5h-35zM125 235h5v5h-5zM150 235h40v5h-40zM130 240h5v5h-5zM150 240h30v5h-30zM130 245h5v5h-5zM150 245h25v5h-25zM135 250h5v5h-5zM150 250h20v5h-20zM130 255h5v5h-5zM155 255h5v5h-5zM125 260h5v5h-5zM125 270h5v5h-5zM135 275h15v5h-15zM130 280h5v5h-5zM150 280h5v5h-5zM60 285h5v5h-5zM60 290h5v5h-5zM150 290h5v5h-5zM145 295h5v5h-5zM140 305h5v5h-5zM130 315h5v5h-5zM125 320h10v5h-10zM115 325h5v5h-5zM95 330h5v5h-5zM95 335h5v5h-5zM95 340h5v5h-5zM95 345h5v5h-5zM90 355h5v5h-5zM80 360h10v5h-10z"/><path fill="#1b1b1b" d="M115 85h5v5h-5zM105 95h5v5h-5zM120 95h5v5h-5zM65 100h5v5h-5zM75 100h5v5h-5zM110 100h5v5h-5zM120 100h5v5h-5zM85 105h5v5h-5zM115 105h5v5h-5zM110 110h5v5h-5zM105 115h5v5h-5zM125 115h5v5h-5zM190 120h10v5h-10zM190 125h10v5h-10zM185 130h20v5h-20zM195 135h10v5h-10zM140 140h5v5h-5zM200 140h5v5h-5zM145 145h5v5h-5zM205 145h5v5h-5zM175 150h5v5h-5zM170 155h5v5h-5zM210 155h5v5h-5zM95 160h5v5h-5zM210 160h5v5h-5zM70 165h5v5h-5zM70 170h5v5h-5zM210 175h5v5h-5zM210 180h5v5h-5zM210 185h5v5h-5zM85 190h5v5h-5zM210 190h5v5h-5zM105 205h10v5h-10zM125 205h5v5h-5zM125 210h5v5h-5zM195 210h5v5h-5zM125 215h5v5h-5zM190 215h5v5h-5zM120 220h25v5h-25zM190 220h5v5h-5zM80 225h5v5h-5zM130 225h25v5h-25zM190 225h5v5h-5zM70 230h5v5h-5zM130 230h25v5h-25zM190 230h5v5h-5zM130 235h20v5h-20zM135 240h15v5h-15zM135 245h15v5h-15zM140 250h10v5h-10zM170 250h5v5h-5zM135 255h5v5h-5zM150 255h5v5h-5zM160 255h10v5h-10zM130 260h5v5h-5zM155 260h5v5h-5zM70 265h5v5h-5zM125 265h15v5h-15zM130 270h15v5h-15zM150 270h5v5h-5zM130 275h5v5h-5zM150 275h5v5h-5zM145 300h5v5h-5zM145 305h5v5h-5zM135 310h20v5h-20zM145 315h10v5h-10zM100 330h5v5h-5zM95 350h5v5h-5zM90 360h5v5h-5z"/><path fill="#212121" d="M110 85h5v5h-5zM105 90h5v5h-5zM120 90h5v5h-5zM105 100h5v5h-5zM110 105h5v5h-5zM120 105h5v5h-5zM95 110h5v5h-5zM105 110h5v5h-5zM125 110h5v5h-5zM190 110h5v5h-5zM185 115h15v5h-15zM185 120h5v5h-5zM200 120h10v5h-10zM185 125h5v5h-5zM200 125h10v5h-10zM205 130h5v5h-5zM190 135h5v5h-5zM205 135h5v5h-5zM90 150h5v5h-5zM210 150h5v5h-5zM95 155h5v5h-5zM160 155h5v5h-5zM215 155h5v5h-5zM215 160h5v5h-5zM210 165h5v5h-5zM210 170h5v5h-5zM200 195h5v5h-5zM200 210h5v5h-5zM195 215h10v5h-10zM195 220h5v5h-5zM195 225h5v5h-5zM180 240h5v5h-5zM175 245h5v5h-5zM175 250h5v5h-5zM170 255h10v5h-10zM135 260h5v5h-5zM160 260h20v5h-20zM155 265h15v5h-15zM145 270h5v5h-5zM60 280h5v5h-5zM155 280h5v5h-5zM155 285h5v5h-5zM155 290h5v5h-5zM60 295h5v5h-5zM150 295h5v5h-5zM150 300h5v5h-5zM150 305h5v5h-5zM70 310h5v5h-5zM135 315h10v5h-10zM135 320h20v5h-20zM120 325h5v5h-5zM105 330h10v5h-10zM100 335h5v5h-5zM100 340h5v5h-5zM100 345h5v5h-5zM100 350h5v5h-5zM70 355h5v5h-5zM95 355h5v5h-5zM95 360h5v5h-5zM90 365h5v5h-5z"/><path fill="#262626" d="M120 85h5v5h-5zM105 105h5v5h-5zM170 105h25v5h-25zM165 110h25v5h-25zM195 110h5v5h-5zM155 115h30v5h-30zM200 115h5v5h-5zM160 120h5v5h-5zM175 120h10v5h-10zM180 125h5v5h-5zM210 125h5v5h-5zM185 135h5v5h-5zM145 140h5v5h-5zM150 145h5v5h-5zM155 150h5v5h-5zM180 150h5v5h-5zM215 150h5v5h-5zM70 160h5v5h-5zM70 175h5v5h-5zM205 195h5v5h-5zM100 205h5v5h-5zM115 205h5v5h-5zM200 205h5v5h-5zM115 220h5v5h-5zM200 220h5v5h-5zM65 235h5v5h-5zM65 260h5v5h-5zM170 265h5v5h-5zM155 270h15v5h-15zM155 275h15v5h-15zM160 280h10v5h-10zM160 285h10v5h-10zM160 290h5v5h-5zM155 295h10v5h-10zM155 300h10v5h-10zM155 305h5v5h-5zM155 310h5v5h-5zM155 315h5v5h-5zM125 325h25v5h-25zM115 330h35v5h-35zM105 335h10v5h-10zM125 335h25v5h-25zM105 340h5v5h-5zM130 340h15v5h-15zM105 345h5v5h-5zM135 345h10v5h-10zM135 350h5v5h-5zM100 355h5v5h-5zM135 355h5v5h-5zM85 365h5v5h-5zM95 365h5v5h-5z"/><path fill="#2b2b2b" d="M60 100h5v5h-5zM125 105h5v5h-5zM165 105h5v5h-5zM160 110h5v5h-5zM205 115h5v5h-5zM155 120h5v5h-5zM165 120h10v5h-10zM210 120h5v5h-5zM175 125h5v5h-5zM180 130h5v5h-5zM210 130h5v5h-5zM140 135h5v5h-5zM205 140h5v5h-5zM60 145h5v5h-5zM195 145h5v5h-5zM210 145h5v5h-5zM220 155h5v5h-5zM215 165h5v5h-5zM215 175h5v5h-5zM215 180h5v5h-5zM215 185h5v5h-5zM210 195h5v5h-5zM200 200h10v5h-10zM205 205h5v5h-5zM205 210h5v5h-5zM120 215h5v5h-5zM95 225h5v5h-5zM200 225h5v5h-5zM195 230h5v5h-5zM185 240h5v5h-5zM180 245h5v5h-5zM180 250h5v5h-5zM140 255h5v5h-5zM180 255h5v5h-5zM150 265h5v5h-5zM170 270h5v5h-5zM170 275h5v5h-5zM170 280h5v5h-5zM170 285h5v5h-5zM165 290h5v5h-5zM160 305h5v5h-5zM155 320h5v5h-5zM150 325h5v5h-5zM115 335h10v5h-10zM110 340h20v5h-20zM145 340h5v5h-5zM110 345h5v5h-5zM125 345h10v5h-10zM105 350h5v5h-5zM130 350h5v5h-5zM140 350h5v5h-5zM105 355h5v5h-5zM140 355h5v5h-5zM100 360h5v5h-5zM140 360h5v5h-5zM100 365h5v5h-5z"/><path fill="#313131" d="M100 100h5v5h-5zM175 100h10v5h-10zM100 105h5v5h-5zM195 105h5v5h-5zM100 110h5v5h-5zM200 110h5v5h-5zM160 125h5v5h-5zM195 140h5v5h-5zM70 150h5v5h-5zM220 150h5v5h-5zM165 155h5v5h-5zM85 160h5v5h-5zM220 160h5v5h-5zM215 170h5v5h-5zM215 190h5v5h-5zM210 200h5v5h-5zM210 205h5v5h-5zM205 215h5v5h-5zM75 225h5v5h-5zM190 235h5v5h-5zM185 245h5v5h-5zM145 255h5v5h-5zM180 260h5v5h-5zM175 265h5v5h-5zM65 270h5v5h-5zM165 295h5v5h-5zM165 300h5v5h-5zM65 305h5v5h-5zM160 310h5v5h-5zM160 315h5v5h-5zM150 330h5v5h-5zM115 345h10v5h-10zM110 350h20v5h-20zM110 355h15v5h-15zM130 355h5v5h-5zM145 355h5v5h-5zM75 360h5v5h-5zM105 360h10v5h-10zM135 360h5v5h-5zM105 365h10v5h-10zM140 365h5v5h-5zM100 370h10v5h-10z"/><path fill="#363636" d="M100 95h5v5h-5zM80 100h5v5h-5zM185 100h5v5h-5zM155 110h5v5h-5zM130 120h5v5h-5zM190 150h5v5h-5zM90 160h5v5h-5zM220 165h5v5h-5zM75 185h5v5h-5zM215 195h5v5h-5zM90 200h5v5h-5zM215 200h5v5h-5zM210 210h5v5h-5zM105 225h5v5h-5zM190 245h5v5h-5zM185 250h10v5h-10zM185 255h5v5h-5zM150 260h5v5h-5zM140 265h5v5h-5zM165 305h5v5h-5zM165 310h5v5h-5zM60 315h5v5h-5zM150 335h5v5h-5zM145 345h5v5h-5zM60 350h5v5h-5zM125 355h5v5h-5zM115 360h5v5h-5zM145 360h5v5h-5zM95 370h5v5h-5zM140 370h5v5h-5zM135 385h5v5h-5z"/><path fill="#3c3c3c" d="M105 85h5v5h-5zM170 100h5v5h-5zM195 100h5v5h-5zM200 105h5v5h-5zM205 110h5v5h-5zM210 115h5v5h-5zM155 125h5v5h-5zM170 125h5v5h-5zM215 125h5v5h-5zM210 135h5v5h-5zM215 145h5v5h-5zM85 155h5v5h-5zM220 170h5v5h-5zM220 175h5v5h-5zM220 180h5v5h-5zM120 205h5v5h-5zM215 205h5v5h-5zM205 220h5v5h-5zM200 230h5v5h-5zM190 240h5v5h-5zM175 270h5v5h-5zM175 280h5v5h-5zM145 350h5v5h-5zM110 370h5v5h-5zM140 375h5v5h-5zM140 380h5v5h-5z"/><path fill="#414141" d="M205 90h5v5h-5zM200 95h15v5h-15zM190 100h5v5h-5zM200 100h15v5h-15zM160 105h5v5h-5zM205 105h10v5h-10zM210 110h10v5h-10zM215 115h5v5h-5zM215 120h5v5h-5zM70 155h5v5h-5zM90 155h5v5h-5zM225 175h5v5h-5zM220 185h5v5h-5zM80 190h5v5h-5zM85 195h5v5h-5zM60 245h5v5h-5zM60 250h5v5h-5zM190 255h5v5h-5zM140 260h5v5h-5zM185 260h5v5h-5zM145 265h5v5h-5zM180 265h5v5h-5zM60 275h5v5h-5zM175 275h5v5h-5zM170 290h5v5h-5zM60 300h5v5h-5zM65 310h5v5h-5zM165 315h5v5h-5zM160 320h5v5h-5zM155 325h5v5h-5zM135 365h5v5h-5zM145 365h5v5h-5zM105 375h5v5h-5zM135 380h5v5h-5z"/><path fill="#474747" d="M200 90h5v5h-5zM210 90h5v5h-5zM195 95h5v5h-5zM215 95h5v5h-5zM125 100h5v5h-5zM215 100h5v5h-5zM215 105h10v5h-10zM130 110h5v5h-5zM220 110h5v5h-5zM130 115h5v5h-5zM220 115h5v5h-5zM165 125h5v5h-5zM175 130h5v5h-5zM215 130h5v5h-5zM180 135h5v5h-5zM210 140h5v5h-5zM220 145h5v5h-5zM185 150h5v5h-5zM225 155h5v5h-5zM225 160h5v5h-5zM225 165h5v5h-5zM225 170h5v5h-5zM70 180h5v5h-5zM225 180h5v5h-5zM95 205h5v5h-5zM120 210h5v5h-5zM215 210h5v5h-5zM110 220h5v5h-5zM205 225h5v5h-5zM195 235h5v5h-5zM195 245h5v5h-5zM195 250h5v5h-5zM150 340h5v5h-5zM65 355h5v5h-5zM80 365h5v5h-5zM90 370h5v5h-5zM145 370h5v5h-5zM140 385h5v5h-5z"/><path fill="#4c4c4c" d="M100 90h5v5h-5zM215 90h5v5h-5zM220 95h5v5h-5zM220 100h5v5h-5zM90 105h5v5h-5zM225 105h5v5h-5zM225 110h5v5h-5zM225 115h10v5h-10zM220 120h15v5h-15zM220 125h10v5h-10zM220 130h5v5h-5zM215 135h10v5h-10zM215 140h10v5h-10zM225 150h5v5h-5zM225 185h5v5h-5zM220 190h5v5h-5zM210 215h5v5h-5zM100 225h5v5h-5zM200 235h5v5h-5zM195 240h10v5h-10zM195 255h5v5h-5zM190 260h5v5h-5zM185 265h5v5h-5zM180 270h5v5h-5zM175 285h5v5h-5zM170 295h5v5h-5zM150 355h5v5h-5zM120 360h5v5h-5zM150 360h5v5h-5zM115 365h5v5h-5zM135 370h5v5h-5zM110 375h5v5h-5zM135 375h5v5h-5z"/><path fill="#515151" d="M125 85h5v5h-5zM140 85h5v5h-5zM210 85h5v5h-5zM165 100h5v5h-5zM225 100h5v5h-5zM230 105h5v5h-5zM230 110h5v5h-5zM235 120h5v5h-5zM230 125h5v5h-5zM225 130h5v5h-5zM225 135h5v5h-5zM190 140h5v5h-5zM225 140h5v5h-5zM175 145h5v5h-5zM225 145h5v5h-5zM230 180h5v5h-5zM220 195h5v5h-5zM220 200h5v5h-5zM205 230h5v5h-5zM205 235h5v5h-5zM60 240h5v5h-5zM205 240h5v5h-5zM200 245h5v5h-5zM60 255h5v5h-5zM145 260h5v5h-5zM65 265h5v5h-5zM185 270h5v5h-5zM180 275h5v5h-5zM170 300h5v5h-5zM155 330h5v5h-5zM100 375h5v5h-5zM145 375h5v5h-5z"/><path fill="#575757" d="M205 85h5v5h-5zM215 85h5v5h-5zM145 90h5v5h-5zM220 90h5v5h-5zM125 95h5v5h-5zM225 95h5v5h-5zM230 100h5v5h-5zM235 125h5v5h-5zM230 130h5v5h-5zM230 135h5v5h-5zM185 140h5v5h-5zM230 140h5v5h-5zM180 145h5v5h-5zM65 150h5v5h-5zM230 175h5v5h-5zM210 220h5v5h-5zM65 230h5v5h-5zM195 260h5v5h-5zM190 265h5v5h-5zM170 305h5v5h-5zM150 350h5v5h-5zM130 385h5v5h-5z"/><path fill="#5c5c5c" d="M195 90h5v5h-5zM70 95h5v5h-5zM190 95h5v5h-5zM230 95h15v5h-15zM85 100h5v5h-5zM235 100h5v5h-5zM95 105h5v5h-5zM235 105h5v5h-5zM235 110h5v5h-5zM235 115h5v5h-5zM160 130h5v5h-5zM170 130h5v5h-5zM235 130h5v5h-5zM175 135h5v5h-5zM180 140h5v5h-5zM190 145h5v5h-5zM230 145h5v5h-5zM65 165h5v5h-5zM230 165h5v5h-5zM65 170h5v5h-5zM230 170h5v5h-5zM230 185h5v5h-5zM225 190h5v5h-5zM220 205h5v5h-5zM105 210h10v5h-10zM115 215h5v5h-5zM215 215h5v5h-5zM85 220h5v5h-5zM70 225h5v5h-5zM210 225h5v5h-5zM205 245h5v5h-5zM200 250h5v5h-5zM195 265h5v5h-5zM190 270h5v5h-5zM185 275h5v5h-5zM175 290h5v5h-5zM175 295h5v5h-5zM170 310h5v5h-5zM70 360h5v5h-5zM145 380h5v5h-5z"/><path fill="#626262" d="M250 85h5v5h-5zM125 90h5v5h-5zM245 90h5v5h-5zM65 95h5v5h-5zM75 95h5v5h-5zM175 95h10v5h-10zM95 100h5v5h-5zM150 100h5v5h-5zM240 100h5v5h-5zM150 105h5v5h-5zM235 135h5v5h-5zM235 140h5v5h-5zM185 145h5v5h-5zM65 160h5v5h-5zM65 175h5v5h-5zM70 185h5v5h-5zM75 190h5v5h-5zM85 200h5v5h-5zM90 205h5v5h-5zM100 210h5v5h-5zM115 210h5v5h-5zM80 220h5v5h-5zM90 220h5v5h-5zM105 220h5v5h-5zM210 230h5v5h-5zM60 235h5v5h-5zM210 235h5v5h-5zM210 240h5v5h-5zM60 260h5v5h-5zM60 270h5v5h-5zM195 270h5v5h-5zM180 280h5v5h-5zM60 305h5v5h-5zM60 310h5v5h-5zM165 320h5v5h-5zM155 335h5v5h-5zM150 345h5v5h-5zM60 355h5v5h-5zM75 365h5v5h-5zM85 370h5v5h-5zM95 375h5v5h-5z"/><path fill="#676767" d="M100 85h5v5h-5zM135 85h5v5h-5zM145 85h5v5h-5zM200 85h5v5h-5zM220 85h5v5h-5zM245 85h5v5h-5zM140 90h5v5h-5zM60 95h5v5h-5zM80 95h5v5h-5zM95 95h5v5h-5zM145 95h10v5h-10zM170 95h5v5h-5zM185 95h5v5h-5zM90 100h5v5h-5zM160 100h5v5h-5zM155 105h5v5h-5zM240 125h5v5h-5zM165 130h5v5h-5zM170 135h5v5h-5zM175 140h5v5h-5zM60 150h5v5h-5zM65 155h5v5h-5zM230 160h5v5h-5zM65 180h5v5h-5zM80 195h5v5h-5zM225 195h5v5h-5zM95 210h5v5h-5zM110 215h5v5h-5zM75 220h5v5h-5zM95 220h10v5h-10zM215 220h5v5h-5zM65 225h5v5h-5zM60 265h5v5h-5zM175 300h5v5h-5zM160 325h5v5h-5zM65 360h5v5h-5zM130 360h5v5h-5zM150 365h5v5h-5zM80 370h5v5h-5zM90 375h5v5h-5zM105 380h10v5h-10z"/><path fill="#6d6d6d" d="M60 85h40v5h-40zM130 85h5v5h-5zM150 85h50v5h-50zM280 85h10v5h-10zM60 90h40v5h-40zM150 90h45v5h-45zM225 90h5v5h-5zM240 90h5v5h-5zM285 90h5v5h-5zM85 95h10v5h-10zM155 95h15v5h-15zM285 95h5v5h-5zM155 100h5v5h-5zM240 105h5v5h-5zM285 110h5v5h-5zM285 115h5v5h-5zM280 120h10v5h-10zM135 125h5v5h-5zM280 125h10v5h-10zM240 130h5v5h-5zM285 130h5v5h-5zM240 135h5v5h-5zM235 145h5v5h-5zM230 150h5v5h-5zM60 155h5v5h-5zM60 160h5v5h-5zM60 165h5v5h-5zM60 170h5v5h-5zM60 175h5v5h-5zM60 180h5v5h-5zM60 185h10v5h-10zM60 190h15v5h-15zM230 190h5v5h-5zM60 195h20v5h-20zM60 200h25v5h-25zM60 205h30v5h-30zM60 210h35v5h-35zM220 210h5v5h-5zM60 215h50v5h-50zM60 220h15v5h-15zM285 220h5v5h-5zM60 225h5v5h-5zM285 225h5v5h-5zM60 230h5v5h-5zM285 230h5v5h-5zM285 235h5v5h-5zM285 240h5v5h-5zM285 245h5v5h-5zM205 250h5v5h-5zM285 250h5v5h-5zM280 255h10v5h-10zM275 260h15v5h-15zM270 265h20v5h-20zM250 270h40v5h-40zM245 275h45v5h-45zM240 280h50v5h-50zM225 285h65v5h-65zM225 290h65v5h-65zM225 295h65v5h-65zM225 300h65v5h-65zM230 305h60v5h-60zM230 310h60v5h-60zM230 315h60v5h-60zM235 320h55v5h-55zM235 325h55v5h-55zM235 330h55v5h-55zM235 335h55v5h-55zM235 340h55v5h-55zM230 345h60v5h-60zM230 350h60v5h-60zM220 355h70v5h-70zM60 360h5v5h-5zM125 360h5v5h-5zM210 360h80v5h-80zM60 365h15v5h-15zM195 365h95v5h-95zM60 370h20v5h-20zM190 370h100v5h-100zM60 375h30v5h-30zM190 375h100v5h-100zM60 380h45v5h-45zM185 380h105v5h-105zM60 385h55v5h-55zM185 385h105v5h-105z"/><path fill="#727272" d="M245 95h5v5h-5zM285 100h5v5h-5zM285 105h5v5h-5zM240 110h5v5h-5zM240 115h5v5h-5zM240 120h5v5h-5zM275 125h5v5h-5zM245 130h5v5h-5zM245 135h5v5h-5zM240 140h5v5h-5zM230 155h5v5h-5zM230 195h5v5h-5zM225 200h5v5h-5zM215 225h5v5h-5zM210 245h5v5h-5zM200 255h5v5h-5zM265 265h5v5h-5zM190 275h5v5h-5zM220 290h5v5h-5zM220 295h5v5h-5zM225 305h5v5h-5zM230 320h5v5h-5zM155 340h5v5h-5zM230 340h5v5h-5zM225 350h5v5h-5zM155 355h5v5h-5zM205 360h5v5h-5zM115 370h5v5h-5zM185 375h5v5h-5zM145 385h5v5h-5z"/><path fill="#777777" d="M275 85h5v5h-5zM130 90h10v5h-10zM230 90h10v5h-10zM280 90h5v5h-5zM130 105h5v5h-5zM250 130h5v5h-5zM165 135h5v5h-5zM250 135h5v5h-5zM245 140h5v5h-5zM155 145h5v5h-5zM240 145h5v5h-5zM170 150h5v5h-5zM235 180h5v5h-5zM220 215h5v5h-5zM285 215h5v5h-5zM280 250h5v5h-5zM200 260h5v5h-5zM200 265h5v5h-5zM200 270h5v5h-5zM235 280h5v5h-5zM220 285h5v5h-5zM170 315h5v5h-5zM160 330h5v5h-5zM155 350h5v5h-5zM155 360h5v5h-5zM120 365h5v5h-5zM190 365h5v5h-5zM185 370h5v5h-5zM115 385h5v5h-5z"/><path fill="#7d7d7d" d="M250 90h5v5h-5zM245 125h5v5h-5zM255 130h5v5h-5zM280 130h5v5h-5zM145 135h5v5h-5zM170 140h5v5h-5zM235 165h5v5h-5zM235 170h5v5h-5zM235 175h5v5h-5zM235 185h5v5h-5zM280 225h5v5h-5zM215 230h5v5h-5zM210 250h5v5h-5zM260 265h5v5h-5zM185 280h5v5h-5zM180 295h5v5h-5zM225 310h5v5h-5zM230 325h5v5h-5zM160 335h5v5h-5zM230 335h5v5h-5zM155 345h5v5h-5zM200 360h5v5h-5zM130 365h5v5h-5zM150 370h5v5h-5zM130 380h5v5h-5z"/><path fill="#828282" d="M225 85h5v5h-5zM240 85h5v5h-5zM130 95h5v5h-5zM150 115h5v5h-5zM255 135h5v5h-5zM250 140h5v5h-5zM235 190h5v5h-5zM230 200h5v5h-5zM225 205h5v5h-5zM220 220h5v5h-5zM205 255h5v5h-5zM195 275h5v5h-5zM180 285h5v5h-5zM180 290h5v5h-5zM180 300h5v5h-5zM220 300h5v5h-5zM175 305h5v5h-5zM230 330h5v5h-5zM160 340h5v5h-5zM215 355h5v5h-5zM125 365h5v5h-5zM120 370h5v5h-5zM115 375h5v5h-5zM125 385h5v5h-5z"/><path fill="#888888" d="M150 110h5v5h-5zM280 115h5v5h-5zM150 120h5v5h-5zM260 130h5v5h-5zM245 145h5v5h-5zM235 150h5v5h-5zM235 160h5v5h-5zM240 170h5v5h-5zM235 195h5v5h-5zM225 210h5v5h-5zM215 235h5v5h-5zM215 240h5v5h-5zM215 245h5v5h-5zM215 250h5v5h-5zM210 255h5v5h-5zM270 260h5v5h-5zM245 270h5v5h-5zM240 275h5v5h-5zM165 325h5v5h-5zM160 345h5v5h-5zM160 350h5v5h-5zM160 355h5v5h-5zM125 370h10v5h-10zM150 375h5v5h-5z"/><path fill="#8d8d8d" d="M230 85h10v5h-10zM245 100h5v5h-5zM285 135h5v5h-5zM150 140h5v5h-5zM240 165h5v5h-5zM240 175h5v5h-5zM230 205h5v5h-5zM225 215h5v5h-5zM280 220h5v5h-5zM220 225h5v5h-5zM215 255h5v5h-5zM275 255h5v5h-5zM200 275h5v5h-5zM230 280h5v5h-5zM165 330h5v5h-5zM165 335h5v5h-5zM225 345h5v5h-5zM165 355h5v5h-5zM185 365h5v5h-5zM120 375h5v5h-5zM130 375h5v5h-5zM115 380h5v5h-5zM120 385h5v5h-5zM180 385h5v5h-5z"/><path fill="#929292" d="M130 100h5v5h-5zM245 105h5v5h-5zM135 110h5v5h-5zM245 110h5v5h-5zM245 115h5v5h-5zM245 120h5v5h-5zM140 130h5v5h-5zM235 155h5v5h-5zM245 170h5v5h-5zM240 180h5v5h-5zM230 210h5v5h-5zM285 210h5v5h-5zM280 230h5v5h-5zM280 245h5v5h-5zM205 260h5v5h-5zM255 265h5v5h-5zM190 280h5v5h-5zM225 315h5v5h-5zM165 340h5v5h-5zM165 345h5v5h-5zM165 350h5v5h-5zM170 355h5v5h-5zM160 360h5v5h-5zM155 365h5v5h-5zM125 375h5v5h-5zM120 380h10v5h-10zM150 380h5v5h-5z"/><path fill="#989898" d="M135 95h10v5h-10zM145 100h5v5h-5zM145 105h5v5h-5zM255 140h5v5h-5zM250 145h5v5h-5zM240 150h5v5h-5zM240 160h5v5h-5zM245 165h5v5h-5zM240 185h5v5h-5zM240 190h5v5h-5zM285 195h5v5h-5zM235 200h5v5h-5zM220 230h5v5h-5zM220 240h5v5h-5zM220 245h5v5h-5zM220 250h5v5h-5zM205 275h5v5h-5zM195 280h5v5h-5zM225 280h5v5h-5zM215 285h5v5h-5zM215 290h5v5h-5zM170 350h5v5h-5z"/><path fill="#9d9d9d" d="M255 85h5v5h-5zM250 125h5v5h-5zM245 150h5v5h-5zM240 155h5v5h-5zM245 175h5v5h-5zM240 195h5v5h-5zM230 215h5v5h-5zM225 220h5v5h-5zM220 255h5v5h-5zM210 260h10v5h-10zM200 280h15v5h-15zM185 285h5v5h-5zM210 285h5v5h-5zM185 295h5v5h-5zM215 295h5v5h-5zM185 300h5v5h-5zM180 305h5v5h-5zM170 345h5v5h-5zM220 350h5v5h-5zM175 355h5v5h-5zM165 360h15v5h-15zM180 380h5v5h-5zM150 385h5v5h-5z"/><path fill="#a3a3a3" d="M135 105h5v5h-5zM275 120h5v5h-5zM155 130h5v5h-5zM260 135h5v5h-5zM160 150h5v5h-5zM235 205h5v5h-5zM220 235h5v5h-5zM225 245h5v5h-5zM225 250h5v5h-5zM220 260h5v5h-5zM205 265h5v5h-5zM220 280h5v5h-5zM190 285h20v5h-20zM185 290h5v5h-5zM210 290h5v5h-5zM175 310h5v5h-5zM170 335h5v5h-5zM170 340h5v5h-5zM175 350h5v5h-5zM180 360h5v5h-5zM180 365h5v5h-5zM155 370h5v5h-5zM180 375h5v5h-5z"/><path fill="#a8a8a8" d="M140 105h5v5h-5zM245 160h5v5h-5zM285 200h5v5h-5zM285 205h5v5h-5zM235 210h5v5h-5zM225 225h5v5h-5zM280 235h5v5h-5zM280 240h5v5h-5zM225 255h5v5h-5zM250 265h5v5h-5zM205 270h5v5h-5zM240 270h5v5h-5zM235 275h5v5h-5zM215 280h5v5h-5zM190 290h20v5h-20zM170 320h5v5h-5zM210 355h5v5h-5zM195 360h5v5h-5zM160 365h5v5h-5zM180 370h5v5h-5zM155 375h5v5h-5z"/><path fill="#aeaeae" d="M280 95h5v5h-5zM135 100h10v5h-10zM270 125h5v5h-5zM265 130h5v5h-5zM275 130h5v5h-5zM245 155h5v5h-5zM240 200h5v5h-5zM225 230h5v5h-5zM225 240h5v5h-5zM230 250h5v5h-5zM230 255h5v5h-5zM225 260h10v5h-10zM220 265h10v5h-10zM245 265h5v5h-5zM225 270h5v5h-5zM225 275h10v5h-10zM190 295h25v5h-25zM190 300h5v5h-5zM185 305h5v5h-5zM220 305h5v5h-5zM170 330h5v5h-5zM175 345h5v5h-5zM180 355h5v5h-5zM165 365h15v5h-15zM160 370h5v5h-5zM155 380h5v5h-5zM155 385h5v5h-5zM175 385h5v5h-5z"/><path fill="#b3b3b3" d="M250 95h5v5h-5zM165 140h5v5h-5zM245 180h5v5h-5zM245 190h5v5h-5zM245 195h5v5h-5zM225 235h5v5h-5zM235 255h5v5h-5zM235 260h5v5h-5zM230 265h15v5h-15zM230 270h10v5h-10zM195 300h5v5h-5zM165 370h15v5h-15zM160 375h20v5h-20zM160 380h20v5h-20zM160 385h15v5h-15z"/><path fill="#b8b8b8" d="M270 85h5v5h-5zM250 150h5v5h-5zM245 185h5v5h-5zM285 190h5v5h-5zM235 215h5v5h-5zM230 220h5v5h-5zM230 245h5v5h-5zM240 260h5v5h-5zM210 265h5v5h-5zM220 270h5v5h-5zM220 275h5v5h-5zM200 300h5v5h-5zM190 305h5v5h-5zM180 310h5v5h-5zM170 325h5v5h-5zM175 340h5v5h-5zM180 350h5v5h-5zM185 360h5v5h-5z"/><path fill="#bebebe" d="M250 110h5v5h-5zM250 115h5v5h-5zM250 120h5v5h-5zM255 145h5v5h-5zM250 170h5v5h-5zM240 205h5v5h-5zM230 225h5v5h-5zM265 260h5v5h-5zM215 265h5v5h-5zM210 275h5v5h-5zM185 310h5v5h-5zM175 315h5v5h-5zM225 320h5v5h-5zM175 335h5v5h-5z"/><path fill="#c3c3c3" d="M250 100h5v5h-5zM250 105h5v5h-5zM280 110h5v5h-5zM250 165h5v5h-5zM245 200h5v5h-5zM230 230h5v5h-5zM235 250h5v5h-5zM210 270h5v5h-5zM215 275h5v5h-5zM205 300h5v5h-5zM175 330h5v5h-5zM205 355h5v5h-5z"/><path fill="#c9c9c9" d="M140 110h5v5h-5zM255 125h5v5h-5zM260 140h5v5h-5zM250 155h5v5h-5zM250 160h5v5h-5zM250 175h5v5h-5zM235 220h5v5h-5zM230 235h5v5h-5zM230 240h5v5h-5zM215 270h5v5h-5zM215 300h5v5h-5zM195 305h5v5h-5zM225 340h5v5h-5zM180 345h5v5h-5zM185 355h5v5h-5zM190 360h5v5h-5z"/><path fill="#cecece" d="M270 130h5v5h-5zM160 135h5v5h-5zM170 145h5v5h-5zM245 205h5v5h-5zM240 210h5v5h-5zM235 225h5v5h-5zM235 230h5v5h-5zM275 250h5v5h-5zM210 300h5v5h-5zM190 310h5v5h-5zM220 310h5v5h-5zM180 315h5v5h-5zM175 325h5v5h-5z"/><path fill="#d4d4d4" d="M275 90h5v5h-5zM280 100h5v5h-5zM145 110h5v5h-5zM150 125h5v5h-5zM280 135h5v5h-5zM240 215h5v5h-5zM280 215h5v5h-5zM240 220h5v5h-5zM235 235h5v5h-5zM240 255h5v5h-5zM175 320h5v5h-5zM180 330h5v5h-5zM180 335h5v5h-5zM180 340h5v5h-5z"/><path fill="#d9d9d9" d="M280 105h5v5h-5zM265 135h5v5h-5zM165 150h5v5h-5zM255 150h5v5h-5zM240 225h5v5h-5zM275 225h5v5h-5zM240 230h5v5h-5zM235 240h5v5h-5zM235 245h5v5h-5zM200 305h5v5h-5zM185 315h5v5h-5zM180 325h5v5h-5zM200 355h5v5h-5z"/><path fill="#dedede" d="M255 90h5v5h-5zM135 115h5v5h-5zM250 180h5v5h-5zM250 190h5v5h-5zM250 195h5v5h-5zM245 210h5v5h-5zM240 235h5v5h-5zM270 255h5v5h-5zM245 260h5v5h-5zM215 305h5v5h-5zM195 310h5v5h-5zM180 320h5v5h-5zM225 325h5v5h-5zM185 350h5v5h-5zM215 350h5v5h-5z"/><path fill="#e4e4e4" d="M265 85h5v5h-5zM255 115h5v5h-5zM255 120h5v5h-5zM260 125h5v5h-5zM285 140h5v5h-5zM260 145h5v5h-5zM255 155h5v5h-5zM250 185h5v5h-5zM280 190h5v5h-5zM250 200h5v5h-5zM250 205h5v5h-5zM245 215h5v5h-5zM245 220h5v5h-5zM275 220h5v5h-5zM245 225h5v5h-5zM240 240h5v5h-5zM260 260h5v5h-5zM205 305h10v5h-10zM200 310h20v5h-20zM220 315h5v5h-5zM225 335h5v5h-5zM220 345h5v5h-5z"/><path fill="#e9e9e9" d="M260 85h5v5h-5zM255 95h5v5h-5zM255 105h5v5h-5zM255 110h5v5h-5zM135 120h5v5h-5zM265 125h5v5h-5zM255 160h5v5h-5zM250 210h5v5h-5zM245 230h5v5h-5zM240 245h5v5h-5zM240 250h5v5h-5zM190 315h30v5h-30zM185 320h5v5h-5zM185 325h5v5h-5zM185 330h5v5h-5zM225 330h5v5h-5zM185 335h5v5h-5zM185 340h5v5h-5zM185 345h5v5h-5zM190 355h5v5h-5z"/><path fill="#efefef" d="M255 100h5v5h-5zM275 115h5v5h-5zM265 140h5v5h-5zM260 150h5v5h-5zM255 175h5v5h-5zM255 180h5v5h-5zM280 210h5v5h-5zM250 215h5v5h-5zM250 220h5v5h-5zM275 230h5v5h-5zM245 235h5v5h-5zM245 240h5v5h-5zM245 245h5v5h-5zM275 245h5v5h-5zM245 250h5v5h-5zM245 255h5v5h-5zM250 260h10v5h-10zM205 320h5v5h-5zM195 355h5v5h-5z"/><path fill="#f4f4f4" d="M270 120h5v5h-5zM270 135h10v5h-10zM260 155h5v5h-5zM255 165h5v5h-5zM255 170h5v5h-5zM260 180h10v5h-10zM255 185h20v5h-20zM255 190h5v5h-5zM280 195h5v5h-5zM255 210h5v5h-5zM255 215h5v5h-5zM250 225h5v5h-5zM250 230h5v5h-5zM250 240h5v5h-5zM250 245h5v5h-5zM250 250h5v5h-5zM250 255h5v5h-5zM190 320h15v5h-15zM210 320h5v5h-5zM220 320h5v5h-5zM190 350h5v5h-5zM210 350h5v5h-5z"/><path fill="#fafafa" d="M260 90h5v5h-5zM270 90h5v5h-5zM260 95h5v5h-5zM275 95h5v5h-5zM260 100h5v5h-5zM260 105h5v5h-5zM260 110h5v5h-5zM275 110h5v5h-5zM260 115h5v5h-5zM260 120h10v5h-10zM145 130h5v5h-5zM150 135h5v5h-5zM270 140h5v5h-5zM280 140h5v5h-5zM265 145h5v5h-5zM285 145h5v5h-5zM265 150h5v5h-5zM265 155h5v5h-5zM260 160h5v5h-5zM260 175h10v5h-10zM270 180h5v5h-5zM275 185h15v5h-15zM260 190h20v5h-20zM255 195h5v5h-5zM255 200h5v5h-5zM280 200h5v5h-5zM255 205h5v5h-5zM280 205h5v5h-5zM260 210h5v5h-5zM260 215h5v5h-5zM275 215h5v5h-5zM255 220h10v5h-10zM270 220h5v5h-5zM255 225h5v5h-5zM270 225h5v5h-5zM250 235h10v5h-10zM275 235h5v5h-5zM255 240h5v5h-5zM275 240h5v5h-5zM255 245h5v5h-5zM255 250h5v5h-5zM270 250h5v5h-5zM255 255h15v5h-15zM215 320h5v5h-5zM190 325h20v5h-20zM220 325h5v5h-5zM190 330h5v5h-5zM190 335h5v5h-5zM190 340h5v5h-5zM220 340h5v5h-5zM190 345h5v5h-5zM215 345h5v5h-5zM195 350h15v5h-15z"/><path fill="#ffffff" d="M265 90h5v5h-5zM265 95h10v5h-10zM265 100h15v5h-15zM265 105h15v5h-15zM265 110h10v5h-10zM140 115h10v5h-10zM265 115h10v5h-10zM140 120h10v5h-10zM140 125h10v5h-10zM150 130h5v5h-5zM155 135h5v5h-5zM155 140h10v5h-10zM275 140h5v5h-5zM160 145h10v5h-10zM270 145h15v5h-15zM270 150h20v5h-20zM270 155h20v5h-20zM265 160h25v5h-25zM260 165h30v5h-30zM260 170h30v5h-30zM270 175h20v5h-20zM275 180h15v5h-15zM260 195h20v5h-20zM260 200h20v5h-20zM260 205h20v5h-20zM265 210h15v5h-15zM265 215h10v5h-10zM265 220h5v5h-5zM260 225h10v5h-10zM255 230h20v5h-20zM260 235h15v5h-15zM260 240h15v5h-15zM260 245h15v5h-15zM260 250h10v5h-10zM210 325h10v5h-10zM195 330h30v5h-30zM195 335h30v5h-30zM195 340h25v5h-25zM195 345h20v5h-20z"/></g></g>
<use href="#inl" fill="none" stroke="#1e1e1e" stroke-width="1.05" stroke-linejoin="round"/>
<use href="#ol" fill="none" stroke="#141414" stroke-width="1.2" stroke-linejoin="round"/>
<text x="260.25" y="394" font-size="45.5" text-anchor="middle">(d)</text>
</g>
<g transform="translate(973.00,0)">
<rect x="55" y="55" width="243" height="362" fill="#E6F0F7"/>
<path d="M55.0 413.0 L58.1 412.0 L63.2 408.9 L69.4 398.6 L74.5 388.3 L79.7 380.1 L83.8 370.9 L96.1 367.8 L106.4 365.7 L114.6 367.8 L122.8 372.9 L125.9 378.1 L129.0 382.2 L128.0 386.3 L124.9 392.5 L120.7 400.7 L114.6 408.9 L110.5 416.0 L55.0 416.0 Z" fill="#fff"/>
<path d="M297.0 291.5 L289.0 287.4 L283.5 284.7 L280.8 286.0 L275.3 291.5 L274.0 306.6 L268.5 314.8 L263.0 325.8 L253.4 336.8 L242.4 347.7 L237.2 349.3 L229.0 356.0 L225.5 360.0 L218.5 367.0 L213.5 374.0 L207.0 386.3 L205.3 398.6 L196.1 402.7 L181.7 408.9 L167.3 415.1 L160.0 416.0 L297.0 416.0 Z" fill="#fff"/>
<g clip-path="url(#clp)"><g filter="url(#fb)"><path fill="#161616" d="M60 105h20v5h-20zM60 110h30v5h-30zM60 115h40v5h-40zM60 120h45v5h-45zM60 125h50v5h-50zM60 130h50v5h-50zM60 135h45v5h-45zM60 140h40v5h-40zM75 145h25v5h-25zM80 150h15v5h-15z"/><path fill="#1b1b1b" d="M80 105h5v5h-5zM105 135h10v5h-10zM100 140h15v5h-15zM70 145h5v5h-5zM100 145h20v5h-20zM75 150h5v5h-5zM95 150h25v5h-25zM80 155h45v5h-45zM75 160h50v5h-50zM75 165h55v5h-55zM75 170h55v5h-55zM75 175h55v5h-55zM80 180h20v5h-20zM115 180h15v5h-15zM85 185h10v5h-10z"/><path fill="#212121" d="M70 100h5v5h-5zM90 110h5v5h-5zM100 115h5v5h-5zM105 120h5v5h-5zM110 130h5v5h-5zM115 140h5v5h-5zM120 145h5v5h-5zM120 150h5v5h-5zM75 155h5v5h-5zM125 160h5v5h-5zM130 170h5v5h-5zM130 175h5v5h-5zM75 180h5v5h-5zM100 180h15v5h-15zM80 185h5v5h-5zM95 185h30v5h-30zM90 190h35v5h-35zM95 195h30v5h-30zM100 200h20v5h-20zM75 230h25v5h-25zM70 235h35v5h-35zM70 240h40v5h-40zM70 245h45v5h-45zM70 250h45v5h-45zM70 255h50v5h-50zM70 260h50v5h-50zM75 265h45v5h-45zM95 270h15v5h-15z"/><path fill="#262626" d="M65 100h5v5h-5zM110 125h15v5h-15zM115 130h15v5h-15zM115 135h20v5h-20zM120 140h15v5h-15zM65 145h5v5h-5zM125 145h10v5h-10zM125 150h10v5h-10zM125 155h15v5h-15zM130 160h10v5h-10zM70 165h5v5h-5zM130 165h10v5h-10zM70 170h5v5h-5zM125 185h5v5h-5zM90 195h5v5h-5zM95 200h5v5h-5zM120 200h5v5h-5zM115 225h5v5h-5zM110 230h15v5h-15zM105 235h20v5h-20zM65 240h5v5h-5zM110 240h20v5h-20zM65 245h5v5h-5zM115 245h15v5h-15zM65 250h5v5h-5zM115 250h15v5h-15zM65 255h5v5h-5zM120 255h10v5h-10zM120 260h5v5h-5zM75 270h20v5h-20zM110 270h10v5h-10zM70 275h55v5h-55zM65 280h65v5h-65zM65 285h65v5h-65zM65 290h60v5h-60zM65 295h55v5h-55zM70 300h45v5h-45zM75 305h30v5h-30zM85 310h10v5h-10z"/><path fill="#2b2b2b" d="M75 100h5v5h-5zM85 105h5v5h-5zM125 125h5v5h-5zM130 130h5v5h-5zM135 140h5v5h-5zM135 150h5v5h-5zM140 160h5v5h-5zM140 165h5v5h-5zM135 170h5v5h-5zM85 190h5v5h-5zM125 190h5v5h-5zM105 205h10v5h-10zM85 225h5v5h-5zM110 225h5v5h-5zM120 225h5v5h-5zM100 230h10v5h-10zM125 230h5v5h-5zM125 235h5v5h-5zM130 240h5v5h-5zM130 245h5v5h-5zM130 250h5v5h-5zM130 255h5v5h-5zM120 265h5v5h-5zM70 270h5v5h-5zM120 270h5v5h-5zM65 275h5v5h-5zM125 275h5v5h-5zM125 290h5v5h-5zM120 295h5v5h-5zM65 300h5v5h-5zM115 300h5v5h-5zM70 305h5v5h-5zM105 305h5v5h-5zM80 310h5v5h-5zM95 310h5v5h-5z"/><path fill="#313131" d="M95 110h5v5h-5zM135 135h5v5h-5zM135 145h5v5h-5zM140 155h5v5h-5zM145 165h5v5h-5zM140 170h10v5h-10zM135 175h25v5h-25zM130 180h30v5h-30zM130 185h30v5h-30zM130 190h20v5h-20zM125 195h5v5h-5zM80 225h5v5h-5zM90 225h5v5h-5zM125 225h5v5h-5zM130 230h5v5h-5zM130 235h10v5h-10zM135 240h10v5h-10zM135 245h10v5h-10zM135 250h10v5h-10zM135 255h10v5h-10zM125 260h25v5h-25zM70 265h5v5h-5zM125 265h25v5h-25zM125 270h25v5h-25zM130 275h5v5h-5zM110 305h10v5h-10zM100 310h20v5h-20zM85 315h35v5h-35zM70 320h20v5h-20zM95 320h20v5h-20zM65 325h25v5h-25zM105 325h5v5h-5zM65 330h20v5h-20zM65 335h15v5h-15zM65 340h15v5h-15zM70 345h5v5h-5z"/><path fill="#363636" d="M115 120h10v5h-10zM70 160h5v5h-5zM145 160h5v5h-5zM150 165h5v5h-5zM150 170h15v5h-15zM70 175h5v5h-5zM160 175h10v5h-10zM160 180h10v5h-10zM160 185h5v5h-5zM150 190h15v5h-15zM130 195h20v5h-20zM100 205h5v5h-5zM115 205h5v5h-5zM120 220h5v5h-5zM70 230h5v5h-5zM135 230h5v5h-5zM140 235h10v5h-10zM145 240h5v5h-5zM145 245h5v5h-5zM145 250h5v5h-5zM145 255h5v5h-5zM150 260h5v5h-5zM150 265h5v5h-5zM135 275h15v5h-15zM130 280h20v5h-20zM60 285h5v5h-5zM130 285h20v5h-20zM60 290h5v5h-5zM130 290h15v5h-15zM125 295h15v5h-15zM120 300h20v5h-20zM120 305h20v5h-20zM75 310h5v5h-5zM120 310h15v5h-15zM70 315h15v5h-15zM120 315h15v5h-15zM65 320h5v5h-5zM90 320h5v5h-5zM115 320h5v5h-5zM60 325h5v5h-5zM90 325h15v5h-15zM110 325h5v5h-5zM60 330h5v5h-5zM85 330h5v5h-5zM60 335h5v5h-5zM80 335h10v5h-10zM60 340h5v5h-5zM80 340h5v5h-5zM65 345h5v5h-5zM75 345h5v5h-5zM70 350h10v5h-10z"/><path fill="#3c3c3c" d="M60 100h5v5h-5zM110 120h5v5h-5zM60 145h5v5h-5zM70 150h5v5h-5zM140 150h5v5h-5zM145 155h5v5h-5zM150 160h5v5h-5zM155 165h10v5h-10zM165 170h5v5h-5zM165 185h5v5h-5zM150 195h5v5h-5zM125 200h10v5h-10zM115 220h5v5h-5zM125 220h5v5h-5zM130 225h10v5h-10zM140 230h10v5h-10zM65 235h5v5h-5zM65 260h5v5h-5zM150 270h5v5h-5zM150 285h5v5h-5zM145 290h5v5h-5zM140 295h5v5h-5zM140 300h5v5h-5zM140 305h5v5h-5zM135 310h10v5h-10zM65 315h5v5h-5zM135 315h5v5h-5zM60 320h5v5h-5zM120 320h5v5h-5zM90 330h5v5h-5zM105 330h5v5h-5zM90 335h5v5h-5zM85 340h5v5h-5zM60 345h5v5h-5zM80 345h5v5h-5zM65 350h5v5h-5zM80 350h5v5h-5z"/><path fill="#414141" d="M110 90h10v5h-10zM105 95h15v5h-15zM105 100h15v5h-15zM105 105h20v5h-20zM105 110h20v5h-20zM105 115h20v5h-20zM155 160h10v5h-10zM165 165h5v5h-5zM170 170h5v5h-5zM155 195h5v5h-5zM135 200h5v5h-5zM125 215h15v5h-15zM130 220h20v5h-20zM95 225h5v5h-5zM140 225h15v5h-15zM150 230h5v5h-5zM150 235h5v5h-5zM60 280h5v5h-5zM150 280h5v5h-5zM150 290h5v5h-5zM60 295h5v5h-5zM145 295h5v5h-5zM145 305h5v5h-5zM70 310h5v5h-5zM145 310h5v5h-5zM140 315h10v5h-10zM125 320h10v5h-10zM115 325h5v5h-5zM95 330h10v5h-10zM95 335h5v5h-5zM90 340h5v5h-5zM85 345h10v5h-10zM85 350h5v5h-5zM75 355h10v5h-10z"/><path fill="#474747" d="M110 85h10v5h-10zM105 90h5v5h-5zM80 100h5v5h-5zM120 100h5v5h-5zM100 110h5v5h-5zM140 145h5v5h-5zM145 150h5v5h-5zM150 155h10v5h-10zM165 160h10v5h-10zM170 165h5v5h-5zM170 175h5v5h-5zM75 185h5v5h-5zM165 190h5v5h-5zM160 195h5v5h-5zM90 200h5v5h-5zM140 200h10v5h-10zM130 205h5v5h-5zM125 210h15v5h-15zM140 215h10v5h-10zM150 220h5v5h-5zM150 275h5v5h-5zM145 300h5v5h-5zM150 310h5v5h-5zM150 315h5v5h-5zM135 320h5v5h-5zM95 340h5v5h-5zM90 350h5v5h-5zM70 355h5v5h-5zM85 355h5v5h-5zM80 360h10v5h-10z"/><path fill="#4c4c4c" d="M120 95h5v5h-5zM100 100h5v5h-5zM100 105h5v5h-5zM135 130h5v5h-5zM140 140h5v5h-5zM145 145h5v5h-5zM150 150h5v5h-5zM170 180h5v5h-5zM150 200h5v5h-5zM125 205h5v5h-5zM135 205h20v5h-20zM140 210h15v5h-15zM150 215h5v5h-5zM75 225h5v5h-5zM105 225h5v5h-5zM155 225h5v5h-5zM150 240h5v5h-5zM150 255h5v5h-5zM65 270h5v5h-5zM150 295h5v5h-5zM65 305h5v5h-5zM150 305h5v5h-5zM140 320h10v5h-10zM110 330h5v5h-5zM100 335h5v5h-5zM95 345h5v5h-5zM90 355h5v5h-5z"/><path fill="#515151" d="M120 85h5v5h-5zM120 90h5v5h-5zM100 95h5v5h-5zM125 105h5v5h-5zM125 110h5v5h-5zM150 145h5v5h-5zM160 155h5v5h-5zM175 160h5v5h-5zM175 165h5v5h-5zM175 170h5v5h-5zM155 200h5v5h-5zM155 205h5v5h-5zM120 215h5v5h-5zM155 230h5v5h-5zM150 300h5v5h-5zM155 310h5v5h-5zM155 315h5v5h-5zM150 320h5v5h-5zM100 340h5v5h-5zM95 350h5v5h-5zM90 360h5v5h-5z"/><path fill="#575757" d="M125 100h5v5h-5zM155 150h5v5h-5zM70 155h5v5h-5zM170 185h5v5h-5zM80 190h5v5h-5zM85 195h5v5h-5zM165 195h5v5h-5zM120 205h5v5h-5zM155 210h5v5h-5zM155 215h5v5h-5zM155 220h5v5h-5zM150 245h5v5h-5zM155 290h5v5h-5zM155 295h5v5h-5zM155 300h5v5h-5zM155 305h5v5h-5zM60 315h5v5h-5zM155 320h5v5h-5zM135 325h20v5h-20zM140 330h5v5h-5zM60 350h5v5h-5zM85 365h5v5h-5z"/><path fill="#5c5c5c" d="M105 85h5v5h-5zM125 115h5v5h-5zM145 140h5v5h-5zM175 175h5v5h-5zM70 180h5v5h-5zM170 190h5v5h-5zM160 200h5v5h-5zM95 205h5v5h-5zM160 205h5v5h-5zM160 210h5v5h-5zM60 245h5v5h-5zM60 250h5v5h-5zM150 250h5v5h-5zM155 285h5v5h-5zM160 295h5v5h-5zM160 300h5v5h-5zM160 305h5v5h-5zM120 325h5v5h-5zM135 330h5v5h-5zM145 330h10v5h-10zM105 335h5v5h-5zM135 335h15v5h-15zM135 340h15v5h-15zM100 345h5v5h-5zM135 345h10v5h-10zM95 355h5v5h-5zM75 360h5v5h-5zM90 365h5v5h-5z"/><path fill="#626262" d="M125 95h5v5h-5zM165 155h15v5h-15zM180 160h5v5h-5zM180 165h5v5h-5zM180 170h5v5h-5zM175 180h5v5h-5zM175 185h5v5h-5zM165 200h5v5h-5zM165 205h5v5h-5zM165 210h5v5h-5zM160 215h10v5h-10zM110 220h5v5h-5zM160 220h10v5h-10zM160 225h5v5h-5zM155 235h5v5h-5zM155 240h5v5h-5zM60 275h5v5h-5zM160 290h5v5h-5zM60 300h5v5h-5zM65 310h5v5h-5zM160 310h5v5h-5zM160 315h5v5h-5zM130 325h5v5h-5zM150 335h5v5h-5zM105 340h5v5h-5zM100 350h5v5h-5zM95 360h5v5h-5z"/><path fill="#676767" d="M125 85h5v5h-5zM125 90h5v5h-5zM90 105h5v5h-5zM175 110h15v5h-15zM165 115h25v5h-25zM125 120h5v5h-5zM165 120h30v5h-30zM165 125h30v5h-30zM170 130h25v5h-25zM170 135h30v5h-30zM180 155h5v5h-5zM180 175h5v5h-5zM180 180h5v5h-5zM180 185h5v5h-5zM175 190h10v5h-10zM170 195h5v5h-5zM120 210h5v5h-5zM170 210h5v5h-5zM170 215h5v5h-5zM165 225h5v5h-5zM160 230h5v5h-5zM160 235h10v5h-10zM160 240h15v5h-15zM155 245h15v5h-15zM155 250h5v5h-5zM155 325h5v5h-5zM115 330h5v5h-5zM130 330h5v5h-5zM130 335h5v5h-5zM130 340h5v5h-5zM105 345h5v5h-5zM130 345h5v5h-5zM145 345h5v5h-5zM135 350h5v5h-5zM65 355h5v5h-5z"/><path fill="#6d6d6d" d="M100 90h5v5h-5zM130 100h5v5h-5zM130 105h5v5h-5zM185 105h5v5h-5zM170 110h5v5h-5zM190 110h5v5h-5zM190 115h5v5h-5zM195 120h5v5h-5zM130 125h5v5h-5zM195 125h5v5h-5zM165 130h5v5h-5zM195 130h5v5h-5zM200 135h5v5h-5zM175 140h25v5h-25zM185 160h5v5h-5zM185 165h5v5h-5zM185 185h5v5h-5zM185 190h5v5h-5zM170 220h5v5h-5zM100 225h5v5h-5zM165 230h5v5h-5zM170 235h5v5h-5zM60 240h5v5h-5zM170 245h5v5h-5zM160 250h5v5h-5zM60 255h5v5h-5zM155 255h5v5h-5zM155 260h5v5h-5zM65 265h5v5h-5zM155 265h5v5h-5zM155 280h5v5h-5zM165 305h5v5h-5zM165 310h5v5h-5zM160 320h5v5h-5zM125 325h5v5h-5zM110 335h5v5h-5zM150 340h5v5h-5zM140 350h5v5h-5zM100 355h5v5h-5zM80 365h5v5h-5zM95 365h5v5h-5z"/><path fill="#727272" d="M130 95h5v5h-5zM180 105h5v5h-5zM130 110h5v5h-5zM165 110h5v5h-5zM195 115h5v5h-5zM200 120h5v5h-5zM200 125h5v5h-5zM200 130h10v5h-10zM180 145h10v5h-10zM175 150h15v5h-15zM185 155h5v5h-5zM185 170h5v5h-5zM185 180h5v5h-5zM175 195h5v5h-5zM170 205h5v5h-5zM175 220h5v5h-5zM170 225h15v5h-15zM65 230h5v5h-5zM170 230h15v5h-15zM175 235h10v5h-10zM175 240h5v5h-5zM165 250h5v5h-5zM160 285h5v5h-5zM165 295h5v5h-5zM165 300h5v5h-5zM165 315h5v5h-5zM120 330h10v5h-10zM155 330h5v5h-5zM115 335h15v5h-15zM110 340h5v5h-5zM120 340h10v5h-10zM125 345h5v5h-5zM105 350h5v5h-5zM130 350h5v5h-5zM140 355h5v5h-5zM100 360h5v5h-5z"/><path fill="#777777" d="M130 85h5v5h-5zM130 90h5v5h-5zM85 100h5v5h-5zM135 100h5v5h-5zM95 105h5v5h-5zM190 105h5v5h-5zM195 110h5v5h-5zM160 115h5v5h-5zM200 115h5v5h-5zM205 125h5v5h-5zM140 135h5v5h-5zM205 135h5v5h-5zM170 140h5v5h-5zM200 140h5v5h-5zM175 145h5v5h-5zM190 145h5v5h-5zM65 150h5v5h-5zM160 150h5v5h-5zM190 150h5v5h-5zM190 160h5v5h-5zM190 165h5v5h-5zM185 175h5v5h-5zM190 190h5v5h-5zM180 195h5v5h-5zM170 200h5v5h-5zM180 220h5v5h-5zM70 225h5v5h-5zM185 230h5v5h-5zM160 255h5v5h-5zM155 270h5v5h-5zM155 275h5v5h-5zM165 290h5v5h-5zM115 340h5v5h-5zM110 345h5v5h-5zM145 350h5v5h-5zM145 355h5v5h-5zM140 360h15v5h-15zM90 370h5v5h-5z"/><path fill="#7d7d7d" d="M135 85h10v5h-10zM135 90h15v5h-15zM70 95h5v5h-5zM135 95h15v5h-15zM140 100h10v5h-10zM135 105h15v5h-15zM175 105h5v5h-5zM160 120h5v5h-5zM205 120h5v5h-5zM210 125h5v5h-5zM165 135h5v5h-5zM150 140h5v5h-5zM155 145h5v5h-5zM195 145h5v5h-5zM170 150h5v5h-5zM195 150h5v5h-5zM190 155h10v5h-10zM195 160h5v5h-5zM65 165h5v5h-5zM195 165h5v5h-5zM65 170h5v5h-5zM190 170h10v5h-10zM190 175h5v5h-5zM190 180h5v5h-5zM190 185h5v5h-5zM105 210h10v5h-10zM175 215h5v5h-5zM85 220h5v5h-5zM185 225h5v5h-5zM185 235h5v5h-5zM160 275h5v5h-5zM160 280h5v5h-5zM165 285h5v5h-5zM160 325h5v5h-5zM155 335h5v5h-5zM120 345h5v5h-5zM150 345h5v5h-5zM150 350h5v5h-5zM105 355h5v5h-5zM135 355h5v5h-5zM150 355h5v5h-5zM145 365h10v5h-10z"/><path fill="#828282" d="M145 85h5v5h-5zM65 95h5v5h-5zM75 95h5v5h-5zM150 95h5v5h-5zM95 100h5v5h-5zM150 100h5v5h-5zM150 105h5v5h-5zM135 110h5v5h-5zM150 110h5v5h-5zM160 110h5v5h-5zM210 130h5v5h-5zM200 145h5v5h-5zM200 150h5v5h-5zM200 155h5v5h-5zM200 160h5v5h-5zM200 165h5v5h-5zM200 170h5v5h-5zM195 175h5v5h-5zM195 180h5v5h-5zM195 185h5v5h-5zM185 195h10v5h-10zM175 210h5v5h-5zM115 215h5v5h-5zM80 220h5v5h-5zM90 220h5v5h-5zM170 250h5v5h-5zM165 255h5v5h-5zM160 265h5v5h-5zM160 270h10v5h-10zM165 275h5v5h-5zM165 280h5v5h-5zM115 345h5v5h-5zM110 350h5v5h-5zM125 350h5v5h-5zM155 355h5v5h-5zM70 360h5v5h-5zM155 360h5v5h-5zM100 365h5v5h-5zM140 365h5v5h-5zM155 365h5v5h-5zM95 370h5v5h-5zM140 370h10v5h-10zM140 375h10v5h-10zM135 380h10v5h-10zM135 385h10v5h-10z"/><path fill="#888888" d="M150 90h5v5h-5zM185 100h10v5h-10zM155 105h5v5h-5zM170 105h5v5h-5zM195 105h5v5h-5zM140 110h10v5h-10zM200 110h5v5h-5zM205 115h5v5h-5zM210 120h5v5h-5zM170 145h5v5h-5zM165 150h5v5h-5zM65 160h5v5h-5zM65 175h5v5h-5zM200 175h5v5h-5zM70 185h5v5h-5zM75 190h5v5h-5zM195 190h5v5h-5zM85 200h5v5h-5zM175 200h5v5h-5zM90 205h5v5h-5zM175 205h5v5h-5zM100 210h5v5h-5zM115 210h5v5h-5zM180 215h5v5h-5zM105 220h5v5h-5zM185 220h5v5h-5zM60 235h5v5h-5zM180 240h5v5h-5zM175 245h5v5h-5zM60 260h5v5h-5zM160 260h5v5h-5zM165 265h5v5h-5zM60 270h5v5h-5zM170 280h5v5h-5zM60 305h5v5h-5zM60 310h5v5h-5zM165 320h5v5h-5zM160 330h5v5h-5zM155 340h5v5h-5zM115 350h10v5h-10zM155 350h5v5h-5zM60 355h5v5h-5zM110 355h5v5h-5zM105 360h5v5h-5zM160 360h5v5h-5zM75 365h5v5h-5zM160 365h5v5h-5zM85 370h5v5h-5zM150 370h10v5h-10zM135 375h5v5h-5zM150 375h5v5h-5zM145 380h10v5h-10zM145 385h10v5h-10z"/><path fill="#8d8d8d" d="M100 85h5v5h-5zM150 85h5v5h-5zM60 95h5v5h-5zM80 95h5v5h-5zM95 95h5v5h-5zM90 100h5v5h-5zM155 100h5v5h-5zM180 100h5v5h-5zM165 105h5v5h-5zM155 110h5v5h-5zM160 125h5v5h-5zM60 150h5v5h-5zM205 150h5v5h-5zM65 155h5v5h-5zM205 155h5v5h-5zM205 160h5v5h-5zM205 165h5v5h-5zM65 180h5v5h-5zM200 180h5v5h-5zM80 195h5v5h-5zM180 200h15v5h-15zM180 205h10v5h-10zM95 210h5v5h-5zM180 210h10v5h-10zM110 215h5v5h-5zM75 220h5v5h-5zM95 220h5v5h-5zM170 255h5v5h-5zM165 260h10v5h-10zM170 275h5v5h-5zM170 285h5v5h-5zM160 335h5v5h-5zM155 345h5v5h-5zM160 350h5v5h-5zM115 355h5v5h-5zM160 355h5v5h-5zM135 360h5v5h-5zM165 360h5v5h-5zM135 365h5v5h-5zM165 365h5v5h-5zM135 370h5v5h-5zM160 370h20v5h-20zM155 375h25v5h-25zM155 380h25v5h-25zM130 385h5v5h-5zM155 385h25v5h-25z"/><path fill="#929292" d="M60 85h40v5h-40zM155 85h50v5h-50zM285 85h5v5h-5zM60 90h40v5h-40zM155 90h45v5h-45zM85 95h10v5h-10zM155 95h40v5h-40zM160 100h20v5h-20zM195 100h5v5h-5zM160 105h5v5h-5zM200 105h5v5h-5zM205 110h5v5h-5zM130 115h5v5h-5zM210 115h5v5h-5zM285 125h5v5h-5zM140 130h5v5h-5zM285 130h5v5h-5zM145 135h5v5h-5zM205 140h5v5h-5zM205 145h5v5h-5zM60 155h5v5h-5zM60 160h5v5h-5zM60 165h5v5h-5zM60 170h5v5h-5zM205 170h5v5h-5zM60 175h5v5h-5zM60 180h5v5h-5zM60 185h10v5h-10zM200 185h5v5h-5zM60 190h15v5h-15zM60 195h20v5h-20zM195 195h5v5h-5zM60 200h25v5h-25zM60 205h30v5h-30zM190 205h5v5h-5zM60 210h35v5h-35zM285 210h5v5h-5zM60 215h50v5h-50zM185 215h5v5h-5zM285 215h5v5h-5zM60 220h15v5h-15zM100 220h5v5h-5zM285 220h5v5h-5zM60 225h10v5h-10zM285 225h5v5h-5zM60 230h5v5h-5zM190 230h5v5h-5zM285 230h5v5h-5zM285 235h5v5h-5zM285 240h5v5h-5zM285 245h5v5h-5zM175 250h5v5h-5zM285 250h5v5h-5zM175 255h5v5h-5zM280 255h10v5h-10zM175 260h5v5h-5zM275 260h15v5h-15zM60 265h5v5h-5zM170 265h5v5h-5zM270 265h20v5h-20zM170 270h5v5h-5zM245 270h45v5h-45zM240 275h50v5h-50zM235 280h55v5h-55zM225 285h65v5h-65zM220 290h70v5h-70zM220 295h70v5h-70zM220 300h70v5h-70zM220 305h70v5h-70zM170 310h5v5h-5zM225 310h65v5h-65zM230 315h60v5h-60zM235 320h55v5h-55zM235 325h55v5h-55zM235 330h55v5h-55zM235 335h55v5h-55zM235 340h55v5h-55zM230 345h60v5h-60zM230 350h60v5h-60zM120 355h15v5h-15zM225 355h65v5h-65zM60 360h10v5h-10zM110 360h10v5h-10zM210 360h80v5h-80zM60 365h15v5h-15zM105 365h5v5h-5zM170 365h5v5h-5zM200 365h90v5h-90zM60 370h25v5h-25zM100 370h5v5h-5zM190 370h100v5h-100zM60 375h40v5h-40zM130 375h5v5h-5zM180 375h110v5h-110zM60 380h40v5h-40zM130 380h5v5h-5zM180 380h110v5h-110zM60 385h45v5h-45zM180 385h110v5h-110z"/><path fill="#989898" d="M205 85h5v5h-5zM200 90h5v5h-5zM195 95h10v5h-10zM200 100h10v5h-10zM205 105h5v5h-5zM210 110h5v5h-5zM150 115h10v5h-10zM150 120h10v5h-10zM215 120h5v5h-5zM285 120h5v5h-5zM215 125h5v5h-5zM145 130h5v5h-5zM280 130h5v5h-5zM205 175h5v5h-5zM200 190h5v5h-5zM285 195h5v5h-5zM195 200h5v5h-5zM285 200h5v5h-5zM285 205h5v5h-5zM190 210h5v5h-5zM280 220h5v5h-5zM280 225h5v5h-5zM280 250h5v5h-5zM240 270h5v5h-5zM235 275h5v5h-5zM230 280h5v5h-5zM230 320h5v5h-5zM165 325h5v5h-5zM165 330h5v5h-5zM160 340h5v5h-5zM230 340h5v5h-5zM160 345h5v5h-5zM225 350h5v5h-5zM165 355h5v5h-5zM220 355h5v5h-5zM120 360h15v5h-15zM205 360h5v5h-5zM110 365h25v5h-25zM195 365h5v5h-5zM105 370h30v5h-30zM180 370h10v5h-10zM100 375h30v5h-30zM100 380h30v5h-30zM105 385h25v5h-25z"/><path fill="#9d9d9d" d="M205 90h5v5h-5zM205 95h10v5h-10zM210 100h5v5h-5zM210 105h10v5h-10zM215 110h5v5h-5zM215 115h5v5h-5zM145 125h10v5h-10zM280 125h5v5h-5zM210 135h5v5h-5zM165 140h5v5h-5zM165 145h5v5h-5zM210 150h5v5h-5zM210 155h5v5h-5zM210 160h5v5h-5zM210 165h5v5h-5zM205 180h5v5h-5zM205 185h5v5h-5zM190 225h5v5h-5zM280 230h5v5h-5zM265 265h5v5h-5zM220 285h5v5h-5zM215 290h5v5h-5zM170 315h5v5h-5zM165 335h5v5h-5zM170 360h5v5h-5z"/><path fill="#a3a3a3" d="M210 90h5v5h-5zM285 90h5v5h-5zM215 95h5v5h-5zM215 100h10v5h-10zM220 105h5v5h-5zM220 110h10v5h-10zM220 115h10v5h-10zM220 120h10v5h-10zM155 125h5v5h-5zM150 130h5v5h-5zM160 145h5v5h-5zM210 145h5v5h-5zM215 150h5v5h-5zM215 155h5v5h-5zM215 160h5v5h-5zM210 170h5v5h-5zM210 175h5v5h-5zM210 180h5v5h-5zM210 185h5v5h-5zM205 190h5v5h-5zM195 205h5v5h-5zM190 215h5v5h-5zM280 235h5v5h-5zM280 245h5v5h-5zM215 295h5v5h-5zM215 300h5v5h-5zM170 305h5v5h-5zM230 325h5v5h-5zM230 335h5v5h-5zM200 360h5v5h-5zM190 365h5v5h-5z"/><path fill="#a8a8a8" d="M210 85h5v5h-5zM220 95h5v5h-5zM225 100h5v5h-5zM225 105h5v5h-5zM230 110h5v5h-5zM135 115h5v5h-5zM145 115h5v5h-5zM230 115h5v5h-5zM145 120h5v5h-5zM230 120h10v5h-10zM140 125h5v5h-5zM220 125h15v5h-15zM160 130h5v5h-5zM215 130h5v5h-5zM275 130h5v5h-5zM150 135h5v5h-5zM285 135h5v5h-5zM155 140h5v5h-5zM215 145h5v5h-5zM220 150h5v5h-5zM220 155h5v5h-5zM210 190h5v5h-5zM200 195h5v5h-5zM280 215h5v5h-5zM190 220h5v5h-5zM280 240h5v5h-5zM180 255h5v5h-5zM275 255h5v5h-5zM175 265h5v5h-5zM175 280h5v5h-5zM170 290h5v5h-5zM225 315h5v5h-5zM230 330h5v5h-5zM165 350h5v5h-5zM215 355h5v5h-5zM175 365h5v5h-5z"/><path fill="#aeaeae" d="M215 90h5v5h-5zM225 95h5v5h-5zM230 100h5v5h-5zM230 105h5v5h-5zM140 115h5v5h-5zM285 115h5v5h-5zM135 125h5v5h-5zM235 125h5v5h-5zM220 130h5v5h-5zM210 140h5v5h-5zM220 145h5v5h-5zM225 150h5v5h-5zM215 165h5v5h-5zM205 195h5v5h-5zM195 210h5v5h-5zM185 240h5v5h-5zM180 245h5v5h-5zM180 250h5v5h-5zM180 260h5v5h-5zM270 260h5v5h-5zM175 285h5v5h-5zM215 305h5v5h-5z"/><path fill="#b3b3b3" d="M215 85h35v5h-35zM280 85h5v5h-5zM220 90h25v5h-25zM230 95h10v5h-10zM235 115h5v5h-5zM130 120h5v5h-5zM225 130h5v5h-5zM160 135h5v5h-5zM215 135h10v5h-10zM160 140h5v5h-5zM215 140h15v5h-15zM225 145h5v5h-5zM230 150h5v5h-5zM225 155h5v5h-5zM220 160h5v5h-5zM210 195h5v5h-5zM200 200h5v5h-5zM200 205h5v5h-5zM200 210h5v5h-5zM195 215h10v5h-10zM195 220h10v5h-10zM195 225h5v5h-5zM260 265h5v5h-5zM235 270h5v5h-5zM230 275h5v5h-5zM225 280h5v5h-5zM170 300h5v5h-5zM220 310h5v5h-5zM225 345h5v5h-5z"/><path fill="#b8b8b8" d="M245 90h5v5h-5zM240 95h5v5h-5zM235 100h5v5h-5zM235 105h5v5h-5zM235 110h5v5h-5zM135 120h10v5h-10zM240 125h5v5h-5zM155 130h5v5h-5zM230 130h5v5h-5zM225 135h10v5h-10zM230 140h5v5h-5zM230 145h5v5h-5zM230 155h5v5h-5zM215 170h5v5h-5zM215 190h5v5h-5zM215 195h5v5h-5zM205 200h15v5h-15zM205 205h10v5h-10zM205 210h5v5h-5zM205 215h5v5h-5zM200 225h5v5h-5zM190 235h5v5h-5zM240 265h10v5h-10zM175 275h5v5h-5zM215 285h5v5h-5zM170 295h5v5h-5zM165 340h5v5h-5zM170 355h5v5h-5z"/><path fill="#bebebe" d="M250 85h5v5h-5zM240 100h5v5h-5zM240 120h5v5h-5zM235 130h10v5h-10zM155 135h5v5h-5zM235 135h5v5h-5zM225 160h5v5h-5zM220 165h5v5h-5zM215 175h5v5h-5zM215 180h5v5h-5zM215 185h5v5h-5zM215 205h5v5h-5zM210 210h5v5h-5zM205 220h5v5h-5zM185 245h5v5h-5zM185 250h5v5h-5zM175 270h5v5h-5zM170 330h5v5h-5zM165 345h5v5h-5zM220 350h5v5h-5zM185 365h5v5h-5z"/><path fill="#c3c3c3" d="M285 95h5v5h-5zM240 115h5v5h-5zM245 125h5v5h-5zM240 135h5v5h-5zM235 140h5v5h-5zM235 145h5v5h-5zM235 150h5v5h-5zM235 155h5v5h-5zM230 160h5v5h-5zM225 165h5v5h-5zM220 195h5v5h-5zM220 200h5v5h-5zM215 210h5v5h-5zM210 215h5v5h-5zM205 225h5v5h-5zM195 230h5v5h-5zM185 255h5v5h-5zM180 265h5v5h-5zM170 335h5v5h-5z"/><path fill="#c9c9c9" d="M245 95h5v5h-5zM240 105h5v5h-5zM240 110h5v5h-5zM275 125h5v5h-5zM245 130h5v5h-5zM270 130h5v5h-5zM235 160h5v5h-5zM230 165h5v5h-5zM220 170h5v5h-5zM220 205h5v5h-5zM280 210h5v5h-5zM210 220h5v5h-5zM190 250h5v5h-5zM250 265h10v5h-10zM175 290h5v5h-5zM170 320h5v5h-5zM210 355h5v5h-5zM175 360h5v5h-5zM195 360h5v5h-5zM180 365h5v5h-5z"/><path fill="#cecece" d="M285 110h5v5h-5zM245 115h5v5h-5zM245 120h5v5h-5zM280 120h5v5h-5zM245 135h5v5h-5zM240 140h5v5h-5zM240 155h5v5h-5zM235 165h5v5h-5zM225 170h10v5h-10zM220 175h5v5h-5zM220 190h5v5h-5zM220 210h5v5h-5zM215 215h5v5h-5zM210 225h5v5h-5zM190 245h5v5h-5zM190 255h5v5h-5zM180 280h5v5h-5zM175 295h5v5h-5z"/><path fill="#d4d4d4" d="M245 100h5v5h-5zM245 105h5v5h-5zM245 110h5v5h-5zM250 130h5v5h-5zM240 145h5v5h-5zM240 150h5v5h-5zM240 160h5v5h-5zM225 175h5v5h-5zM220 180h5v5h-5zM220 185h5v5h-5zM285 190h5v5h-5zM225 195h5v5h-5zM225 200h5v5h-5zM225 205h5v5h-5zM220 215h5v5h-5zM215 220h5v5h-5zM275 220h5v5h-5zM200 230h5v5h-5zM275 250h5v5h-5zM185 260h5v5h-5zM180 270h5v5h-5zM180 275h5v5h-5zM180 285h5v5h-5zM210 285h5v5h-5zM175 300h5v5h-5zM225 320h5v5h-5zM170 325h5v5h-5zM170 350h5v5h-5z"/><path fill="#d9d9d9" d="M250 90h5v5h-5zM285 100h5v5h-5zM285 105h5v5h-5zM250 125h5v5h-5zM255 130h5v5h-5zM250 135h5v5h-5zM280 135h5v5h-5zM245 140h5v5h-5zM245 145h5v5h-5zM235 170h5v5h-5zM230 175h5v5h-5zM225 180h5v5h-5zM225 185h5v5h-5zM225 190h5v5h-5zM230 195h5v5h-5zM280 195h5v5h-5zM230 200h5v5h-5zM230 205h5v5h-5zM280 205h5v5h-5zM225 210h10v5h-10zM225 215h5v5h-5zM215 225h5v5h-5zM205 230h10v5h-10zM190 240h5v5h-5zM195 250h5v5h-5zM185 275h5v5h-5zM185 280h10v5h-10zM180 290h5v5h-5zM180 295h5v5h-5zM175 305h5v5h-5zM175 310h5v5h-5zM170 340h5v5h-5zM205 355h5v5h-5z"/><path fill="#dedede" d="M250 120h5v5h-5zM255 135h5v5h-5zM250 140h5v5h-5zM245 150h5v5h-5zM240 165h5v5h-5zM230 180h5v5h-5zM230 185h5v5h-5zM230 190h5v5h-5zM235 200h5v5h-5zM280 200h5v5h-5zM235 205h5v5h-5zM230 215h5v5h-5zM220 220h5v5h-5zM275 225h5v5h-5zM215 230h5v5h-5zM195 255h5v5h-5zM190 260h5v5h-5zM185 265h5v5h-5zM185 270h5v5h-5zM190 275h5v5h-5zM195 280h5v5h-5zM185 285h5v5h-5zM210 290h5v5h-5zM180 300h5v5h-5zM225 340h5v5h-5zM170 345h5v5h-5zM175 355h5v5h-5z"/><path fill="#e4e4e4" d="M250 95h5v5h-5zM250 110h5v5h-5zM250 115h5v5h-5zM260 130h10v5h-10zM250 145h5v5h-5zM245 155h5v5h-5zM245 160h5v5h-5zM245 165h5v5h-5zM240 170h5v5h-5zM235 175h5v5h-5zM235 195h5v5h-5zM235 210h5v5h-5zM220 225h5v5h-5zM265 260h5v5h-5zM190 270h5v5h-5zM195 275h5v5h-5zM220 280h5v5h-5zM185 290h5v5h-5zM185 295h5v5h-5zM210 295h5v5h-5zM175 315h5v5h-5zM175 350h5v5h-5zM180 360h5v5h-5zM190 360h5v5h-5z"/><path fill="#e9e9e9" d="M255 85h5v5h-5zM275 85h5v5h-5zM280 90h5v5h-5zM250 100h5v5h-5zM250 105h5v5h-5zM255 125h5v5h-5zM260 135h5v5h-5zM255 140h5v5h-5zM245 170h5v5h-5zM240 175h5v5h-5zM280 190h5v5h-5zM235 215h5v5h-5zM225 220h10v5h-10zM220 230h5v5h-5zM275 230h5v5h-5zM195 245h5v5h-5zM270 255h5v5h-5zM195 260h5v5h-5zM190 265h5v5h-5zM200 280h5v5h-5zM190 285h5v5h-5zM185 300h5v5h-5zM210 300h5v5h-5zM180 305h5v5h-5zM210 305h5v5h-5zM215 310h5v5h-5zM220 315h5v5h-5zM175 335h5v5h-5zM175 340h5v5h-5zM175 345h5v5h-5zM180 355h5v5h-5zM200 355h5v5h-5zM185 360h5v5h-5z"/><path fill="#efefef" d="M255 120h5v5h-5zM270 125h5v5h-5zM275 135h5v5h-5zM285 140h5v5h-5zM255 145h5v5h-5zM250 150h5v5h-5zM250 165h5v5h-5zM250 170h5v5h-5zM245 175h5v5h-5zM235 180h10v5h-10zM235 185h5v5h-5zM235 190h5v5h-5zM275 215h5v5h-5zM225 225h5v5h-5zM225 230h5v5h-5zM210 235h10v5h-10zM275 235h5v5h-5zM275 245h5v5h-5zM195 265h5v5h-5zM235 265h5v5h-5zM195 270h5v5h-5zM230 270h5v5h-5zM200 275h5v5h-5zM225 275h5v5h-5zM195 285h15v5h-15zM190 290h10v5h-10zM205 290h5v5h-5zM190 295h10v5h-10zM205 295h5v5h-5zM190 300h10v5h-10zM185 305h10v5h-10zM180 310h5v5h-5zM225 325h5v5h-5zM175 330h5v5h-5zM225 335h5v5h-5zM220 345h5v5h-5zM180 350h5v5h-5zM215 350h5v5h-5z"/><path fill="#f4f4f4" d="M255 90h5v5h-5zM255 100h5v5h-5zM255 105h5v5h-5zM255 110h5v5h-5zM255 115h5v5h-5zM280 115h5v5h-5zM260 125h5v5h-5zM265 135h5v5h-5zM260 140h5v5h-5zM250 155h5v5h-5zM250 160h5v5h-5zM250 175h5v5h-5zM245 180h5v5h-5zM240 185h10v5h-10zM240 190h10v5h-10zM240 195h5v5h-5zM240 200h5v5h-5zM240 205h5v5h-5zM235 220h5v5h-5zM230 225h5v5h-5zM230 230h5v5h-5zM195 235h5v5h-5zM220 235h10v5h-10zM275 240h5v5h-5zM200 250h5v5h-5zM200 255h5v5h-5zM200 260h5v5h-5zM240 260h5v5h-5zM260 260h5v5h-5zM200 265h5v5h-5zM200 270h5v5h-5zM205 280h5v5h-5zM215 280h5v5h-5zM200 290h5v5h-5zM200 295h5v5h-5zM200 300h10v5h-10zM195 305h15v5h-15zM185 310h10v5h-10zM180 315h5v5h-5zM175 320h5v5h-5zM175 325h5v5h-5zM225 330h5v5h-5zM180 340h5v5h-5zM180 345h5v5h-5zM185 350h5v5h-5zM185 355h5v5h-5z"/><path fill="#fafafa" d="M260 85h5v5h-5zM270 85h5v5h-5zM275 90h5v5h-5zM255 95h5v5h-5zM280 95h5v5h-5zM260 100h5v5h-5zM280 100h5v5h-5zM260 105h5v5h-5zM260 110h5v5h-5zM280 110h5v5h-5zM260 115h5v5h-5zM260 120h5v5h-5zM275 120h5v5h-5zM265 125h5v5h-5zM270 135h5v5h-5zM265 140h5v5h-5zM280 140h5v5h-5zM260 145h5v5h-5zM255 150h5v5h-5zM255 155h5v5h-5zM255 165h5v5h-5zM255 170h5v5h-5zM250 180h5v5h-5zM250 185h5v5h-5zM285 185h5v5h-5zM245 195h5v5h-5zM240 210h5v5h-5zM275 210h5v5h-5zM240 215h5v5h-5zM270 220h5v5h-5zM235 225h5v5h-5zM200 235h10v5h-10zM230 235h5v5h-5zM195 240h5v5h-5zM225 240h5v5h-5zM200 245h5v5h-5zM270 250h5v5h-5zM265 255h5v5h-5zM245 260h15v5h-15zM205 270h5v5h-5zM205 275h5v5h-5zM220 275h5v5h-5zM210 280h5v5h-5zM195 310h10v5h-10zM210 310h5v5h-5zM185 315h10v5h-10zM215 315h5v5h-5zM220 320h5v5h-5zM180 330h5v5h-5zM180 335h5v5h-5zM185 340h5v5h-5zM220 340h5v5h-5zM185 345h5v5h-5zM190 350h5v5h-5zM210 350h5v5h-5zM190 355h10v5h-10z"/><path fill="#ffffff" d="M265 85h5v5h-5zM260 90h15v5h-15zM260 95h20v5h-20zM265 100h15v5h-15zM265 105h20v5h-20zM265 110h15v5h-15zM265 115h15v5h-15zM265 120h10v5h-10zM270 140h10v5h-10zM265 145h25v5h-25zM260 150h30v5h-30zM260 155h30v5h-30zM255 160h35v5h-35zM260 165h30v5h-30zM260 170h30v5h-30zM255 175h35v5h-35zM255 180h35v5h-35zM255 185h30v5h-30zM250 190h30v5h-30zM250 195h30v5h-30zM245 200h35v5h-35zM245 205h35v5h-35zM245 210h30v5h-30zM245 215h30v5h-30zM240 220h30v5h-30zM240 225h35v5h-35zM235 230h40v5h-40zM235 235h40v5h-40zM200 240h25v5h-25zM230 240h45v5h-45zM205 245h70v5h-70zM205 250h65v5h-65zM205 255h60v5h-60zM205 260h35v5h-35zM205 265h30v5h-30zM210 270h20v5h-20zM210 275h10v5h-10zM205 310h5v5h-5zM195 315h20v5h-20zM180 320h40v5h-40zM180 325h45v5h-45zM185 330h40v5h-40zM185 335h40v5h-40zM190 340h30v5h-30zM190 345h30v5h-30zM195 350h15v5h-15z"/></g></g>
<use href="#inl" fill="none" stroke="#1e1e1e" stroke-width="1.05" stroke-linejoin="round"/>
<use href="#ol" fill="none" stroke="#141414" stroke-width="1.2" stroke-linejoin="round"/>
<text x="254.7" y="394" font-size="45.5" text-anchor="middle">(e)</text>
</g>
<g transform="translate(1216.25,0)">
<rect x="55" y="55" width="243" height="362" fill="#E6F0F7"/>
<path d="M55.0 413.0 L58.1 412.0 L63.2 408.9 L69.4 398.6 L74.5 388.3 L79.7 380.1 L83.8 370.9 L96.1 367.8 L106.4 365.7 L114.6 367.8 L122.8 372.9 L125.9 378.1 L129.0 382.2 L128.0 386.3 L124.9 392.5 L120.7 400.7 L114.6 408.9 L110.5 416.0 L55.0 416.0 Z" fill="#fff"/>
<path d="M297.0 291.5 L289.0 287.4 L283.5 284.7 L280.8 286.0 L275.3 291.5 L274.0 306.6 L268.5 314.8 L263.0 325.8 L253.4 336.8 L242.4 347.7 L237.2 349.3 L229.0 356.0 L225.5 360.0 L218.5 367.0 L213.5 374.0 L207.0 386.3 L205.3 398.6 L196.1 402.7 L181.7 408.9 L167.3 415.1 L160.0 416.0 L297.0 416.0 Z" fill="#fff"/>
<g clip-path="url(#clp)"><g filter="url(#fb)"><path fill="#161616" d="M60 105h20v5h-20zM60 110h30v5h-30zM60 115h35v5h-35zM60 120h40v5h-40zM60 125h45v5h-45zM60 130h45v5h-45zM60 135h40v5h-40zM60 140h35v5h-35zM75 145h15v5h-15zM80 150h5v5h-5zM80 230h20v5h-20zM70 235h35v5h-35zM70 240h40v5h-40zM70 245h45v5h-45zM70 250h50v5h-50zM70 255h50v5h-50zM70 260h50v5h-50zM80 265h40v5h-40zM90 270h20v5h-20z"/><path fill="#1b1b1b" d="M80 105h5v5h-5zM95 140h5v5h-5zM70 145h5v5h-5zM90 145h5v5h-5zM75 150h5v5h-5zM85 150h5v5h-5zM80 155h15v5h-15zM75 160h25v5h-25zM75 165h30v5h-30zM75 170h30v5h-30zM75 175h30v5h-30zM80 180h20v5h-20zM85 185h10v5h-10zM115 225h10v5h-10zM75 230h5v5h-5zM110 230h20v5h-20zM105 235h25v5h-25zM110 240h25v5h-25zM65 245h5v5h-5zM115 245h25v5h-25zM65 250h5v5h-5zM120 250h20v5h-20zM120 255h15v5h-15zM120 260h10v5h-10zM75 265h5v5h-5zM120 265h5v5h-5zM75 270h15v5h-15zM110 270h15v5h-15zM70 275h60v5h-60zM65 280h65v5h-65zM65 285h65v5h-65zM65 290h65v5h-65zM65 295h60v5h-60zM70 300h50v5h-50zM75 305h40v5h-40zM85 310h20v5h-20zM90 315h5v5h-5z"/><path fill="#212121" d="M100 135h5v5h-5zM75 155h5v5h-5zM100 160h5v5h-5zM105 175h5v5h-5zM75 180h5v5h-5zM100 180h20v5h-20zM80 185h5v5h-5zM95 185h30v5h-30zM90 190h35v5h-35zM95 195h30v5h-30zM100 200h20v5h-20zM110 225h5v5h-5zM105 230h5v5h-5zM130 235h10v5h-10zM65 240h5v5h-5zM135 240h15v5h-15zM140 245h10v5h-10zM140 250h5v5h-5zM65 255h5v5h-5zM135 255h15v5h-15zM130 260h25v5h-25zM125 265h30v5h-30zM70 270h5v5h-5zM125 270h25v5h-25zM65 275h5v5h-5zM130 275h20v5h-20zM130 280h20v5h-20zM130 285h20v5h-20zM130 290h20v5h-20zM125 295h20v5h-20zM65 300h5v5h-5zM120 300h25v5h-25zM70 305h5v5h-5zM115 305h30v5h-30zM80 310h5v5h-5zM105 310h40v5h-40zM70 315h20v5h-20zM95 315h45v5h-45zM65 320h70v5h-70zM60 325h60v5h-60zM60 330h35v5h-35zM100 330h10v5h-10zM60 335h30v5h-30zM60 340h25v5h-25zM65 345h20v5h-20zM70 350h10v5h-10z"/><path fill="#262626" d="M70 100h5v5h-5zM90 110h5v5h-5zM95 115h5v5h-5zM65 145h5v5h-5zM90 150h5v5h-5zM95 155h5v5h-5zM105 165h5v5h-5zM105 170h5v5h-5zM110 175h5v5h-5zM90 195h5v5h-5zM95 200h5v5h-5zM120 200h5v5h-5zM85 225h5v5h-5zM100 230h5v5h-5zM130 230h5v5h-5zM140 235h10v5h-10zM145 250h5v5h-5zM150 270h5v5h-5zM150 280h5v5h-5zM150 285h5v5h-5zM145 295h5v5h-5zM145 305h5v5h-5zM75 310h5v5h-5zM145 310h5v5h-5zM65 315h5v5h-5zM140 315h5v5h-5zM60 320h5v5h-5zM95 330h5v5h-5zM110 330h5v5h-5zM90 335h20v5h-20zM85 340h25v5h-25zM60 345h5v5h-5zM85 345h25v5h-25zM65 350h5v5h-5zM80 350h25v5h-25zM80 355h20v5h-20zM85 360h15v5h-15z"/><path fill="#2b2b2b" d="M65 100h5v5h-5zM75 100h5v5h-5zM85 105h5v5h-5zM100 120h5v5h-5zM70 165h5v5h-5zM70 170h5v5h-5zM115 175h5v5h-5zM120 180h5v5h-5zM125 185h5v5h-5zM85 190h5v5h-5zM125 190h5v5h-5zM80 225h5v5h-5zM90 225h5v5h-5zM125 225h5v5h-5zM135 230h5v5h-5zM70 265h5v5h-5zM60 285h5v5h-5zM60 290h5v5h-5zM150 290h5v5h-5zM145 300h5v5h-5zM150 310h5v5h-5zM145 315h10v5h-10zM135 320h5v5h-5zM120 325h5v5h-5zM110 335h5v5h-5zM110 340h5v5h-5zM110 345h5v5h-5zM105 350h5v5h-5zM75 355h5v5h-5zM100 355h10v5h-10zM80 360h5v5h-5zM100 360h5v5h-5zM90 365h10v5h-10z"/><path fill="#313131" d="M105 130h5v5h-5zM95 145h5v5h-5zM105 160h5v5h-5zM110 165h10v5h-10zM110 170h15v5h-15zM120 175h10v5h-10zM125 180h5v5h-5zM130 185h10v5h-10zM130 190h15v5h-15zM125 195h5v5h-5zM105 205h10v5h-10zM70 230h5v5h-5zM150 275h5v5h-5zM150 305h5v5h-5zM140 320h10v5h-10zM125 325h10v5h-10zM115 330h20v5h-20zM115 335h20v5h-20zM115 340h25v5h-25zM115 345h20v5h-20zM110 350h10v5h-10zM110 355h5v5h-5zM105 360h5v5h-5zM100 365h5v5h-5z"/><path fill="#363636" d="M105 125h5v5h-5zM100 140h5v5h-5zM100 155h5v5h-5zM70 160h5v5h-5zM110 160h15v5h-15zM120 165h5v5h-5zM125 170h5v5h-5zM70 175h5v5h-5zM130 180h15v5h-15zM140 185h15v5h-15zM145 190h10v5h-10zM130 195h15v5h-15zM115 220h10v5h-10zM140 230h5v5h-5zM65 235h5v5h-5zM150 235h5v5h-5zM150 240h5v5h-5zM150 255h5v5h-5zM65 260h5v5h-5zM60 280h5v5h-5zM60 295h5v5h-5zM150 295h5v5h-5zM150 300h5v5h-5zM70 310h5v5h-5zM150 320h5v5h-5zM135 325h5v5h-5zM135 330h5v5h-5zM135 335h10v5h-10zM140 340h10v5h-10zM135 345h10v5h-10zM120 350h15v5h-15zM70 355h5v5h-5zM115 355h5v5h-5zM110 360h5v5h-5z"/><path fill="#3c3c3c" d="M105 135h5v5h-5zM95 150h5v5h-5zM105 155h15v5h-15zM125 165h5v5h-5zM130 175h5v5h-5zM140 175h5v5h-5zM145 180h10v5h-10zM155 185h5v5h-5zM155 190h5v5h-5zM145 195h5v5h-5zM125 200h5v5h-5zM100 205h5v5h-5zM115 205h5v5h-5zM130 225h5v5h-5zM145 230h5v5h-5zM150 245h5v5h-5zM155 290h5v5h-5zM155 295h5v5h-5zM155 305h5v5h-5zM155 310h5v5h-5zM155 315h5v5h-5zM140 325h10v5h-10zM140 330h10v5h-10zM145 335h5v5h-5zM135 350h5v5h-5zM120 355h5v5h-5zM115 360h5v5h-5zM85 365h5v5h-5zM105 365h10v5h-10zM95 370h15v5h-15z"/><path fill="#414141" d="M60 100h5v5h-5zM105 140h5v5h-5zM60 145h5v5h-5zM100 145h15v5h-15zM70 150h5v5h-5zM100 150h20v5h-20zM120 155h5v5h-5zM145 170h15v5h-15zM135 175h5v5h-5zM145 175h20v5h-20zM155 180h10v5h-10zM160 185h5v5h-5zM160 190h5v5h-5zM150 195h5v5h-5zM130 200h5v5h-5zM95 225h5v5h-5zM135 225h5v5h-5zM150 250h5v5h-5zM155 285h5v5h-5zM160 295h5v5h-5zM155 300h10v5h-10zM155 320h5v5h-5zM150 325h5v5h-5zM150 330h5v5h-5zM145 345h5v5h-5zM125 355h5v5h-5zM120 360h5v5h-5zM115 365h10v5h-10zM110 370h10v5h-10zM105 375h10v5h-10zM110 380h5v5h-5z"/><path fill="#474747" d="M80 100h5v5h-5zM110 140h5v5h-5zM130 170h5v5h-5zM140 170h5v5h-5zM160 170h5v5h-5zM165 175h5v5h-5zM165 180h5v5h-5zM155 195h5v5h-5zM135 200h5v5h-5zM125 220h5v5h-5zM75 225h5v5h-5zM105 225h5v5h-5zM140 225h5v5h-5zM150 230h5v5h-5zM160 290h5v5h-5zM160 305h5v5h-5zM160 310h5v5h-5zM150 335h5v5h-5zM140 350h5v5h-5zM130 355h5v5h-5zM125 360h5v5h-5zM125 365h5v5h-5zM120 370h5v5h-5zM100 375h5v5h-5zM115 375h10v5h-10zM105 380h5v5h-5zM115 380h5v5h-5z"/><path fill="#4c4c4c" d="M115 145h5v5h-5zM125 160h5v5h-5zM145 165h10v5h-10zM165 170h5v5h-5zM75 185h5v5h-5zM165 185h5v5h-5zM90 200h5v5h-5zM140 200h5v5h-5zM125 215h10v5h-10zM130 220h20v5h-20zM145 225h10v5h-10zM155 230h5v5h-5zM155 235h10v5h-10zM155 240h15v5h-15zM155 245h10v5h-10zM155 250h5v5h-5zM65 270h5v5h-5zM65 305h5v5h-5zM60 315h5v5h-5zM160 315h5v5h-5zM155 325h5v5h-5zM150 340h5v5h-5zM60 350h5v5h-5zM135 355h10v5h-10zM75 360h5v5h-5zM130 360h15v5h-15zM130 365h15v5h-15zM125 370h20v5h-20zM125 375h15v5h-15zM120 380h20v5h-20zM115 385h25v5h-25z"/><path fill="#515151" d="M110 135h5v5h-5zM155 165h10v5h-10zM135 170h5v5h-5zM170 175h5v5h-5zM165 190h5v5h-5zM160 195h5v5h-5zM145 200h5v5h-5zM125 210h10v5h-10zM135 215h15v5h-15zM150 220h5v5h-5zM160 230h5v5h-5zM165 235h5v5h-5zM170 240h5v5h-5zM165 245h5v5h-5zM160 250h5v5h-5zM155 255h5v5h-5zM155 265h5v5h-5zM165 295h5v5h-5zM165 300h5v5h-5zM165 305h5v5h-5zM165 310h5v5h-5zM160 320h5v5h-5zM155 330h5v5h-5zM145 350h5v5h-5zM145 355h5v5h-5zM145 360h5v5h-5zM145 365h5v5h-5zM145 370h5v5h-5zM140 375h5v5h-5zM140 380h5v5h-5zM110 385h5v5h-5zM140 385h5v5h-5z"/><path fill="#575757" d="M120 150h5v5h-5zM130 165h5v5h-5zM140 165h5v5h-5zM165 165h5v5h-5zM170 170h5v5h-5zM170 180h5v5h-5zM150 200h5v5h-5zM125 205h25v5h-25zM135 210h15v5h-15zM150 215h5v5h-5zM155 225h5v5h-5zM170 245h5v5h-5zM165 250h5v5h-5zM155 260h5v5h-5zM155 280h5v5h-5zM165 290h5v5h-5zM165 315h5v5h-5zM150 355h5v5h-5zM150 360h5v5h-5zM150 365h5v5h-5zM145 375h5v5h-5zM145 380h5v5h-5z"/><path fill="#5c5c5c" d="M115 140h5v5h-5zM70 155h5v5h-5zM125 155h5v5h-5zM150 160h20v5h-20zM170 165h5v5h-5zM80 190h5v5h-5zM85 195h5v5h-5zM165 195h5v5h-5zM155 200h5v5h-5zM120 205h5v5h-5zM150 205h10v5h-10zM150 210h5v5h-5zM120 215h5v5h-5zM155 220h5v5h-5zM60 245h5v5h-5zM60 250h5v5h-5zM155 270h5v5h-5zM160 285h5v5h-5zM65 310h5v5h-5zM160 325h5v5h-5zM155 335h5v5h-5zM150 345h5v5h-5zM155 365h5v5h-5zM90 370h5v5h-5zM150 370h5v5h-5zM150 375h5v5h-5zM145 385h5v5h-5z"/><path fill="#626262" d="M110 130h5v5h-5zM130 160h5v5h-5zM145 160h5v5h-5zM170 160h5v5h-5zM135 165h5v5h-5zM70 180h5v5h-5zM170 185h5v5h-5zM160 200h5v5h-5zM95 205h5v5h-5zM160 205h5v5h-5zM155 210h5v5h-5zM155 215h5v5h-5zM110 220h5v5h-5zM160 225h5v5h-5zM160 255h5v5h-5zM60 275h5v5h-5zM155 275h5v5h-5zM165 285h5v5h-5zM60 300h5v5h-5zM160 330h5v5h-5zM150 350h5v5h-5zM65 355h5v5h-5zM155 360h5v5h-5zM80 365h5v5h-5zM155 370h5v5h-5zM155 375h5v5h-5zM100 380h5v5h-5zM150 380h10v5h-10zM150 385h5v5h-5z"/><path fill="#676767" d="M95 110h5v5h-5zM130 155h10v5h-10zM155 155h5v5h-5zM135 160h10v5h-10zM175 170h5v5h-5zM170 190h5v5h-5zM165 200h5v5h-5zM165 205h5v5h-5zM160 210h10v5h-10zM160 215h10v5h-10zM160 220h10v5h-10zM165 230h5v5h-5zM170 235h5v5h-5zM170 250h5v5h-5zM160 270h5v5h-5zM160 275h10v5h-10zM160 280h10v5h-10zM165 320h5v5h-5zM160 335h5v5h-5zM155 340h5v5h-5zM155 355h5v5h-5zM160 365h5v5h-5zM160 370h15v5h-15zM160 375h15v5h-15zM160 380h15v5h-15zM155 385h20v5h-20z"/><path fill="#6d6d6d" d="M90 105h5v5h-5zM100 115h5v5h-5zM105 120h5v5h-5zM120 145h5v5h-5zM130 150h10v5h-10zM140 155h5v5h-5zM150 155h5v5h-5zM160 155h5v5h-5zM175 160h5v5h-5zM175 165h5v5h-5zM175 175h5v5h-5zM175 180h5v5h-5zM170 210h5v5h-5zM170 215h5v5h-5zM100 225h5v5h-5zM175 240h5v5h-5zM165 255h5v5h-5zM160 260h5v5h-5zM160 265h5v5h-5zM165 270h5v5h-5zM170 280h5v5h-5zM170 285h5v5h-5zM155 345h5v5h-5zM155 350h5v5h-5zM160 360h5v5h-5zM165 365h5v5h-5zM95 375h5v5h-5zM175 375h5v5h-5zM175 380h5v5h-5z"/><path fill="#727272" d="M95 105h10v5h-10zM100 110h10v5h-10zM105 115h10v5h-10zM110 120h5v5h-5zM115 135h5v5h-5zM125 150h5v5h-5zM145 155h5v5h-5zM165 155h5v5h-5zM175 185h10v5h-10zM175 190h10v5h-10zM170 195h5v5h-5zM170 205h5v5h-5zM120 210h5v5h-5zM170 220h5v5h-5zM165 225h5v5h-5zM60 240h5v5h-5zM60 255h5v5h-5zM170 255h5v5h-5zM165 260h10v5h-10zM65 265h5v5h-5zM165 265h5v5h-5zM165 330h5v5h-5zM160 340h5v5h-5zM160 350h5v5h-5zM160 355h5v5h-5zM165 360h5v5h-5zM170 365h5v5h-5zM175 370h5v5h-5zM105 385h5v5h-5z"/><path fill="#777777" d="M100 95h5v5h-5zM95 100h15v5h-15zM105 105h10v5h-10zM110 110h10v5h-10zM115 115h5v5h-5zM115 120h5v5h-5zM110 125h5v5h-5zM140 150h5v5h-5zM170 155h5v5h-5zM180 175h5v5h-5zM180 180h5v5h-5zM170 200h5v5h-5zM65 230h5v5h-5zM170 230h5v5h-5zM175 245h5v5h-5zM170 275h5v5h-5zM170 310h5v5h-5zM165 325h5v5h-5zM165 335h5v5h-5zM165 355h5v5h-5zM175 385h5v5h-5z"/><path fill="#7d7d7d" d="M100 90h5v5h-5zM95 95h5v5h-5zM105 95h5v5h-5zM110 100h5v5h-5zM115 105h5v5h-5zM120 140h5v5h-5zM125 145h5v5h-5zM65 150h5v5h-5zM145 150h5v5h-5zM175 155h5v5h-5zM180 160h5v5h-5zM180 165h5v5h-5zM180 170h5v5h-5zM185 190h5v5h-5zM175 195h5v5h-5zM175 220h5v5h-5zM170 225h10v5h-10zM175 230h5v5h-5zM175 235h5v5h-5zM175 255h5v5h-5zM175 260h5v5h-5zM170 265h5v5h-5zM170 270h5v5h-5zM160 345h5v5h-5zM170 360h5v5h-5z"/><path fill="#828282" d="M105 90h5v5h-5zM70 95h5v5h-5zM110 95h5v5h-5zM85 100h5v5h-5zM120 110h5v5h-5zM120 115h5v5h-5zM115 130h5v5h-5zM120 135h5v5h-5zM125 140h5v5h-5zM130 145h5v5h-5zM150 150h5v5h-5zM185 185h5v5h-5zM180 195h10v5h-10zM175 210h5v5h-5zM175 215h5v5h-5zM85 220h5v5h-5zM180 220h5v5h-5zM70 225h5v5h-5zM180 225h5v5h-5zM180 230h10v5h-10zM180 235h5v5h-5zM175 250h5v5h-5zM170 290h5v5h-5z"/><path fill="#888888" d="M110 90h5v5h-5zM65 95h5v5h-5zM115 100h5v5h-5zM120 105h5v5h-5zM115 125h5v5h-5zM125 135h5v5h-5zM135 145h5v5h-5zM180 155h5v5h-5zM65 165h5v5h-5zM185 165h5v5h-5zM65 170h5v5h-5zM185 180h5v5h-5zM175 200h5v5h-5zM175 205h5v5h-5zM105 210h10v5h-10zM115 215h5v5h-5zM180 215h5v5h-5zM90 220h5v5h-5zM185 225h5v5h-5zM185 235h5v5h-5zM170 295h5v5h-5zM170 305h5v5h-5zM170 315h5v5h-5zM165 350h5v5h-5zM70 360h5v5h-5zM175 365h5v5h-5zM85 370h5v5h-5z"/><path fill="#8d8d8d" d="M105 85h5v5h-5zM75 95h5v5h-5zM115 95h5v5h-5zM90 100h5v5h-5zM120 130h5v5h-5zM130 140h5v5h-5zM140 145h5v5h-5zM155 150h5v5h-5zM185 160h5v5h-5zM185 170h5v5h-5zM185 175h5v5h-5zM190 190h5v5h-5zM190 195h5v5h-5zM180 200h15v5h-15zM180 205h10v5h-10zM115 210h5v5h-5zM180 210h10v5h-10zM80 220h5v5h-5zM185 220h5v5h-5zM60 235h5v5h-5zM60 260h5v5h-5zM170 300h5v5h-5zM60 305h5v5h-5zM60 310h5v5h-5zM165 340h5v5h-5z"/><path fill="#929292" d="M100 85h5v5h-5zM110 85h5v5h-5zM95 90h5v5h-5zM60 95h5v5h-5zM120 100h5v5h-5zM120 120h5v5h-5zM145 145h5v5h-5zM60 150h5v5h-5zM175 150h15v5h-15zM185 155h5v5h-5zM65 160h5v5h-5zM190 165h5v5h-5zM190 170h5v5h-5zM65 175h5v5h-5zM70 185h5v5h-5zM190 185h5v5h-5zM75 190h5v5h-5zM85 200h5v5h-5zM90 205h5v5h-5zM190 205h5v5h-5zM100 210h5v5h-5zM185 215h5v5h-5zM95 220h5v5h-5zM105 220h5v5h-5zM180 240h5v5h-5zM60 270h5v5h-5zM175 285h5v5h-5zM60 355h5v5h-5zM170 355h5v5h-5zM75 365h5v5h-5zM180 370h5v5h-5zM180 375h5v5h-5zM95 380h5v5h-5zM180 380h5v5h-5zM100 385h5v5h-5z"/><path fill="#989898" d="M115 90h5v5h-5zM80 95h5v5h-5zM90 95h5v5h-5zM125 110h5v5h-5zM125 130h5v5h-5zM130 135h5v5h-5zM180 145h15v5h-15zM190 150h5v5h-5zM65 155h5v5h-5zM190 155h5v5h-5zM190 160h5v5h-5zM190 175h5v5h-5zM65 180h5v5h-5zM190 180h5v5h-5zM80 195h5v5h-5zM95 210h5v5h-5zM190 210h5v5h-5zM110 215h5v5h-5zM75 220h5v5h-5zM100 220h5v5h-5zM65 225h5v5h-5zM60 230h5v5h-5zM190 230h5v5h-5zM60 265h5v5h-5zM175 265h5v5h-5zM175 280h5v5h-5zM165 345h5v5h-5zM65 360h5v5h-5zM80 370h5v5h-5zM90 375h5v5h-5zM180 385h5v5h-5z"/><path fill="#9d9d9d" d="M60 85h40v5h-40zM155 85h45v5h-45zM285 85h5v5h-5zM60 90h35v5h-35zM155 90h40v5h-40zM85 95h5v5h-5zM160 95h30v5h-30zM160 100h20v5h-20zM120 125h5v5h-5zM285 125h5v5h-5zM285 130h5v5h-5zM190 140h5v5h-5zM195 145h5v5h-5zM195 150h5v5h-5zM60 155h5v5h-5zM60 160h5v5h-5zM60 165h5v5h-5zM195 165h5v5h-5zM60 170h5v5h-5zM195 170h5v5h-5zM60 175h5v5h-5zM195 175h5v5h-5zM60 180h5v5h-5zM195 180h5v5h-5zM60 185h10v5h-10zM195 185h5v5h-5zM60 190h15v5h-15zM60 195h20v5h-20zM60 200h25v5h-25zM195 200h5v5h-5zM60 205h30v5h-30zM60 210h35v5h-35zM285 210h5v5h-5zM60 215h50v5h-50zM285 215h5v5h-5zM60 220h15v5h-15zM285 220h5v5h-5zM60 225h5v5h-5zM285 225h5v5h-5zM285 230h5v5h-5zM285 235h5v5h-5zM285 240h5v5h-5zM285 245h5v5h-5zM285 250h5v5h-5zM280 255h10v5h-10zM275 260h15v5h-15zM270 265h20v5h-20zM240 270h50v5h-50zM235 275h55v5h-55zM230 280h60v5h-60zM225 285h65v5h-65zM175 290h5v5h-5zM220 290h70v5h-70zM220 295h70v5h-70zM220 300h70v5h-70zM220 305h70v5h-70zM225 310h65v5h-65zM230 315h60v5h-60zM235 320h55v5h-55zM235 325h55v5h-55zM170 330h5v5h-5zM235 330h55v5h-55zM170 335h5v5h-5zM235 335h55v5h-55zM235 340h55v5h-55zM230 345h60v5h-60zM225 350h65v5h-65zM220 355h70v5h-70zM60 360h5v5h-5zM175 360h5v5h-5zM210 360h80v5h-80zM60 365h15v5h-15zM195 365h95v5h-95zM60 370h20v5h-20zM185 370h105v5h-105zM60 375h30v5h-30zM185 375h105v5h-105zM60 380h35v5h-35zM185 380h105v5h-105zM60 385h40v5h-40zM185 385h105v5h-105z"/><path fill="#a3a3a3" d="M115 85h5v5h-5zM120 95h5v5h-5zM180 100h5v5h-5zM125 105h5v5h-5zM165 105h5v5h-5zM125 115h5v5h-5zM285 120h5v5h-5zM280 125h5v5h-5zM280 130h5v5h-5zM135 140h5v5h-5zM185 140h5v5h-5zM195 140h5v5h-5zM150 145h5v5h-5zM200 145h5v5h-5zM160 150h5v5h-5zM170 150h5v5h-5zM195 155h5v5h-5zM195 160h5v5h-5zM200 170h5v5h-5zM195 190h5v5h-5zM195 195h5v5h-5zM285 195h5v5h-5zM285 200h5v5h-5zM195 205h5v5h-5zM285 205h5v5h-5zM190 215h5v5h-5zM280 220h5v5h-5zM190 225h5v5h-5zM280 225h5v5h-5zM280 250h5v5h-5zM180 255h5v5h-5zM215 290h5v5h-5zM175 295h5v5h-5zM230 320h5v5h-5zM230 340h5v5h-5zM205 360h5v5h-5z"/><path fill="#a8a8a8" d="M150 85h5v5h-5zM200 85h5v5h-5zM285 90h5v5h-5zM155 95h5v5h-5zM185 100h5v5h-5zM170 105h5v5h-5zM125 125h5v5h-5zM130 130h5v5h-5zM200 140h5v5h-5zM175 145h5v5h-5zM200 150h5v5h-5zM200 155h5v5h-5zM200 160h5v5h-5zM200 165h5v5h-5zM200 175h5v5h-5zM190 220h5v5h-5zM280 230h5v5h-5zM280 245h5v5h-5zM180 260h5v5h-5zM265 265h5v5h-5zM220 285h5v5h-5zM215 295h5v5h-5zM215 300h5v5h-5zM230 325h5v5h-5zM170 350h5v5h-5zM200 360h5v5h-5zM180 365h5v5h-5zM190 365h5v5h-5z"/><path fill="#aeaeae" d="M125 100h5v5h-5zM175 105h5v5h-5zM125 120h5v5h-5zM275 130h5v5h-5zM180 140h5v5h-5zM200 180h5v5h-5zM195 210h5v5h-5zM280 215h5v5h-5zM280 235h5v5h-5zM280 240h5v5h-5zM180 250h5v5h-5zM175 275h5v5h-5zM175 300h5v5h-5zM170 320h5v5h-5zM230 330h5v5h-5zM230 335h5v5h-5zM170 340h5v5h-5zM170 345h5v5h-5zM175 355h5v5h-5zM215 355h5v5h-5zM185 365h5v5h-5z"/><path fill="#b3b3b3" d="M120 90h5v5h-5zM190 95h5v5h-5zM160 105h5v5h-5zM285 115h5v5h-5zM130 125h5v5h-5zM135 135h5v5h-5zM285 135h5v5h-5zM140 140h5v5h-5zM205 170h5v5h-5zM200 185h5v5h-5zM200 210h5v5h-5zM195 215h10v5h-10zM195 220h5v5h-5zM195 225h5v5h-5zM180 245h5v5h-5zM275 255h5v5h-5zM175 270h5v5h-5zM180 290h5v5h-5zM215 305h5v5h-5zM225 315h5v5h-5zM170 325h5v5h-5z"/><path fill="#b8b8b8" d="M280 85h5v5h-5zM195 90h5v5h-5zM180 105h5v5h-5zM135 130h5v5h-5zM185 135h15v5h-15zM205 145h5v5h-5zM165 150h5v5h-5zM205 150h5v5h-5zM205 155h5v5h-5zM205 160h5v5h-5zM205 165h5v5h-5zM205 175h5v5h-5zM200 190h5v5h-5zM200 205h5v5h-5zM200 220h5v5h-5zM185 240h5v5h-5zM270 260h5v5h-5zM235 270h5v5h-5zM230 275h5v5h-5zM225 280h5v5h-5zM180 285h5v5h-5zM180 295h5v5h-5zM175 305h5v5h-5zM220 310h5v5h-5zM225 345h5v5h-5zM175 350h5v5h-5zM180 360h5v5h-5z"/><path fill="#bebebe" d="M120 85h5v5h-5zM125 95h5v5h-5zM185 105h5v5h-5zM180 110h10v5h-10zM185 115h5v5h-5zM130 120h5v5h-5zM185 120h5v5h-5zM135 125h5v5h-5zM185 125h5v5h-5zM185 130h10v5h-10zM145 140h5v5h-5zM205 180h5v5h-5zM205 185h5v5h-5zM205 190h5v5h-5zM200 195h15v5h-15zM200 200h15v5h-15zM205 205h10v5h-10zM205 210h5v5h-5zM200 225h5v5h-5zM190 235h5v5h-5zM180 265h5v5h-5zM240 265h10v5h-10zM260 265h5v5h-5zM215 285h5v5h-5zM180 300h5v5h-5zM175 345h5v5h-5z"/><path fill="#c3c3c3" d="M205 85h5v5h-5zM150 90h5v5h-5zM155 100h5v5h-5zM170 110h10v5h-10zM175 115h10v5h-10zM190 115h5v5h-5zM180 120h5v5h-5zM190 120h5v5h-5zM180 125h5v5h-5zM190 125h10v5h-10zM195 130h5v5h-5zM180 135h5v5h-5zM200 135h5v5h-5zM175 140h5v5h-5zM155 145h5v5h-5zM210 175h5v5h-5zM210 180h5v5h-5zM210 185h5v5h-5zM210 190h5v5h-5zM215 195h5v5h-5zM215 200h5v5h-5zM215 205h5v5h-5zM205 215h5v5h-5zM175 310h5v5h-5zM220 350h5v5h-5zM180 355h5v5h-5z"/><path fill="#c9c9c9" d="M125 90h5v5h-5zM285 95h5v5h-5zM130 100h5v5h-5zM130 105h5v5h-5zM165 110h5v5h-5zM190 110h5v5h-5zM195 115h5v5h-5zM175 120h5v5h-5zM195 120h5v5h-5zM175 125h5v5h-5zM200 125h5v5h-5zM275 125h5v5h-5zM140 130h5v5h-5zM180 130h5v5h-5zM200 130h5v5h-5zM270 130h5v5h-5zM140 135h5v5h-5zM205 140h5v5h-5zM170 145h5v5h-5zM210 155h5v5h-5zM210 160h5v5h-5zM210 165h5v5h-5zM210 170h5v5h-5zM210 210h5v5h-5zM195 230h5v5h-5zM185 245h5v5h-5zM185 250h5v5h-5zM185 255h5v5h-5zM175 340h5v5h-5zM185 360h5v5h-5zM195 360h5v5h-5z"/><path fill="#cecece" d="M125 85h5v5h-5zM130 95h5v5h-5zM190 100h5v5h-5zM190 105h5v5h-5zM130 110h5v5h-5zM195 110h5v5h-5zM285 110h5v5h-5zM130 115h5v5h-5zM170 115h5v5h-5zM200 115h5v5h-5zM135 120h5v5h-5zM170 120h5v5h-5zM200 120h10v5h-10zM280 120h5v5h-5zM140 125h5v5h-5zM170 125h5v5h-5zM205 125h5v5h-5zM175 130h5v5h-5zM205 130h5v5h-5zM175 135h5v5h-5zM205 135h5v5h-5zM150 140h5v5h-5zM210 150h5v5h-5zM215 190h5v5h-5zM220 195h5v5h-5zM220 200h5v5h-5zM215 210h5v5h-5zM280 210h5v5h-5zM205 220h5v5h-5zM250 265h10v5h-10zM180 280h5v5h-5zM185 285h5v5h-5zM185 290h5v5h-5zM185 295h5v5h-5zM180 305h5v5h-5zM175 315h5v5h-5zM175 335h5v5h-5zM180 350h5v5h-5zM210 355h5v5h-5z"/><path fill="#d4d4d4" d="M130 85h5v5h-5zM145 85h5v5h-5zM130 90h5v5h-5zM135 95h5v5h-5zM165 115h5v5h-5zM140 120h5v5h-5zM165 120h5v5h-5zM210 125h5v5h-5zM170 130h5v5h-5zM210 130h5v5h-5zM170 135h5v5h-5zM170 140h5v5h-5zM215 155h5v5h-5zM215 160h5v5h-5zM215 165h5v5h-5zM215 175h5v5h-5zM215 180h5v5h-5zM215 185h5v5h-5zM285 190h5v5h-5zM205 225h5v5h-5zM190 250h5v5h-5zM185 260h5v5h-5zM180 270h5v5h-5zM180 275h5v5h-5zM210 285h5v5h-5zM210 290h5v5h-5zM185 300h5v5h-5zM175 330h5v5h-5z"/><path fill="#d9d9d9" d="M135 85h10v5h-10zM135 90h15v5h-15zM200 90h5v5h-5zM140 95h5v5h-5zM150 95h5v5h-5zM195 95h5v5h-5zM135 100h5v5h-5zM285 100h5v5h-5zM155 105h5v5h-5zM195 105h5v5h-5zM200 110h5v5h-5zM205 115h5v5h-5zM210 120h5v5h-5zM165 125h5v5h-5zM165 130h5v5h-5zM145 135h5v5h-5zM280 135h5v5h-5zM210 145h5v5h-5zM215 150h5v5h-5zM215 170h5v5h-5zM220 205h5v5h-5zM210 215h5v5h-5zM275 220h5v5h-5zM200 230h5v5h-5zM190 245h5v5h-5zM275 250h5v5h-5zM190 255h5v5h-5zM185 275h5v5h-5zM185 280h10v5h-10zM190 285h5v5h-5zM185 305h5v5h-5zM225 320h5v5h-5zM180 345h5v5h-5zM185 355h5v5h-5zM190 360h5v5h-5z"/><path fill="#dedede" d="M145 95h5v5h-5zM140 100h5v5h-5zM135 105h5v5h-5zM285 105h5v5h-5zM135 110h5v5h-5zM205 110h5v5h-5zM135 115h10v5h-10zM210 115h5v5h-5zM145 120h5v5h-5zM145 125h5v5h-5zM145 130h5v5h-5zM165 135h5v5h-5zM160 145h10v5h-10zM220 155h5v5h-5zM220 160h5v5h-5zM220 185h5v5h-5zM220 190h5v5h-5zM280 195h5v5h-5zM280 200h5v5h-5zM280 205h5v5h-5zM210 220h5v5h-5zM275 225h5v5h-5zM190 240h5v5h-5zM185 265h5v5h-5zM185 270h5v5h-5zM190 275h5v5h-5zM195 280h5v5h-5zM190 290h5v5h-5zM190 295h5v5h-5zM210 295h5v5h-5zM190 300h5v5h-5zM210 300h5v5h-5zM180 310h5v5h-5zM175 320h5v5h-5zM175 325h5v5h-5zM225 340h5v5h-5zM205 355h5v5h-5z"/><path fill="#e4e4e4" d="M205 90h5v5h-5zM200 95h10v5h-10zM145 100h10v5h-10zM195 100h15v5h-15zM140 105h15v5h-15zM200 105h10v5h-10zM140 110h15v5h-15zM160 110h5v5h-5zM210 110h5v5h-5zM145 115h5v5h-5zM210 135h5v5h-5zM155 140h5v5h-5zM165 140h5v5h-5zM215 145h5v5h-5zM220 150h5v5h-5zM220 165h5v5h-5zM220 170h5v5h-5zM220 175h10v5h-10zM220 180h10v5h-10zM225 185h5v5h-5zM225 190h5v5h-5zM225 195h5v5h-5zM220 210h5v5h-5zM215 215h5v5h-5zM210 225h5v5h-5zM205 230h5v5h-5zM195 250h5v5h-5zM195 255h5v5h-5zM190 260h5v5h-5zM265 260h5v5h-5zM190 270h5v5h-5zM195 275h5v5h-5zM220 280h5v5h-5zM195 285h15v5h-15zM195 290h15v5h-15zM195 295h15v5h-15zM195 300h15v5h-15zM190 305h10v5h-10zM210 305h5v5h-5zM185 310h5v5h-5zM180 315h5v5h-5zM180 340h5v5h-5zM185 350h5v5h-5z"/><path fill="#e9e9e9" d="M210 85h5v5h-5zM275 85h5v5h-5zM210 90h5v5h-5zM280 90h5v5h-5zM210 95h5v5h-5zM210 100h10v5h-10zM210 105h10v5h-10zM155 110h5v5h-5zM215 110h5v5h-5zM150 115h5v5h-5zM215 115h5v5h-5zM215 120h5v5h-5zM215 125h5v5h-5zM150 135h5v5h-5zM160 140h5v5h-5zM210 140h5v5h-5zM220 145h5v5h-5zM225 150h5v5h-5zM225 155h5v5h-5zM225 160h5v5h-5zM225 165h5v5h-5zM225 170h5v5h-5zM230 175h5v5h-5zM230 180h5v5h-5zM230 185h5v5h-5zM280 190h5v5h-5zM225 200h5v5h-5zM220 215h5v5h-5zM215 220h5v5h-5zM210 230h5v5h-5zM275 230h5v5h-5zM190 265h5v5h-5zM200 280h5v5h-5zM200 305h10v5h-10zM190 310h5v5h-5zM215 310h5v5h-5zM185 315h5v5h-5zM180 320h5v5h-5zM180 325h5v5h-5zM200 355h5v5h-5z"/><path fill="#efefef" d="M215 95h5v5h-5zM220 100h5v5h-5zM220 105h5v5h-5zM220 110h5v5h-5zM155 115h10v5h-10zM150 120h5v5h-5zM160 120h5v5h-5zM150 125h5v5h-5zM160 125h5v5h-5zM270 125h5v5h-5zM150 130h5v5h-5zM160 130h5v5h-5zM215 130h5v5h-5zM265 130h5v5h-5zM160 135h5v5h-5zM275 135h5v5h-5zM215 140h5v5h-5zM285 140h5v5h-5zM225 145h5v5h-5zM230 165h5v5h-5zM230 170h5v5h-5zM230 190h5v5h-5zM230 195h5v5h-5zM230 200h5v5h-5zM225 205h5v5h-5zM225 210h5v5h-5zM275 215h5v5h-5zM215 225h5v5h-5zM195 245h5v5h-5zM275 245h5v5h-5zM270 255h5v5h-5zM195 260h5v5h-5zM195 265h5v5h-5zM235 265h5v5h-5zM195 270h5v5h-5zM230 270h5v5h-5zM200 275h5v5h-5zM225 275h5v5h-5zM195 310h5v5h-5zM220 315h5v5h-5zM185 320h5v5h-5zM225 325h5v5h-5zM180 330h5v5h-5zM180 335h5v5h-5zM225 335h5v5h-5zM185 345h5v5h-5zM215 350h5v5h-5zM190 355h5v5h-5z"/><path fill="#f4f4f4" d="M215 90h5v5h-5zM220 95h5v5h-5zM225 100h5v5h-5zM225 105h5v5h-5zM225 110h5v5h-5zM220 115h5v5h-5zM280 115h5v5h-5zM155 120h5v5h-5zM275 120h5v5h-5zM155 125h5v5h-5zM155 130h5v5h-5zM220 130h5v5h-5zM155 135h5v5h-5zM215 135h15v5h-15zM220 140h10v5h-10zM230 145h5v5h-5zM230 150h5v5h-5zM230 155h5v5h-5zM230 160h5v5h-5zM235 200h5v5h-5zM230 205h10v5h-10zM230 210h10v5h-10zM225 215h10v5h-10zM220 220h5v5h-5zM220 225h5v5h-5zM215 230h5v5h-5zM195 235h5v5h-5zM275 235h5v5h-5zM275 240h5v5h-5zM200 255h5v5h-5zM240 260h5v5h-5zM200 265h5v5h-5zM200 270h5v5h-5zM205 280h5v5h-5zM200 310h5v5h-5zM190 315h5v5h-5zM185 325h5v5h-5zM225 330h5v5h-5zM185 340h5v5h-5zM220 345h5v5h-5zM190 350h5v5h-5zM195 355h5v5h-5z"/><path fill="#fafafa" d="M270 85h5v5h-5zM225 95h5v5h-5zM280 95h5v5h-5zM230 100h5v5h-5zM230 105h5v5h-5zM230 110h5v5h-5zM280 110h5v5h-5zM225 115h10v5h-10zM220 120h5v5h-5zM220 125h5v5h-5zM265 125h5v5h-5zM225 130h10v5h-10zM260 130h5v5h-5zM230 135h5v5h-5zM270 135h5v5h-5zM230 140h5v5h-5zM280 140h5v5h-5zM235 150h5v5h-5zM235 155h5v5h-5zM235 160h5v5h-5zM235 165h5v5h-5zM235 170h5v5h-5zM235 175h5v5h-5zM235 180h5v5h-5zM235 185h5v5h-5zM285 185h5v5h-5zM235 190h5v5h-5zM235 195h5v5h-5zM240 200h5v5h-5zM240 205h5v5h-5zM275 210h5v5h-5zM235 215h5v5h-5zM225 220h15v5h-15zM270 220h5v5h-5zM225 225h5v5h-5zM220 230h5v5h-5zM200 235h20v5h-20zM195 240h5v5h-5zM200 245h5v5h-5zM200 250h5v5h-5zM270 250h5v5h-5zM265 255h5v5h-5zM200 260h5v5h-5zM245 260h20v5h-20zM205 270h5v5h-5zM205 275h5v5h-5zM210 280h10v5h-10zM205 310h10v5h-10zM195 315h5v5h-5zM190 320h5v5h-5zM220 320h5v5h-5zM185 330h5v5h-5zM185 335h5v5h-5zM220 340h5v5h-5zM190 345h5v5h-5zM210 350h5v5h-5z"/><path fill="#ffffff" d="M215 85h55v5h-55zM220 90h60v5h-60zM230 95h50v5h-50zM235 100h50v5h-50zM235 105h50v5h-50zM235 110h45v5h-45zM235 115h45v5h-45zM225 120h50v5h-50zM225 125h40v5h-40zM235 130h25v5h-25zM235 135h35v5h-35zM235 140h45v5h-45zM235 145h55v5h-55zM240 150h50v5h-50zM240 155h50v5h-50zM240 160h50v5h-50zM240 165h50v5h-50zM240 170h50v5h-50zM240 175h50v5h-50zM240 180h50v5h-50zM240 185h45v5h-45zM240 190h40v5h-40zM240 195h40v5h-40zM245 200h35v5h-35zM245 205h35v5h-35zM240 210h35v5h-35zM240 215h35v5h-35zM240 220h30v5h-30zM230 225h45v5h-45zM225 230h50v5h-50zM220 235h55v5h-55zM200 240h75v5h-75zM205 245h70v5h-70zM205 250h65v5h-65zM205 255h60v5h-60zM205 260h35v5h-35zM205 265h30v5h-30zM210 270h20v5h-20zM210 275h15v5h-15zM200 315h20v5h-20zM195 320h25v5h-25zM190 325h35v5h-35zM190 330h35v5h-35zM190 335h35v5h-35zM190 340h30v5h-30zM195 345h25v5h-25zM195 350h15v5h-15z"/></g></g>
<use href="#inl" fill="none" stroke="#1e1e1e" stroke-width="1.05" stroke-linejoin="round"/>
<use href="#ol" fill="none" stroke="#141414" stroke-width="1.2" stroke-linejoin="round"/>
<text x="254.95" y="394" font-size="45.5" text-anchor="middle">(f)</text>
</g>
<rect x="53.2" y="53.5" width="1459.3" height="364.4" fill="none" stroke="#000" stroke-width="4.3"/>
<line x1="296.42" y1="53.5" x2="296.42" y2="417.9" stroke="#000" stroke-width="4"/>
<line x1="539.63" y1="53.5" x2="539.63" y2="417.9" stroke="#000" stroke-width="4"/>
<line x1="782.85" y1="53.5" x2="782.85" y2="417.9" stroke="#000" stroke-width="4"/>
<line x1="1026.07" y1="53.5" x2="1026.07" y2="417.9" stroke="#000" stroke-width="4"/>
<line x1="1269.28" y1="53.5" x2="1269.28" y2="417.9" stroke="#000" stroke-width="4"/>
<line x1="131.60" y1="44.3" x2="131.60" y2="54" stroke="#000" stroke-width="5" stroke-linecap="round"/>
<text x="130.60" y="33.8" font-size="33.5" text-anchor="middle" textLength="83.2" lengthAdjust="spacingAndGlyphs">124°E</text>
<line x1="267.60" y1="44.3" x2="267.60" y2="54" stroke="#000" stroke-width="5" stroke-linecap="round"/>
<text x="266.60" y="33.8" font-size="33.5" text-anchor="middle" textLength="83.2" lengthAdjust="spacingAndGlyphs">128°E</text>
<line x1="374.85" y1="44.3" x2="374.85" y2="54" stroke="#000" stroke-width="5" stroke-linecap="round"/>
<text x="373.85" y="33.8" font-size="33.5" text-anchor="middle" textLength="83.2" lengthAdjust="spacingAndGlyphs">124°E</text>
<line x1="510.85" y1="44.3" x2="510.85" y2="54" stroke="#000" stroke-width="5" stroke-linecap="round"/>
<text x="509.85" y="33.8" font-size="33.5" text-anchor="middle" textLength="83.2" lengthAdjust="spacingAndGlyphs">128°E</text>
<line x1="618.10" y1="44.3" x2="618.10" y2="54" stroke="#000" stroke-width="5" stroke-linecap="round"/>
<text x="617.10" y="33.8" font-size="33.5" text-anchor="middle" textLength="83.2" lengthAdjust="spacingAndGlyphs">124°E</text>
<line x1="754.10" y1="44.3" x2="754.10" y2="54" stroke="#000" stroke-width="5" stroke-linecap="round"/>
<text x="753.10" y="33.8" font-size="33.5" text-anchor="middle" textLength="83.2" lengthAdjust="spacingAndGlyphs">128°E</text>
<line x1="861.35" y1="44.3" x2="861.35" y2="54" stroke="#000" stroke-width="5" stroke-linecap="round"/>
<text x="860.35" y="33.8" font-size="33.5" text-anchor="middle" textLength="83.2" lengthAdjust="spacingAndGlyphs">124°E</text>
<line x1="997.35" y1="44.3" x2="997.35" y2="54" stroke="#000" stroke-width="5" stroke-linecap="round"/>
<text x="996.35" y="33.8" font-size="33.5" text-anchor="middle" textLength="83.2" lengthAdjust="spacingAndGlyphs">128°E</text>
<line x1="1104.60" y1="44.3" x2="1104.60" y2="54" stroke="#000" stroke-width="5" stroke-linecap="round"/>
<text x="1103.60" y="33.8" font-size="33.5" text-anchor="middle" textLength="83.2" lengthAdjust="spacingAndGlyphs">124°E</text>
<line x1="1240.60" y1="44.3" x2="1240.60" y2="54" stroke="#000" stroke-width="5" stroke-linecap="round"/>
<text x="1239.60" y="33.8" font-size="33.5" text-anchor="middle" textLength="83.2" lengthAdjust="spacingAndGlyphs">128°E</text>
<line x1="1347.85" y1="44.3" x2="1347.85" y2="54" stroke="#000" stroke-width="5" stroke-linecap="round"/>
<text x="1346.85" y="33.8" font-size="33.5" text-anchor="middle" textLength="83.2" lengthAdjust="spacingAndGlyphs">124°E</text>
<line x1="1483.85" y1="44.3" x2="1483.85" y2="54" stroke="#000" stroke-width="5" stroke-linecap="round"/>
<text x="1482.85" y="33.8" font-size="33.5" text-anchor="middle" textLength="83.2" lengthAdjust="spacingAndGlyphs">128°E</text>
<line x1="44.6" y1="171" x2="53.5" y2="171" stroke="#000" stroke-width="5" stroke-linecap="round"/>
<text transform="translate(33.2,170.5) rotate(-90)" font-size="33.5" text-anchor="middle" textLength="68.8" lengthAdjust="spacingAndGlyphs">45°N</text>
<line x1="44.6" y1="318" x2="53.5" y2="318" stroke="#000" stroke-width="5" stroke-linecap="round"/>
<text transform="translate(33.2,317.5) rotate(-90)" font-size="33.5" text-anchor="middle" textLength="68.8" lengthAdjust="spacingAndGlyphs">42°N</text>
<text x="56.5" y="467.5" font-size="40.3">Drought</text>
<text x="224.2" y="467.5" font-size="40.3">frequency</text>
<text x="823" y="467.9" font-size="40.3" textLength="236" lengthAdjust="spacingAndGlyphs">Waterlogging</text>
<text x="1080.5" y="467.9" font-size="40.3">frequency</text>
<rect x="47.9" y="491.8" width="682.9" height="41" fill="url(#cbr)"/>
<rect x="817.2" y="491.6" width="683" height="41.2" fill="url(#cbb)"/>
<line x1="186.9" y1="532.8" x2="186.9" y2="536" stroke="#222" stroke-width="1.8"/>
<line x1="330.6" y1="532.8" x2="330.6" y2="536" stroke="#222" stroke-width="1.8"/>
<line x1="474.1" y1="532.8" x2="474.1" y2="536" stroke="#222" stroke-width="1.8"/>
<line x1="618.4" y1="532.8" x2="618.4" y2="536" stroke="#222" stroke-width="1.8"/>
<line x1="730.3" y1="532.8" x2="730.3" y2="536" stroke="#222" stroke-width="1.8"/>
<line x1="918.6" y1="532.8" x2="918.6" y2="536" stroke="#222" stroke-width="1.8"/>
<line x1="1063.8" y1="532.8" x2="1063.8" y2="536" stroke="#222" stroke-width="1.8"/>
<line x1="1209.3" y1="532.8" x2="1209.3" y2="536" stroke="#222" stroke-width="1.8"/>
<line x1="1355" y1="532.8" x2="1355" y2="536" stroke="#222" stroke-width="1.8"/>
<line x1="1499.6" y1="532.8" x2="1499.6" y2="536" stroke="#222" stroke-width="1.8"/>
<text x="63.7" y="575.2" font-size="35.5" text-anchor="middle">0</text>
<text x="186.8" y="575.2" font-size="35.5" text-anchor="middle">0.2</text>
<text x="328.3" y="575.2" font-size="35.5" text-anchor="middle">0.4</text>
<text x="468.4" y="575.2" font-size="35.5" text-anchor="middle">0.6</text>
<text x="609.5" y="575.2" font-size="35.5" text-anchor="middle">0.8</text>
<text x="733" y="575.2" font-size="35.5" text-anchor="middle">1</text>
<text x="823" y="575.2" font-size="35.5" text-anchor="middle">0</text>
<text x="946" y="575.2" font-size="35.5" text-anchor="middle">0.2</text>
<text x="1087.7" y="575.2" font-size="35.5" text-anchor="middle">0.4</text>
<text x="1228.7" y="575.2" font-size="35.5" text-anchor="middle">0.6</text>
<text x="1368.8" y="575.2" font-size="35.5" text-anchor="middle">0.8</text>
<text x="1493" y="575.2" font-size="35.5" text-anchor="middle">1</text>
</svg></body></html>
